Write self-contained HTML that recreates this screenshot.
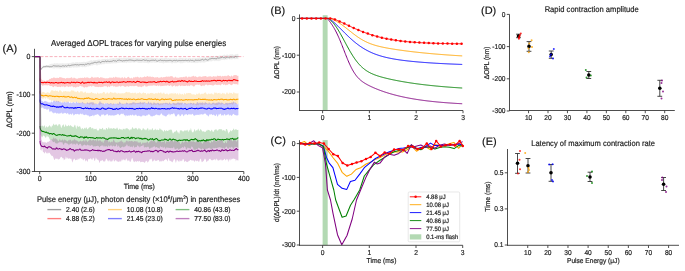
<!DOCTYPE html>
<html><head><meta charset="utf-8"><style>
html,body{margin:0;padding:0;background:#fff;}
svg{display:block;font-family:"Liberation Sans", sans-serif;text-rendering:geometricPrecision;}
text{-webkit-font-smoothing:antialiased;stroke:#222;stroke-width:0.18px;}
.wrap{will-change:transform;filter:blur(0.3px);}
</style></head><body>
<div class="wrap"><svg width="685" height="271" viewBox="0 0 685 271">
<rect width="685" height="271" fill="#fff"/>
<line x1="40.5" y1="56.6" x2="243.5" y2="56.6" stroke="#f5a3b0" stroke-width="0.85" stroke-dasharray="3,1.6"/>
<polygon points="40.3,57.6 41.4,67.21 41.9,66.6 42.4,66.05 42.9,65.65 43.4,65.51 43.9,65.39 44.4,65.55 44.9,65.65 45.4,65.33 45.9,65.21 46.4,65.32 46.9,65.33 47.4,65.16 47.9,64.93 48.4,64.97 48.9,64.93 49.4,64.45 49.9,64.3 50.4,63.94 50.9,63.89 51.4,63.75 51.9,63.86 52.4,63.65 52.9,63.8 53.4,63.78 53.9,63.5 54.4,63.04 54.9,63.35 55.4,63.53 55.9,63.48 56.4,63.17 56.9,63.28 57.4,63.25 57.9,63.33 58.4,63.65 58.9,63.35 59.4,63.4 59.9,63.58 60.4,63.38 60.9,63.35 61.4,63.43 61.9,63.32 62.4,63.1 62.9,63.41 63.4,63.58 63.9,63.25 64.4,63.47 64.9,63.38 65.4,63.35 65.9,63.74 66.4,63.51 66.9,63.05 67.4,63.17 67.9,63.3 68.4,63.11 68.9,63.16 69.4,63.06 69.9,63.22 70.4,63.24 70.9,62.83 71.4,62.73 71.9,62.66 72.4,62.57 72.9,62.31 73.4,62.35 73.9,62.56 74.4,62.75 74.9,62.67 75.4,62.12 75.9,62.15 76.4,62.28 76.9,61.88 77.4,62.06 77.9,62.34 78.4,62.55 78.9,62.47 79.4,62.17 79.9,62.05 80.4,62.15 80.9,62.42 81.4,62.1 81.9,62.02 82.4,62.09 82.9,62.01 83.4,61.83 83.9,61.74 84.4,61.85 84.9,61.91 85.4,62.07 85.9,61.93 86.4,61.74 86.9,61.72 87.4,61.53 87.9,61.57 88.4,61.32 88.9,61.21 89.4,60.82 89.9,60.85 90.4,60.39 90.9,60.2 91.4,60.37 91.9,60.37 92.4,60.63 92.9,60.83 93.4,60.22 93.9,60.12 94.4,60.24 94.9,60.25 95.4,59.96 95.9,59.93 96.4,60.07 96.9,59.97 97.4,59.65 97.9,59.64 98.4,59.58 98.9,59.4 99.4,59.55 99.9,59.59 100.4,59.82 100.9,59.7 101.4,59.52 101.9,59.33 102.4,59.21 102.9,58.83 103.4,58.93 103.9,59.07 104.4,58.74 104.9,59 105.4,58.8 105.9,58.98 106.4,58.88 106.9,59.04 107.4,58.84 107.9,58.61 108.4,59.07 108.9,59.13 109.4,58.74 109.9,58.52 110.4,58.43 110.9,58.39 111.4,58.58 111.9,58.38 112.4,58.27 112.9,58.11 113.4,58.03 113.9,58.04 114.4,58.44 114.9,58.37 115.4,58.4 115.9,58.25 116.4,57.97 116.9,57.96 117.4,57.95 117.9,58.01 118.4,57.95 118.9,57.87 119.4,57.61 119.9,57.85 120.4,58.25 120.9,57.9 121.4,57.73 121.9,58.05 122.4,58.16 122.9,57.7 123.4,57.71 123.9,57.66 124.4,57.49 124.9,57.9 125.4,57.94 125.9,57.85 126.4,57.78 126.9,57.87 127.4,57.76 127.9,57.68 128.4,57.4 128.9,57.55 129.4,57.92 129.9,57.68 130.4,57.65 130.9,57.64 131.4,57.55 131.9,57.57 132.4,57.81 132.9,57.82 133.4,57.78 133.9,57.96 134.4,58.2 134.9,58.16 135.4,57.96 135.9,57.69 136.4,57.61 136.9,58.06 137.4,58.09 137.9,57.9 138.4,58.03 138.9,58.19 139.4,58.29 139.9,58.21 140.4,58.04 140.9,58.19 141.4,57.83 141.9,58.05 142.4,58.18 142.9,58.3 143.4,58.53 143.9,58.24 144.4,57.56 144.9,57.43 145.4,57.79 145.9,57.62 146.4,57.81 146.9,57.91 147.4,57.4 147.9,57.27 148.4,57.81 148.9,57.96 149.4,57.85 149.9,57.85 150.4,57.71 150.9,57.63 151.4,57.86 151.9,57.76 152.4,57.74 152.9,58.15 153.4,58.23 153.9,58.25 154.4,58.01 154.9,57.97 155.4,57.97 155.9,58 156.4,58.16 156.9,58.11 157.4,58.32 157.9,58.52 158.4,58.7 158.9,58.21 159.4,58.36 159.9,58.26 160.4,58.13 160.9,57.92 161.4,58.08 161.9,58.3 162.4,58.23 162.9,58.12 163.4,58.14 163.9,58.39 164.4,58.09 164.9,57.61 165.4,57.65 165.9,57.45 166.4,57.29 166.9,57.97 167.4,58.49 167.9,58.27 168.4,57.89 168.9,57.97 169.4,58.39 169.9,58.33 170.4,58.17 170.9,58.15 171.4,58.18 171.9,58.39 172.4,58.37 172.9,58.16 173.4,58.02 173.9,58.23 174.4,58.26 174.9,58.42 175.4,58.1 175.9,58.24 176.4,58.22 176.9,58.15 177.4,58.73 177.9,58.73 178.4,58.28 178.9,58.28 179.4,58.01 179.9,57.53 180.4,57.86 180.9,58.01 181.4,57.96 181.9,57.78 182.4,57.85 182.9,58.07 183.4,58.34 183.9,58.25 184.4,58.17 184.9,58.38 185.4,58.03 185.9,57.77 186.4,57.68 186.9,58.29 187.4,58.41 187.9,58.31 188.4,58.18 188.9,58.05 189.4,58.03 189.9,57.96 190.4,57.96 190.9,58.16 191.4,58.49 191.9,58.31 192.4,58.08 192.9,57.97 193.4,58.1 193.9,58.46 194.4,58.3 194.9,58.14 195.4,57.97 195.9,57.79 196.4,58.06 196.9,58.2 197.4,57.97 197.9,57.88 198.4,57.89 198.9,57.85 199.4,57.49 199.9,57.5 200.4,57.55 200.9,57.69 201.4,57.56 201.9,57.73 202.4,57.85 202.9,57.36 203.4,57.18 203.9,57.28 204.4,57.25 204.9,57.11 205.4,57.44 205.9,57.63 206.4,57.16 206.9,56.85 207.4,56.76 207.9,56.79 208.4,56.42 208.9,56.43 209.4,56.65 209.9,56.43 210.4,56.74 210.9,56.85 211.4,56.59 211.9,56.61 212.4,56.71 212.9,56.25 213.4,55.88 213.9,55.83 214.4,56.19 214.9,56.57 215.4,56.4 215.9,55.86 216.4,55.77 216.9,55.88 217.4,56.04 217.9,55.95 218.4,55.91 218.9,55.79 219.4,55.58 219.9,55.5 220.4,55.51 220.9,55.47 221.4,55.63 221.9,55.82 222.4,55.57 222.9,55.18 223.4,54.83 223.9,54.94 224.4,54.61 224.9,54.7 225.4,55.13 225.9,55.2 226.4,54.82 226.9,54.45 227.4,54.54 227.9,54.71 228.4,55.02 228.9,55.26 229.4,54.79 229.9,54.37 230.4,54.24 230.9,54.49 231.4,54.41 231.9,54.3 232.4,54.34 232.9,54.34 233.4,54.77 233.9,54.91 234.4,54.7 234.9,54.38 235.4,54.34 235.9,54.27 236.4,54.14 236.9,54.06 237.4,53.85 237.9,53.89 238.4,54.35 238.4,59.2 237.9,59.19 237.4,59.1 236.9,58.97 236.4,59.12 235.9,59.24 235.4,59.05 234.9,58.89 234.4,59.4 233.9,59.03 233.4,58.85 232.9,59.18 232.4,59.3 231.9,59.45 231.4,59.48 230.9,59.33 230.4,59.29 229.9,59.51 229.4,59.56 228.9,59.25 228.4,59.06 227.9,59.25 227.4,59.53 226.9,59.77 226.4,59.74 225.9,59.58 225.4,59.53 224.9,59.71 224.4,60.19 223.9,60.02 223.4,59.82 222.9,59.74 222.4,59.93 221.9,59.84 221.4,60.03 220.9,60.42 220.4,60.44 219.9,60.58 219.4,60.92 218.9,61.25 218.4,61.02 217.9,60.72 217.4,60.97 216.9,61.16 216.4,60.66 215.9,60.59 215.4,61.05 214.9,61.26 214.4,60.93 213.9,60.54 213.4,60.7 212.9,60.59 212.4,60.94 211.9,61.47 211.4,61.31 210.9,61.35 210.4,61.28 209.9,61.29 209.4,61.33 208.9,61.62 208.4,61.78 207.9,61.61 207.4,61.84 206.9,61.82 206.4,61.91 205.9,62.1 205.4,62.24 204.9,62.45 204.4,62.54 203.9,62.66 203.4,62.44 202.9,62.31 202.4,62.45 201.9,62.32 201.4,62.47 200.9,62.66 200.4,62.78 199.9,62.61 199.4,62.62 198.9,62.57 198.4,62.64 197.9,62.75 197.4,63.01 196.9,63.22 196.4,62.76 195.9,62.49 195.4,63.23 194.9,63.31 194.4,62.81 193.9,62.88 193.4,63 192.9,62.7 192.4,62.63 191.9,62.89 191.4,62.92 190.9,62.75 190.4,62.6 189.9,62.38 189.4,62.84 188.9,62.82 188.4,62.87 187.9,62.85 187.4,62.77 186.9,62.62 186.4,62.29 185.9,62.26 185.4,62.8 184.9,62.61 184.4,62.66 183.9,62.63 183.4,62.79 182.9,63.2 182.4,63.14 181.9,62.86 181.4,63.28 180.9,63.53 180.4,63.13 179.9,62.85 179.4,62.87 178.9,62.49 178.4,62.46 177.9,62.42 177.4,62.59 176.9,62.85 176.4,63.24 175.9,63.2 175.4,62.9 174.9,62.89 174.4,63.14 173.9,62.98 173.4,62.74 172.9,62.74 172.4,63.39 171.9,63.64 171.4,63.09 170.9,62.63 170.4,62.64 169.9,62.61 169.4,62.74 168.9,62.98 168.4,62.7 167.9,62.52 167.4,63.1 166.9,63.08 166.4,63.09 165.9,63.01 165.4,63.03 164.9,62.85 164.4,63.01 163.9,63.31 163.4,63.6 162.9,63.36 162.4,63.07 161.9,62.96 161.4,62.96 160.9,62.74 160.4,63.01 159.9,62.96 159.4,63.12 158.9,62.61 158.4,62.24 157.9,62.38 157.4,62.34 156.9,62.45 156.4,62.87 155.9,62.8 155.4,62.68 154.9,62.81 154.4,62.86 153.9,62.53 153.4,62.6 152.9,62.51 152.4,62.73 151.9,62.81 151.4,62.86 150.9,62.8 150.4,62.56 149.9,62.6 149.4,63.05 148.9,63.31 148.4,63.14 147.9,63.32 147.4,63.02 146.9,63.1 146.4,63.02 145.9,62.81 145.4,62.92 144.9,62.84 144.4,62.91 143.9,62.7 143.4,62.73 142.9,62.74 142.4,62.58 141.9,62.79 141.4,63.02 140.9,62.98 140.4,62.85 139.9,62.88 139.4,62.94 138.9,62.78 138.4,62.89 137.9,62.84 137.4,62.43 136.9,62.16 136.4,62.16 135.9,62.27 135.4,62.48 134.9,62.41 134.4,62.54 133.9,62.66 133.4,62.43 132.9,62.5 132.4,62.16 131.9,62.55 131.4,62.61 130.9,62.71 130.4,62.66 129.9,62.61 129.4,62.82 128.9,62.86 128.4,62.66 127.9,62.31 127.4,62.29 126.9,63.08 126.4,63.14 125.9,62.72 125.4,62.65 124.9,62.58 124.4,63.02 123.9,62.94 123.4,62.87 122.9,62.8 122.4,62.67 121.9,62.75 121.4,62.53 120.9,62.52 120.4,62.71 119.9,62.79 119.4,62.71 118.9,62.71 118.4,62.92 117.9,63 117.4,62.97 116.9,63.24 116.4,63.25 115.9,63.24 115.4,63.58 114.9,63.53 114.4,63.22 113.9,62.99 113.4,63.41 112.9,63.69 112.4,63.26 111.9,63.35 111.4,63.57 110.9,63.38 110.4,63.76 109.9,63.63 109.4,63.39 108.9,63.52 108.4,63.82 107.9,63.78 107.4,63.84 106.9,63.98 106.4,63.86 105.9,63.34 105.4,63.65 104.9,64.09 104.4,64.13 103.9,64.26 103.4,64.15 102.9,64.03 102.4,64.33 101.9,64.58 101.4,64.48 100.9,64.46 100.4,64.26 99.9,64.7 99.4,64.66 98.9,64.75 98.4,64.84 97.9,64.92 97.4,65.42 96.9,65.66 96.4,65.25 95.9,64.79 95.4,64.83 94.9,64.82 94.4,65.12 93.9,65.08 93.4,65.05 92.9,65.5 92.4,65.41 91.9,65.32 91.4,65.59 90.9,65.82 90.4,65.9 89.9,66.03 89.4,66.09 88.9,66.38 88.4,66.41 87.9,66.27 87.4,66.36 86.9,66.86 86.4,66.88 85.9,66.87 85.4,67.14 84.9,67.39 84.4,67.12 83.9,66.78 83.4,67.04 82.9,67.14 82.4,67.32 81.9,67.05 81.4,66.97 80.9,66.82 80.4,66.58 79.9,66.88 79.4,67.38 78.9,67.3 78.4,67.14 77.9,67.15 77.4,67.59 76.9,67.87 76.4,67.38 75.9,67.24 75.4,67.42 74.9,67.32 74.4,67.61 73.9,67.69 73.4,67.73 72.9,67.33 72.4,67.23 71.9,67.45 71.4,67.7 70.9,67.64 70.4,67.78 69.9,68.02 69.4,68.04 68.9,67.67 68.4,67.45 67.9,67.78 67.4,68.03 66.9,67.94 66.4,67.67 65.9,67.63 65.4,67.95 64.9,67.99 64.4,68.08 63.9,68.26 63.4,68.2 62.9,68.17 62.4,68.37 61.9,68.16 61.4,68.12 60.9,68.26 60.4,68.89 59.9,68.73 59.4,68.3 58.9,68.14 58.4,68.32 57.9,68.27 57.4,68.28 56.9,68.18 56.4,68.27 55.9,68.21 55.4,67.94 54.9,68.13 54.4,68.62 53.9,68.8 53.4,68.33 52.9,68.3 52.4,68.22 51.9,68.04 51.4,67.83 50.9,68.04 50.4,68.11 49.9,68.08 49.4,68.11 48.9,67.94 48.4,67.97 47.9,67.93 47.4,68 46.9,68.01 46.4,68.07 45.9,67.69 45.4,67.95 44.9,68.22 44.4,67.97 43.9,67.97 43.4,68.01 42.9,68.1 42.4,68.73 41.9,69.52 41.4,69.97 40.3,69.51" fill="#808080" fill-opacity="0.14" stroke="none"/>
<polygon points="40.3,57.6 41.4,79.25 41.9,79.57 42.4,80.41 42.9,80.22 43.4,80.53 43.9,80.96 44.4,80.72 44.9,80.78 45.4,81.48 45.9,81.01 46.4,80.4 46.9,80.57 47.4,80.48 47.9,80.01 48.4,80.16 48.9,79.71 49.4,78.73 49.9,78.94 50.4,78.98 50.9,78.45 51.4,77.91 51.9,78.13 52.4,78.3 52.9,77.88 53.4,77.36 53.9,77.85 54.4,77.44 54.9,77.8 55.4,78.32 55.9,77.69 56.4,77.76 56.9,78.17 57.4,77.77 57.9,77.76 58.4,78.06 58.9,78.06 59.4,76.91 59.9,77.16 60.4,77.37 60.9,77.32 61.4,77.4 61.9,77.56 62.4,77.9 62.9,77.81 63.4,78.12 63.9,78.36 64.4,77.91 64.9,78.28 65.4,78.87 65.9,78.48 66.4,77.92 66.9,77.9 67.4,77.76 67.9,78.16 68.4,78.21 68.9,77.69 69.4,77.88 69.9,78.19 70.4,77.79 70.9,77.77 71.4,77.28 71.9,77.28 72.4,77.9 72.9,78.78 73.4,78.01 73.9,77.56 74.4,77.67 74.9,77.93 75.4,78.24 75.9,78.42 76.4,78.87 76.9,78.56 77.4,78.74 77.9,78.48 78.4,78.23 78.9,77.7 79.4,77.96 79.9,78.28 80.4,77.91 80.9,77.38 81.4,78.11 81.9,77.93 82.4,77.74 82.9,77.87 83.4,77.88 83.9,77.91 84.4,77.2 84.9,77.29 85.4,77.79 85.9,77.91 86.4,77.55 86.9,77.33 87.4,77.21 87.9,77.69 88.4,77.95 88.9,77.47 89.4,78.31 89.9,78.19 90.4,77.78 90.9,77.93 91.4,77.06 91.9,76.62 92.4,76.99 92.9,77.59 93.4,77.75 93.9,77.64 94.4,77.68 94.9,77.11 95.4,77.72 95.9,77.37 96.4,77.54 96.9,77.52 97.4,77.22 97.9,77.08 98.4,77.24 98.9,77.74 99.4,78.11 99.9,77.95 100.4,77.31 100.9,77.11 101.4,77.38 101.9,77.56 102.4,77.19 102.9,78.17 103.4,77.88 103.9,77.65 104.4,78.09 104.9,78.47 105.4,78.32 105.9,78.42 106.4,78.12 106.9,78.52 107.4,78.48 107.9,78.08 108.4,78.34 108.9,77.98 109.4,77.63 109.9,77.36 110.4,77.59 110.9,77.96 111.4,77.39 111.9,77.85 112.4,77.91 112.9,77.55 113.4,76.79 113.9,77.39 114.4,77.84 114.9,77.47 115.4,77.07 115.9,76.59 116.4,77.26 116.9,77.48 117.4,77.65 117.9,77.02 118.4,77.61 118.9,77.65 119.4,77.69 119.9,77.32 120.4,77.68 120.9,78.54 121.4,77.66 121.9,77.14 122.4,77.27 122.9,77.38 123.4,78.36 123.9,78.48 124.4,77.28 124.9,76.8 125.4,77.95 125.9,78.27 126.4,78.16 126.9,77.98 127.4,77.21 127.9,77.03 128.4,76.67 128.9,76.95 129.4,77.79 129.9,77.89 130.4,78.57 130.9,78.1 131.4,77.55 131.9,78.25 132.4,78.65 132.9,77.93 133.4,77.09 133.9,77.54 134.4,77.86 134.9,77.08 135.4,76.87 135.9,77.5 136.4,77.2 136.9,76.66 137.4,76.74 137.9,76.84 138.4,77.27 138.9,77.44 139.4,77.81 139.9,77.41 140.4,76.71 140.9,77.14 141.4,77.54 141.9,77.46 142.4,77.46 142.9,76.94 143.4,76.9 143.9,77.37 144.4,76.53 144.9,76.15 145.4,77.1 145.9,76.91 146.4,76.68 146.9,76.27 147.4,76.02 147.9,76.19 148.4,76.75 148.9,76.84 149.4,76.28 149.9,76.98 150.4,76.6 150.9,76.61 151.4,77.2 151.9,76.87 152.4,76.52 152.9,77.33 153.4,76.98 153.9,77.02 154.4,77.42 154.9,77.63 155.4,77.2 155.9,77.35 156.4,77.13 156.9,77.45 157.4,77.03 157.9,77.01 158.4,77.88 158.9,77.45 159.4,77.39 159.9,78.08 160.4,77.46 160.9,76.91 161.4,77.19 161.9,76.84 162.4,77.57 162.9,77.73 163.4,77.06 163.9,76.98 164.4,77.34 164.9,77.11 165.4,76.85 165.9,76.93 166.4,76.18 166.9,76.66 167.4,76.79 167.9,76.8 168.4,76.68 168.9,76.29 169.4,76.82 169.9,76.64 170.4,76.22 170.9,76 171.4,76.07 171.9,76.56 172.4,76.31 172.9,76.87 173.4,77.56 173.9,77.78 174.4,77.73 174.9,76.89 175.4,76.53 175.9,77.24 176.4,77.48 176.9,77.69 177.4,77.42 177.9,77.64 178.4,77.66 178.9,77.63 179.4,77.47 179.9,77.36 180.4,77.3 180.9,77.25 181.4,77.29 181.9,77.05 182.4,77.44 182.9,76.99 183.4,76.9 183.9,76.69 184.4,76.84 184.9,77.51 185.4,76.78 185.9,76.07 186.4,76.23 186.9,76.9 187.4,77.77 187.9,77.37 188.4,77.05 188.9,76.37 189.4,76.63 189.9,77.07 190.4,77.25 190.9,76.57 191.4,76.71 191.9,76.61 192.4,76.19 192.9,76.37 193.4,76.08 193.9,75.61 194.4,76.58 194.9,76.88 195.4,76.32 195.9,76.09 196.4,77 196.9,76.95 197.4,77.16 197.9,77.17 198.4,76.56 198.9,76.7 199.4,76.43 199.9,76.21 200.4,76.39 200.9,76.66 201.4,76.99 201.9,76.71 202.4,76.4 202.9,76.48 203.4,76.49 203.9,76.04 204.4,76.13 204.9,76.18 205.4,76.03 205.9,76.11 206.4,76.29 206.9,77.26 207.4,76.94 207.9,76.4 208.4,76.31 208.9,76.96 209.4,76.51 209.9,76.12 210.4,76.19 210.9,76.38 211.4,76.67 211.9,76.67 212.4,76.91 212.9,76.19 213.4,76.24 213.9,76.07 214.4,76.76 214.9,76.28 215.4,76.23 215.9,76.73 216.4,76.72 216.9,75.92 217.4,75.81 217.9,75.58 218.4,76.01 218.9,76.12 219.4,75.91 219.9,75.75 220.4,75.85 220.9,75.95 221.4,76.57 221.9,76.64 222.4,75.7 222.9,76 223.4,76.19 223.9,76.33 224.4,75.88 224.9,75.73 225.4,75.66 225.9,76.18 226.4,76.13 226.9,75.81 227.4,75.8 227.9,75.36 228.4,74.93 228.9,75.75 229.4,75.99 229.9,76.04 230.4,76.52 230.9,76.42 231.4,75.5 231.9,75.52 232.4,76.53 232.9,76.56 233.4,75.53 233.9,75.07 234.4,75.13 234.9,75.06 235.4,74.9 235.9,75.37 236.4,75.17 236.9,75.34 237.4,76.04 237.9,75.67 238.4,75.67 238.4,84.8 237.9,84.47 237.4,84.54 236.9,84.41 236.4,84 235.9,83.91 235.4,84.28 234.9,84.18 234.4,84.04 233.9,83.93 233.4,83.57 232.9,84.11 232.4,84.82 231.9,85.01 231.4,85.14 230.9,85 230.4,84.65 229.9,84.33 229.4,83.97 228.9,83.89 228.4,84.25 227.9,84.62 227.4,85.12 226.9,85.29 226.4,84.74 225.9,84.84 225.4,85.41 224.9,84.78 224.4,84.32 223.9,84.73 223.4,85.02 222.9,84.18 222.4,83.82 221.9,84.03 221.4,84.56 220.9,85.31 220.4,85.38 219.9,84.48 219.4,84.93 218.9,85.1 218.4,84.87 217.9,84.82 217.4,85.23 216.9,84.84 216.4,85.05 215.9,84.89 215.4,84.27 214.9,84.43 214.4,84.99 213.9,85.03 213.4,85.72 212.9,85.46 212.4,85.61 211.9,85.07 211.4,85.2 210.9,84.91 210.4,84.94 209.9,84.96 209.4,84.82 208.9,85.2 208.4,85.02 207.9,85.14 207.4,85.39 206.9,84.71 206.4,84.39 205.9,84.8 205.4,84.72 204.9,85.07 204.4,85.97 203.9,86.17 203.4,85.19 202.9,85.42 202.4,85.48 201.9,85.96 201.4,86.18 200.9,85.87 200.4,85.6 199.9,84.86 199.4,84.47 198.9,84.76 198.4,84.95 197.9,84.77 197.4,84.62 196.9,84.77 196.4,84.72 195.9,84.84 195.4,85.06 194.9,85.77 194.4,86.35 193.9,87.05 193.4,86.35 192.9,85.71 192.4,85.76 191.9,85.26 191.4,85.27 190.9,85.53 190.4,85.11 189.9,85.76 189.4,86.16 188.9,85.94 188.4,85.56 187.9,85.53 187.4,86.33 186.9,85.71 186.4,85.16 185.9,85.73 185.4,85.97 184.9,86.03 184.4,86.03 183.9,85.85 183.4,86.04 182.9,86.23 182.4,85.52 181.9,85.56 181.4,85.73 180.9,85.93 180.4,86.36 179.9,86.05 179.4,85.03 178.9,85.14 178.4,85.9 177.9,86.12 177.4,86.44 176.9,86.19 176.4,86.01 175.9,86.31 175.4,86.66 174.9,85.46 174.4,85.36 173.9,85.99 173.4,85.77 172.9,86.22 172.4,86.87 171.9,86.42 171.4,85.78 170.9,85.06 170.4,85.25 169.9,86.02 169.4,85.96 168.9,85.73 168.4,85.44 167.9,85.06 167.4,85.53 166.9,85.58 166.4,85.69 165.9,85.7 165.4,85.43 164.9,85.63 164.4,85.74 163.9,85.53 163.4,86.01 162.9,86.08 162.4,85.88 161.9,85.67 161.4,86.03 160.9,86.42 160.4,86.12 159.9,85.3 159.4,85.57 158.9,86.15 158.4,85.9 157.9,85.56 157.4,85.37 156.9,85.93 156.4,86.04 155.9,85.71 155.4,85.45 154.9,85.94 154.4,85.23 153.9,84.91 153.4,85.43 152.9,85.76 152.4,85.51 151.9,85.66 151.4,85.66 150.9,85.22 150.4,85.86 149.9,86.16 149.4,85.56 148.9,85.47 148.4,86.06 147.9,86.05 147.4,86.54 146.9,86.61 146.4,86.59 145.9,86.65 145.4,86.24 144.9,85.05 144.4,85.62 143.9,86.12 143.4,86.51 142.9,86.01 142.4,86.55 141.9,87.31 141.4,86.91 140.9,86.75 140.4,86.66 139.9,86.61 139.4,86.85 138.9,86.57 138.4,86.94 137.9,86.94 137.4,86.21 136.9,85.78 136.4,85.7 135.9,85.91 135.4,85.78 134.9,86.05 134.4,86.31 133.9,86.04 133.4,86.35 132.9,86.37 132.4,85.82 131.9,86.01 131.4,86.28 130.9,86.06 130.4,85.95 129.9,85.73 129.4,86.21 128.9,86.74 128.4,86.79 127.9,86.2 127.4,86.23 126.9,86.09 126.4,86.57 125.9,86.77 125.4,86.68 124.9,87.03 124.4,86.62 123.9,86.23 123.4,86.01 122.9,85.71 122.4,85.75 121.9,86.34 121.4,86.12 120.9,86.42 120.4,86.83 119.9,85.87 119.4,86.03 118.9,86.5 118.4,86.26 117.9,86.54 117.4,86.72 116.9,86.46 116.4,86.68 115.9,87.19 115.4,86.5 114.9,86.38 114.4,85.96 113.9,86.8 113.4,86.46 112.9,85.54 112.4,85.79 111.9,86.19 111.4,86.05 110.9,85.42 110.4,86.11 109.9,87.17 109.4,86.66 108.9,86.64 108.4,86.08 107.9,86.92 107.4,87.39 106.9,86.39 106.4,86.18 105.9,85.95 105.4,86.34 104.9,86.71 104.4,85.63 103.9,86.23 103.4,86.84 102.9,86.71 102.4,86.94 101.9,86.84 101.4,87.02 100.9,87.15 100.4,86.91 99.9,86.68 99.4,86.78 98.9,87 98.4,87.18 97.9,86.83 97.4,87.02 96.9,86.92 96.4,86.77 95.9,86.8 95.4,87.05 94.9,86.53 94.4,86.54 93.9,86.16 93.4,85.79 92.9,85.56 92.4,86.3 91.9,86.55 91.4,86.63 90.9,86.07 90.4,85.97 89.9,86.32 89.4,86.43 88.9,86.35 88.4,86.49 87.9,86.69 87.4,87.25 86.9,87.21 86.4,87.18 85.9,87.17 85.4,86.73 84.9,87.52 84.4,87.67 83.9,87.14 83.4,87.21 82.9,87.01 82.4,86.33 81.9,86.61 81.4,86.44 80.9,85.83 80.4,85.94 79.9,85.8 79.4,86.2 78.9,86.82 78.4,86.9 77.9,86.84 77.4,86.81 76.9,86.87 76.4,87.33 75.9,87.61 75.4,87.44 74.9,87.3 74.4,86.93 73.9,87.08 73.4,87.46 72.9,87.03 72.4,86.36 71.9,86.03 71.4,86.49 70.9,86.48 70.4,86.69 69.9,86.55 69.4,86.44 68.9,86.78 68.4,87.26 67.9,86.84 67.4,86.49 66.9,85.74 66.4,86.5 65.9,86.67 65.4,86.77 64.9,87.6 64.4,87.11 63.9,86.37 63.4,86.42 62.9,86.76 62.4,86.66 61.9,86.25 61.4,86.59 60.9,87.05 60.4,87.21 59.9,86.87 59.4,86.66 58.9,86.98 58.4,86.85 57.9,86.91 57.4,86.93 56.9,86.95 56.4,86.25 55.9,86.23 55.4,86.4 54.9,86.26 54.4,86.08 53.9,86.94 53.4,87.2 52.9,86.69 52.4,86.68 51.9,85.99 51.4,86 50.9,86.14 50.4,85.92 49.9,86.02 49.4,85.47 48.9,85.19 48.4,85.02 47.9,85.31 47.4,85.45 46.9,85.17 46.4,85.35 45.9,85.28 45.4,85.19 44.9,85.26 44.4,85.22 43.9,84.93 43.4,85.48 42.9,86.04 42.4,85.77 41.9,84.67 41.4,84.65 40.3,84.38" fill="#ff0000" fill-opacity="0.22" stroke="none"/>
<polygon points="40.3,57.6 41.4,92.81 41.9,92.68 42.4,91.83 42.9,91.96 43.4,92.03 43.9,91.79 44.4,92.44 44.9,92.81 45.4,92.75 45.9,93.52 46.4,92.7 46.9,92.38 47.4,92.21 47.9,92.18 48.4,92.52 48.9,92.75 49.4,93.27 49.9,92.68 50.4,92.06 50.9,91.05 51.4,90.18 51.9,90.28 52.4,90.31 52.9,90.62 53.4,90.44 53.9,91.23 54.4,91.01 54.9,90.71 55.4,90.47 55.9,90.57 56.4,90.96 56.9,90.89 57.4,90.43 57.9,91.24 58.4,92.26 58.9,91.14 59.4,90.52 59.9,90.09 60.4,90.04 60.9,91.27 61.4,91.22 61.9,91.47 62.4,92.49 62.9,92.36 63.4,90.91 63.9,91.35 64.4,91.39 64.9,91.16 65.4,91.02 65.9,91.03 66.4,91.59 66.9,91.43 67.4,91.26 67.9,91.64 68.4,91.53 68.9,91.27 69.4,91.52 69.9,91.98 70.4,91.44 70.9,90.72 71.4,90.27 71.9,90.36 72.4,90.35 72.9,90.99 73.4,90.89 73.9,90.1 74.4,91.25 74.9,92.06 75.4,91.75 75.9,91.43 76.4,92.17 76.9,91.44 77.4,90.79 77.9,91.11 78.4,91.75 78.9,92.6 79.4,92.67 79.9,92.06 80.4,91.25 80.9,91.25 81.4,91.36 81.9,91.55 82.4,91.24 82.9,92.32 83.4,92.86 83.9,92.72 84.4,92.46 84.9,91.82 85.4,91.4 85.9,92.22 86.4,93.33 86.9,93.17 87.4,92.55 87.9,92.97 88.4,92.85 88.9,93.61 89.4,93.1 89.9,92.76 90.4,92.95 90.9,92.46 91.4,92.1 91.9,92.1 92.4,92.97 92.9,93.15 93.4,92.97 93.9,93.32 94.4,93.85 94.9,93.26 95.4,92.94 95.9,93.93 96.4,94.31 96.9,93.31 97.4,92.16 97.9,92.88 98.4,93.62 98.9,93.8 99.4,93.87 99.9,92.88 100.4,93.3 100.9,93.25 101.4,93.6 101.9,93.25 102.4,93.16 102.9,92.4 103.4,91.77 103.9,91.89 104.4,92.22 104.9,92.47 105.4,93.67 105.9,94.02 106.4,93.27 106.9,92.53 107.4,92.42 107.9,92.62 108.4,93.63 108.9,93.41 109.4,93.23 109.9,92.42 110.4,91.65 110.9,91.89 111.4,92.24 111.9,92.99 112.4,92.87 112.9,92.39 113.4,92.73 113.9,93.49 114.4,92.5 114.9,92.28 115.4,92.71 115.9,92.61 116.4,92.97 116.9,93.82 117.4,93.88 117.9,92.54 118.4,92.93 118.9,93.36 119.4,93.38 119.9,93.16 120.4,93.27 120.9,93.75 121.4,93.29 121.9,93.28 122.4,93.31 122.9,93.3 123.4,93.21 123.9,93.5 124.4,93.06 124.9,92.99 125.4,92.57 125.9,92.07 126.4,91.83 126.9,92.02 127.4,92.54 127.9,92.21 128.4,92.05 128.9,92.86 129.4,92.59 129.9,92.1 130.4,93.3 130.9,93.02 131.4,92.92 131.9,93.24 132.4,92.75 132.9,92.71 133.4,93.56 133.9,92.74 134.4,92.73 134.9,93.12 135.4,92.54 135.9,92.65 136.4,93.44 136.9,94.18 137.4,92.81 137.9,92.88 138.4,93.26 138.9,92.91 139.4,92.25 139.9,92.61 140.4,92.98 140.9,93.32 141.4,93.74 141.9,93.75 142.4,93.24 142.9,92.85 143.4,92.32 143.9,92.82 144.4,93.22 144.9,92.99 145.4,93.02 145.9,92.99 146.4,94.2 146.9,94.66 147.4,93.37 147.9,93.18 148.4,93.16 148.9,93.93 149.4,93.73 149.9,93.16 150.4,92.98 150.9,93 151.4,92.79 151.9,93.24 152.4,92.97 152.9,93.34 153.4,93.5 153.9,93.73 154.4,93.64 154.9,93.65 155.4,93.08 155.9,93.33 156.4,93.14 156.9,93.27 157.4,93.45 157.9,93.35 158.4,92.33 158.9,92.91 159.4,92.97 159.9,93.49 160.4,92.4 160.9,92.26 161.4,92.78 161.9,94.09 162.4,93.4 162.9,93.48 163.4,92.9 163.9,92.37 164.4,93.22 164.9,93.95 165.4,93.97 165.9,94.14 166.4,93.69 166.9,93.37 167.4,93.47 167.9,94.23 168.4,94.83 168.9,94.34 169.4,93.85 169.9,93.31 170.4,93.32 170.9,94.06 171.4,93.2 171.9,92.9 172.4,93.3 172.9,93.7 173.4,93.97 173.9,92.42 174.4,93.31 174.9,93.9 175.4,92.94 175.9,93.05 176.4,94.04 176.9,94.5 177.4,93.19 177.9,93.06 178.4,94.51 178.9,94.96 179.4,93.53 179.9,92.85 180.4,94.15 180.9,94.11 181.4,94.45 181.9,94.14 182.4,93.64 182.9,93.94 183.4,94.96 183.9,94.61 184.4,92.76 184.9,93.46 185.4,94.78 185.9,93.86 186.4,92.92 186.9,93.27 187.4,93.35 187.9,93.13 188.4,92.89 188.9,92.98 189.4,93.02 189.9,93.3 190.4,92.91 190.9,93.18 191.4,93.73 191.9,94.58 192.4,94.38 192.9,94.15 193.4,94.35 193.9,94.44 194.4,94.62 194.9,94.57 195.4,95.07 195.9,94.8 196.4,93.74 196.9,93.55 197.4,94.25 197.9,94.19 198.4,93.7 198.9,92.75 199.4,92.68 199.9,93.93 200.4,94.6 200.9,94.27 201.4,93.56 201.9,94.08 202.4,93.67 202.9,93.85 203.4,93.97 203.9,93.34 204.4,93 204.9,92.4 205.4,92.61 205.9,92.58 206.4,93.63 206.9,94.21 207.4,94.4 207.9,94.03 208.4,93.46 208.9,93.59 209.4,93.63 209.9,94.09 210.4,93.93 210.9,93.2 211.4,93.42 211.9,93.58 212.4,93.67 212.9,94.5 213.4,94.83 213.9,93.65 214.4,92.81 214.9,92.01 215.4,93 215.9,92.85 216.4,92.38 216.9,93.27 217.4,93.64 217.9,93.08 218.4,92.92 218.9,92.88 219.4,93.45 219.9,92.54 220.4,93.21 220.9,94.4 221.4,93.81 221.9,93.66 222.4,93.04 222.9,92.72 223.4,93.49 223.9,93.62 224.4,93.2 224.9,93.85 225.4,94.54 225.9,94.24 226.4,92.63 226.9,92.45 227.4,92.51 227.9,93.68 228.4,93.84 228.9,93.66 229.4,92.78 229.9,92.54 230.4,93.07 230.9,93.31 231.4,92.73 231.9,93.31 232.4,93.92 232.9,93.63 233.4,92.46 233.9,91.99 234.4,92.85 234.9,93.41 235.4,93.2 235.9,93.13 236.4,93.23 236.9,93.67 237.4,93.55 237.9,93.29 238.4,92.82 238.4,103.58 237.9,103.76 237.4,104.08 236.9,103.99 236.4,104.29 235.9,104.3 235.4,103.58 234.9,103.11 234.4,103.05 233.9,103.15 233.4,104.29 232.9,105 232.4,104.5 231.9,104.15 231.4,104.01 230.9,103.99 230.4,104.27 229.9,104.39 229.4,104.33 228.9,103.89 228.4,104.41 227.9,105.04 227.4,105.47 226.9,105.35 226.4,104.47 225.9,104.19 225.4,104.63 224.9,104.41 224.4,104.4 223.9,104.78 223.4,104.37 222.9,104.06 222.4,103.68 221.9,104.02 221.4,104.78 220.9,105.01 220.4,104.48 219.9,104.11 219.4,104.37 218.9,104.25 218.4,104.47 217.9,104.97 217.4,105.13 216.9,105.1 216.4,105.22 215.9,104.92 215.4,105.03 214.9,105.06 214.4,104.61 213.9,104.19 213.4,103.99 212.9,104.39 212.4,104.35 211.9,104.69 211.4,104.82 210.9,104.97 210.4,104.32 209.9,104.11 209.4,104.4 208.9,104.31 208.4,104.69 207.9,104.56 207.4,104.45 206.9,103.87 206.4,104.02 205.9,104.13 205.4,104.51 204.9,104.87 204.4,104.81 203.9,104.52 203.4,104.11 202.9,105.02 202.4,105.3 201.9,104.74 201.4,104.7 200.9,104.94 200.4,104.8 199.9,104.1 199.4,104.16 198.9,104.75 198.4,105.5 197.9,105.08 197.4,105.08 196.9,105.79 196.4,105.35 195.9,104.74 195.4,104.85 194.9,104.45 194.4,103.95 193.9,104.41 193.4,105.08 192.9,104.87 192.4,104.87 191.9,104.33 191.4,103.9 190.9,104.07 190.4,104.69 189.9,104.16 189.4,103.67 188.9,103.71 188.4,103.81 187.9,104.5 187.4,104.3 186.9,104.76 186.4,104.78 185.9,103.9 185.4,104.61 184.9,104.7 184.4,103.38 183.9,103.21 183.4,103.55 182.9,102.87 182.4,103.58 181.9,104.59 181.4,105.18 180.9,104.59 180.4,104.42 179.9,104.65 179.4,104.9 178.9,105.38 178.4,104.61 177.9,103.88 177.4,104.61 176.9,105.03 176.4,105.04 175.9,105.21 175.4,105.03 174.9,104.97 174.4,105.28 173.9,105.35 173.4,104.38 172.9,103.45 172.4,103.41 171.9,103.71 171.4,105 170.9,105.16 170.4,104.9 169.9,103.95 169.4,104.3 168.9,104.74 168.4,104.84 167.9,104.51 167.4,104.8 166.9,104.13 166.4,103.85 165.9,104.29 165.4,104.18 164.9,104.01 164.4,103.47 163.9,103.64 163.4,104.25 162.9,105.04 162.4,104.81 161.9,104.51 161.4,104.4 160.9,104.79 160.4,104.67 159.9,105.55 159.4,105.23 158.9,105.11 158.4,105.5 157.9,104.68 157.4,103.69 156.9,104.22 156.4,105.03 155.9,105.08 155.4,104.77 154.9,104.64 154.4,104.31 153.9,105 153.4,105.06 152.9,104.58 152.4,104.18 151.9,104.91 151.4,105.38 150.9,104.45 150.4,103.7 149.9,104.88 149.4,103.96 148.9,103.5 148.4,104.01 147.9,104.55 147.4,104.27 146.9,104.09 146.4,103.97 145.9,103.72 145.4,103.22 144.9,102.76 144.4,103.11 143.9,104.3 143.4,104.33 142.9,104.61 142.4,104.26 141.9,103.56 141.4,103.81 140.9,104.05 140.4,104.58 139.9,104.27 139.4,103.78 138.9,103.85 138.4,103.91 137.9,104.3 137.4,103.83 136.9,103.63 136.4,103.36 135.9,104.56 135.4,104.55 134.9,104.24 134.4,104.19 133.9,104.17 133.4,104.19 132.9,103.67 132.4,104.52 131.9,104.57 131.4,104.93 130.9,104.63 130.4,104.56 129.9,104.64 129.4,104.55 128.9,104.59 128.4,103.55 127.9,103.71 127.4,104.57 126.9,104.54 126.4,104.52 125.9,103.95 125.4,104.13 124.9,103.68 124.4,103.91 123.9,103.96 123.4,104.82 122.9,105.04 122.4,104.59 121.9,104.35 121.4,103.86 120.9,103.46 120.4,104.28 119.9,104.37 119.4,104.18 118.9,104.72 118.4,105.1 117.9,105.02 117.4,104.35 116.9,104.36 116.4,103.92 115.9,103.56 115.4,103.11 114.9,103.26 114.4,104.31 113.9,104.47 113.4,104.67 112.9,105.27 112.4,104.68 111.9,104.31 111.4,104.15 110.9,103.57 110.4,103.9 109.9,104.4 109.4,104.6 108.9,105.16 108.4,104.43 107.9,103.42 107.4,103.96 106.9,103.69 106.4,103.22 105.9,102.96 105.4,103.33 104.9,103.62 104.4,103.09 103.9,104.4 103.4,104.59 102.9,104.18 102.4,104.27 101.9,103.81 101.4,103.86 100.9,103.66 100.4,103.96 99.9,105.03 99.4,105.6 98.9,104.54 98.4,103.07 97.9,103.77 97.4,104.16 96.9,104.26 96.4,104.05 95.9,103.72 95.4,103.97 94.9,104.4 94.4,104.37 93.9,104.55 93.4,104.79 92.9,105.1 92.4,105.35 91.9,104.32 91.4,103.7 90.9,104.02 90.4,103.95 89.9,104.14 89.4,104.96 88.9,104.17 88.4,103.83 87.9,104.1 87.4,104.07 86.9,103.49 86.4,103.61 85.9,103.96 85.4,103.99 84.9,104.03 84.4,103.92 83.9,103.55 83.4,103.54 82.9,103.61 82.4,103.49 81.9,103.05 81.4,102.57 80.9,102.45 80.4,102.92 79.9,103.44 79.4,103.82 78.9,103.51 78.4,103.11 77.9,102.79 77.4,102.24 76.9,101.55 76.4,101.67 75.9,102.4 75.4,102.46 74.9,102.16 74.4,102.16 73.9,102.26 73.4,101.95 72.9,102.26 72.4,102.3 71.9,102.5 71.4,102.4 70.9,102.41 70.4,102.1 69.9,101.46 69.4,101.6 68.9,101.46 68.4,101.92 67.9,102.52 67.4,102.01 66.9,102.44 66.4,102.48 65.9,101.98 65.4,101.64 64.9,101.78 64.4,101.62 63.9,102.19 63.4,102.36 62.9,102.7 62.4,102.67 61.9,102.12 61.4,101.27 60.9,101.27 60.4,101.85 59.9,102.29 59.4,101.62 58.9,101.49 58.4,102.62 57.9,101.78 57.4,101.13 56.9,101.66 56.4,101.71 55.9,101.48 55.4,101.41 54.9,101.26 54.4,100.87 53.9,100.93 53.4,100.43 52.9,100.01 52.4,100.45 51.9,101.19 51.4,101.03 50.9,99.99 50.4,99.71 49.9,99.72 49.4,100.03 48.9,99.39 48.4,98.59 47.9,98.38 47.4,98.81 46.9,97.98 46.4,97.36 45.9,98.02 45.4,98.94 44.9,98.52 44.4,97.42 43.9,97.99 43.4,98.79 42.9,99.08 42.4,98.54 41.9,98.32 41.4,98 40.3,97.43" fill="#ffa500" fill-opacity="0.22" stroke="none"/>
<polygon points="40.3,57.6 41.4,100.73 41.9,100.8 42.4,101.32 42.9,101.51 43.4,101.95 43.9,101.71 44.4,101.1 44.9,101.19 45.4,101.18 45.9,100.71 46.4,101.16 46.9,101.97 47.4,101.61 47.9,102.49 48.4,102.52 48.9,102.3 49.4,102.46 49.9,102.48 50.4,102.63 50.9,101.95 51.4,101.57 51.9,101.8 52.4,102.69 52.9,101.97 53.4,100.74 53.9,100.67 54.4,100.72 54.9,100.97 55.4,101.4 55.9,101.84 56.4,100.48 56.9,101.27 57.4,101.46 57.9,100.96 58.4,101.06 58.9,101.22 59.4,101.76 59.9,102.12 60.4,101.6 60.9,102.46 61.4,102.32 61.9,102.72 62.4,102.5 62.9,102.57 63.4,102.45 63.9,102.45 64.4,101.73 64.9,101.44 65.4,102.27 65.9,102.77 66.4,102.82 66.9,101.35 67.4,101.97 67.9,102.51 68.4,101.59 68.9,102.27 69.4,103.33 69.9,102.91 70.4,102.12 70.9,102.96 71.4,103.25 71.9,102.92 72.4,102.71 72.9,102.49 73.4,101.89 73.9,102.24 74.4,102.86 74.9,103.09 75.4,103.61 75.9,102.41 76.4,101.26 76.9,102.01 77.4,102.7 77.9,102.98 78.4,102.74 78.9,102.65 79.4,103.21 79.9,102.7 80.4,102.88 80.9,102.51 81.4,102.4 81.9,103.06 82.4,101.68 82.9,102.19 83.4,103.12 83.9,103.19 84.4,103.5 84.9,103.19 85.4,103.28 85.9,104.15 86.4,103.23 86.9,102.75 87.4,102.24 87.9,102.47 88.4,103.3 88.9,103.16 89.4,102.77 89.9,102.5 90.4,102.72 90.9,101.97 91.4,102.27 91.9,102.54 92.4,102.28 92.9,102.52 93.4,102.45 93.9,102.55 94.4,103.86 94.9,103.84 95.4,103.72 95.9,103.31 96.4,103.68 96.9,103.9 97.4,104.16 97.9,104.33 98.4,103.37 98.9,103.05 99.4,102.37 99.9,100.85 100.4,101.68 100.9,102.65 101.4,102.94 101.9,102.78 102.4,103.52 102.9,103.68 103.4,103.2 103.9,103.9 104.4,104.23 104.9,103.35 105.4,102.97 105.9,103.75 106.4,103.38 106.9,103.14 107.4,103.13 107.9,103.14 108.4,103.84 108.9,104.01 109.4,104.1 109.9,103.55 110.4,102.95 110.9,103.17 111.4,103.56 111.9,103.87 112.4,104.74 112.9,103.62 113.4,103.29 113.9,104.03 114.4,103.96 114.9,103.39 115.4,103.33 115.9,103.78 116.4,103.92 116.9,103.86 117.4,103.4 117.9,103.58 118.4,103.9 118.9,103.15 119.4,101.55 119.9,102.11 120.4,102.67 120.9,103.14 121.4,103.5 121.9,104.01 122.4,103.83 122.9,103.41 123.4,103.86 123.9,104.25 124.4,103.43 124.9,103.62 125.4,104.12 125.9,103.3 126.4,102.2 126.9,102.92 127.4,103.07 127.9,103.24 128.4,103.77 128.9,103.45 129.4,103.13 129.9,103.46 130.4,103.35 130.9,103.11 131.4,103.16 131.9,102.89 132.4,102.44 132.9,102.48 133.4,102.5 133.9,101.98 134.4,102.28 134.9,103.45 135.4,103.02 135.9,102.77 136.4,102.91 136.9,102.93 137.4,102.91 137.9,102.83 138.4,102.78 138.9,102.98 139.4,102.51 139.9,102.64 140.4,101.71 140.9,101.96 141.4,102.95 141.9,102.67 142.4,102.46 142.9,102.61 143.4,102.39 143.9,102.5 144.4,101.97 144.9,102.4 145.4,102.85 145.9,103.6 146.4,103.62 146.9,103.1 147.4,103.74 147.9,102.77 148.4,101.53 148.9,101.77 149.4,103.48 149.9,103.24 150.4,102.55 150.9,102.4 151.4,102.65 151.9,103.54 152.4,103.51 152.9,103.98 153.4,102.89 153.9,101.91 154.4,102.85 154.9,102.9 155.4,103 155.9,103.79 156.4,103.36 156.9,103.51 157.4,102.93 157.9,102.5 158.4,102.89 158.9,102.97 159.4,103.82 159.9,103.85 160.4,103.29 160.9,103.39 161.4,103.45 161.9,103.28 162.4,103.53 162.9,103.36 163.4,103.29 163.9,102.76 164.4,103.14 164.9,103.24 165.4,102.81 165.9,102.66 166.4,102.71 166.9,103.13 167.4,102.77 167.9,103.44 168.4,103.89 168.9,103.1 169.4,102.17 169.9,103 170.4,103.67 170.9,103.45 171.4,103.89 171.9,103.82 172.4,103.27 172.9,102.89 173.4,102.71 173.9,102.9 174.4,103.09 174.9,103.46 175.4,103.5 175.9,103.25 176.4,103.25 176.9,103.22 177.4,102.39 177.9,102.39 178.4,102.6 178.9,102.8 179.4,102.88 179.9,102.73 180.4,102.6 180.9,103.31 181.4,103.06 181.9,102.19 182.4,102.64 182.9,102.83 183.4,103.92 183.9,103.15 184.4,102.76 184.9,103.02 185.4,102.96 185.9,103.32 186.4,103.95 186.9,103.46 187.4,103.68 187.9,103.4 188.4,102.93 188.9,103.73 189.4,103.51 189.9,103.19 190.4,102.57 190.9,103.09 191.4,103.07 191.9,103.02 192.4,104.01 192.9,103.37 193.4,102.78 193.9,103.08 194.4,103.6 194.9,103.68 195.4,103.57 195.9,103.97 196.4,103.57 196.9,102.36 197.4,102.21 197.9,102.29 198.4,103.03 198.9,103.59 199.4,103.2 199.9,102.33 200.4,102.59 200.9,103.16 201.4,102.73 201.9,102.74 202.4,102.73 202.9,102.12 203.4,103.2 203.9,103.39 204.4,103.21 204.9,102.34 205.4,102.23 205.9,102.54 206.4,102.91 206.9,102.98 207.4,103.19 207.9,103.94 208.4,103.59 208.9,102.34 209.4,102.6 209.9,103.55 210.4,103.14 210.9,103.94 211.4,103.93 211.9,102.92 212.4,102.8 212.9,102.98 213.4,102.64 213.9,102.62 214.4,103.06 214.9,103.68 215.4,103.2 215.9,103.05 216.4,102.88 216.9,102.6 217.4,103.17 217.9,102.01 218.4,102.19 218.9,102.8 219.4,102.29 219.9,103.07 220.4,103.49 220.9,102.56 221.4,102.71 221.9,102.59 222.4,102.92 222.9,103.12 223.4,103.47 223.9,104 224.4,103.88 224.9,103.78 225.4,103.35 225.9,102.55 226.4,102.95 226.9,103.06 227.4,102.78 227.9,103.53 228.4,103.26 228.9,102.96 229.4,102.67 229.9,102.98 230.4,103.12 230.9,102.98 231.4,102.72 231.9,101.97 232.4,102.97 232.9,102.19 233.4,101.37 233.9,101.94 234.4,102.52 234.9,102.95 235.4,102.61 235.9,102.87 236.4,103.16 236.9,104.31 237.4,104.21 237.9,104.17 238.4,102.96 238.4,114.98 237.9,115.16 237.4,115.56 236.9,115.32 236.4,115.51 235.9,115.5 235.4,115.08 234.9,114.96 234.4,114.8 233.9,114.17 233.4,113.82 232.9,114.23 232.4,114.92 231.9,115.44 231.4,116 230.9,115.43 230.4,114.81 229.9,114.86 229.4,115.65 228.9,115.19 228.4,113.72 227.9,114.46 227.4,114.77 226.9,114.82 226.4,115.3 225.9,115.42 225.4,115.44 224.9,114.11 224.4,114.22 223.9,114.75 223.4,115.97 222.9,114.72 222.4,115.37 221.9,115.84 221.4,115.6 220.9,114.19 220.4,113.45 219.9,114.23 219.4,114.79 218.9,113.98 218.4,115.1 217.9,116.54 217.4,116.42 216.9,115.16 216.4,113.7 215.9,115.45 215.4,115.98 214.9,115.94 214.4,115.1 213.9,114.7 213.4,114.6 212.9,114.99 212.4,115.36 211.9,114.39 211.4,114.11 210.9,114.41 210.4,114.42 209.9,114.34 209.4,114.45 208.9,115.77 208.4,116.73 207.9,115.69 207.4,115.14 206.9,115.18 206.4,114.83 205.9,114.02 205.4,113.5 204.9,113.72 204.4,113.58 203.9,114.02 203.4,114.42 202.9,114.52 202.4,114.71 201.9,113.96 201.4,114.29 200.9,114.66 200.4,114.57 199.9,113.84 199.4,115.19 198.9,115.1 198.4,114.67 197.9,114.76 197.4,114.83 196.9,115.19 196.4,114.75 195.9,114.74 195.4,115.1 194.9,116.07 194.4,115.38 193.9,115.31 193.4,115.6 192.9,114.04 192.4,113.86 191.9,114.4 191.4,114.48 190.9,114.44 190.4,114.32 189.9,114.93 189.4,114.05 188.9,114.33 188.4,114.3 187.9,114.96 187.4,115.15 186.9,114.74 186.4,113.94 185.9,114.35 185.4,114.6 184.9,114.49 184.4,114.66 183.9,116.25 183.4,116.02 182.9,114.87 182.4,114.33 181.9,114.04 181.4,114.78 180.9,115.74 180.4,115.94 179.9,116.39 179.4,114.97 178.9,113.99 178.4,114.57 177.9,114.34 177.4,114.92 176.9,115.8 176.4,116.46 175.9,116.38 175.4,116.33 174.9,115.14 174.4,113.84 173.9,113.37 173.4,113.4 172.9,113.9 172.4,114.22 171.9,114.37 171.4,114.05 170.9,114.28 170.4,114.74 169.9,115.73 169.4,114.06 168.9,113.62 168.4,114.43 167.9,114.98 167.4,114.69 166.9,115.55 166.4,116.59 165.9,116.28 165.4,116.55 164.9,116.25 164.4,115.39 163.9,116.02 163.4,115.23 162.9,114.47 162.4,115.39 161.9,113.91 161.4,113.23 160.9,113.85 160.4,114.68 159.9,114.99 159.4,115.46 158.9,115.49 158.4,115.06 157.9,115.27 157.4,115.12 156.9,114.36 156.4,114.65 155.9,114.8 155.4,114.95 154.9,115.47 154.4,115.83 153.9,115.96 153.4,115.56 152.9,116.4 152.4,116.31 151.9,116.16 151.4,116.34 150.9,116.38 150.4,115.67 149.9,115.03 149.4,114.46 148.9,114.38 148.4,114.37 147.9,114.69 147.4,115.46 146.9,115.45 146.4,115.14 145.9,115.87 145.4,116.32 144.9,115.67 144.4,115.46 143.9,115.55 143.4,115.58 142.9,115 142.4,115.81 141.9,116.51 141.4,116.19 140.9,116.61 140.4,116.4 139.9,115.52 139.4,116.2 138.9,115.86 138.4,115.58 137.9,116.19 137.4,115.92 136.9,115.79 136.4,115.24 135.9,114.2 135.4,115.07 134.9,115.56 134.4,115.38 133.9,115.25 133.4,115.63 132.9,114.85 132.4,114.58 131.9,115.36 131.4,115.67 130.9,114.67 130.4,115 129.9,115.48 129.4,115.56 128.9,115.61 128.4,115.26 127.9,115.82 127.4,116.01 126.9,114.96 126.4,115.43 125.9,116.65 125.4,115.39 124.9,115.07 124.4,115.42 123.9,114.85 123.4,113.54 122.9,113.45 122.4,114.19 121.9,114.05 121.4,113.5 120.9,114.26 120.4,114.15 119.9,115.31 119.4,115.2 118.9,114.63 118.4,114.03 117.9,113.81 117.4,114.27 116.9,114.87 116.4,114.75 115.9,115.28 115.4,115.06 114.9,115.14 114.4,115.44 113.9,115.43 113.4,115.46 112.9,115.69 112.4,114.92 111.9,115.49 111.4,115.62 110.9,115.21 110.4,115.67 109.9,114.94 109.4,115.18 108.9,115.52 108.4,115.83 107.9,114.87 107.4,113.77 106.9,114.21 106.4,114.61 105.9,115.11 105.4,115.14 104.9,115.62 104.4,115.52 103.9,115 103.4,114.1 102.9,114.73 102.4,114.66 101.9,114.37 101.4,114.88 100.9,115.86 100.4,116.65 99.9,116.32 99.4,115.78 98.9,115.29 98.4,114.55 97.9,114.75 97.4,113.94 96.9,114.07 96.4,115.1 95.9,115.06 95.4,114.73 94.9,114.79 94.4,115.41 93.9,116.45 93.4,115.59 92.9,115.12 92.4,115.47 91.9,115.91 91.4,116 90.9,116.08 90.4,116.27 89.9,116.42 89.4,116.55 88.9,116.23 88.4,115.3 87.9,115.32 87.4,115.5 86.9,115.25 86.4,114.74 85.9,114.19 85.4,114.79 84.9,115.34 84.4,114.94 83.9,114.97 83.4,114.54 82.9,114.71 82.4,113.49 81.9,113.8 81.4,114.5 80.9,114.1 80.4,113.36 79.9,114.26 79.4,114.58 78.9,114.86 78.4,114.3 77.9,113.82 77.4,113.91 76.9,114.37 76.4,114.24 75.9,113.89 75.4,114.06 74.9,114.52 74.4,114.81 73.9,115.41 73.4,115.2 72.9,113.22 72.4,113.44 71.9,114.54 71.4,114.71 70.9,114.3 70.4,113.86 69.9,114.07 69.4,114.68 68.9,114.68 68.4,113.87 67.9,113.44 67.4,113.07 66.9,113.24 66.4,114.24 65.9,113.33 65.4,113.03 64.9,112.82 64.4,112.99 63.9,113.73 63.4,113.27 62.9,113.46 62.4,113.71 61.9,113.43 61.4,112.22 60.9,113.53 60.4,113.32 59.9,112.88 59.4,114.1 58.9,113.37 58.4,113.85 57.9,113.79 57.4,112.71 56.9,113.42 56.4,113.71 55.9,112.61 55.4,112.91 54.9,112.45 54.4,113.11 53.9,113.5 53.4,113.13 52.9,112.14 52.4,112.63 51.9,112.26 51.4,110.94 50.9,111.08 50.4,111.57 49.9,112.14 49.4,111.46 48.9,109.45 48.4,108.43 47.9,109.4 47.4,109.44 46.9,109.76 46.4,109.48 45.9,108.81 45.4,108.93 44.9,108.78 44.4,108.96 43.9,108.71 43.4,108.27 42.9,107.22 42.4,107.48 41.9,108.2 41.4,107.82 40.3,106.72" fill="#0000ff" fill-opacity="0.22" stroke="none"/>
<polygon points="40.3,57.6 41.4,125.92 41.9,126.17 42.4,125.21 42.9,126.26 43.4,126.73 43.9,125.98 44.4,125.29 44.9,125.69 45.4,127.79 45.9,127.72 46.4,126.35 46.9,126.35 47.4,127.77 47.9,126.71 48.4,126.71 48.9,126.01 49.4,125.01 49.9,125.67 50.4,126.19 50.9,127.33 51.4,127.48 51.9,125.6 52.4,125.77 52.9,125.58 53.4,123.71 53.9,123.83 54.4,125.41 54.9,124.74 55.4,124.64 55.9,124.61 56.4,124.49 56.9,124.52 57.4,125.85 57.9,126.14 58.4,124.86 58.9,123.93 59.4,124.56 59.9,123.9 60.4,125 60.9,127.03 61.4,128.22 61.9,126.44 62.4,125.17 62.9,125.36 63.4,124.06 63.9,125.21 64.4,127.27 64.9,126.49 65.4,124.76 65.9,124.3 66.4,126.21 66.9,126.16 67.4,125.99 67.9,126.19 68.4,125.37 68.9,124.81 69.4,126.39 69.9,125.83 70.4,125.27 70.9,125.22 71.4,126.35 71.9,126.19 72.4,126.89 72.9,126.85 73.4,127.49 73.9,126.61 74.4,125.44 74.9,124.38 75.4,125.49 75.9,127.85 76.4,129.14 76.9,126.08 77.4,125.46 77.9,126.78 78.4,126.96 78.9,126.43 79.4,126.6 79.9,125.97 80.4,127.02 80.9,128.86 81.4,129.57 81.9,128.23 82.4,127.83 82.9,128.79 83.4,129.5 83.9,128.69 84.4,127.62 84.9,128.53 85.4,128.76 85.9,127.38 86.4,127.15 86.9,128.53 87.4,129.17 87.9,129.25 88.4,128.34 88.9,127.64 89.4,127.61 89.9,127.1 90.4,126.97 90.9,127.32 91.4,128.14 91.9,128.97 92.4,127.75 92.9,128 93.4,128.5 93.9,129.7 94.4,129.1 94.9,128.66 95.4,129.28 95.9,128.67 96.4,128.62 96.9,130.11 97.4,130.22 97.9,130.65 98.4,130.39 98.9,129.89 99.4,128.94 99.9,127.97 100.4,128.96 100.9,129.1 101.4,129.18 101.9,128.7 102.4,127.85 102.9,128.04 103.4,129.4 103.9,130 104.4,129.06 104.9,129.75 105.4,130.16 105.9,128.47 106.4,128.03 106.9,128.09 107.4,129.4 107.9,129.2 108.4,127.72 108.9,126.88 109.4,128.15 109.9,129.17 110.4,128.43 110.9,128.05 111.4,128.68 111.9,127.88 112.4,128.64 112.9,129.09 113.4,128.08 113.9,127.9 114.4,128.52 114.9,128.73 115.4,128.81 115.9,128.95 116.4,128.52 116.9,127.46 117.4,127.7 117.9,129.04 118.4,129.95 118.9,129.79 119.4,128.36 119.9,129.32 120.4,129.48 120.9,128.94 121.4,129.25 121.9,130.06 122.4,130.29 122.9,128.55 123.4,128.98 123.9,128.73 124.4,128.87 124.9,129.8 125.4,129.3 125.9,127.91 126.4,128.27 126.9,128.42 127.4,127.97 127.9,129.29 128.4,129.22 128.9,129.13 129.4,129.86 129.9,130.64 130.4,129.45 130.9,128.91 131.4,129.82 131.9,128.31 132.4,127.18 132.9,127.26 133.4,128.89 133.9,128.84 134.4,128.81 134.9,128.46 135.4,128.3 135.9,127.66 136.4,127.94 136.9,128.92 137.4,129.35 137.9,129.94 138.4,128.42 138.9,127.8 139.4,128.23 139.9,129.44 140.4,128.51 140.9,129.68 141.4,130.51 141.9,129.94 142.4,129.65 142.9,128.05 143.4,128.54 143.9,128.4 144.4,129.42 144.9,129.65 145.4,129.48 145.9,130.55 146.4,129.95 146.9,128.94 147.4,128.42 147.9,127.69 148.4,129.31 148.9,131.05 149.4,129.53 149.9,129.46 150.4,129.3 150.9,130.3 151.4,130.03 151.9,128.76 152.4,127.81 152.9,129.24 153.4,130.5 153.9,129.96 154.4,130.04 154.9,129.14 155.4,128.4 155.9,129.97 156.4,130.28 156.9,129.56 157.4,129.49 157.9,130 158.4,129.98 158.9,130.2 159.4,129.28 159.9,127.73 160.4,129.15 160.9,129.58 161.4,129.62 161.9,130.24 162.4,130.21 162.9,131.01 163.4,131.99 163.9,130.94 164.4,129.65 164.9,130.14 165.4,131.38 165.9,130.67 166.4,130.15 166.9,130.61 167.4,131.12 167.9,130.91 168.4,130.74 168.9,129.64 169.4,129.84 169.9,130.16 170.4,130.02 170.9,128.92 171.4,129.74 171.9,130.17 172.4,132.29 172.9,133.38 173.4,133.14 173.9,132.18 174.4,131.4 174.9,131.92 175.4,131.48 175.9,131.23 176.4,130.2 176.9,130.35 177.4,131.75 177.9,132.74 178.4,132.06 178.9,133.66 179.4,133.39 179.9,130.56 180.4,130.49 180.9,130.19 181.4,130.52 181.9,130.4 182.4,130.9 182.9,131.76 183.4,131.5 183.9,130.95 184.4,130.4 184.9,130.36 185.4,130.56 185.9,130.72 186.4,130.53 186.9,130.21 187.4,129.4 187.9,131.2 188.4,132.15 188.9,130.54 189.4,129.46 189.9,131.1 190.4,129.9 190.9,127.84 191.4,129.95 191.9,131.81 192.4,132.06 192.9,132.7 193.4,132.08 193.9,131.03 194.4,129.23 194.9,129.34 195.4,131.03 195.9,131.39 196.4,130.07 196.9,130.37 197.4,130.58 197.9,129.01 198.4,128.57 198.9,130.18 199.4,131.13 199.9,129.97 200.4,128.74 200.9,129.79 201.4,129.76 201.9,131.11 202.4,131.45 202.9,131.57 203.4,131.6 203.9,130.9 204.4,131.77 204.9,132.33 205.4,131.77 205.9,131.62 206.4,130.35 206.9,130.78 207.4,130.38 207.9,129.38 208.4,129.9 208.9,129.94 209.4,129.95 209.9,130.98 210.4,131.61 210.9,130.86 211.4,130.22 211.9,129.56 212.4,130.89 212.9,131.93 213.4,131.92 213.9,131.05 214.4,129.97 214.9,129.66 215.4,129.81 215.9,128.95 216.4,129.15 216.9,130.43 217.4,130.25 217.9,131.04 218.4,129.52 218.9,129.59 219.4,129.09 219.9,129.32 220.4,129.11 220.9,129.52 221.4,129.29 221.9,129.25 222.4,130.19 222.9,130.96 223.4,129.78 223.9,130.37 224.4,130.41 224.9,130.79 225.4,131.69 225.9,129.26 226.4,128.95 226.9,128.91 227.4,129.9 227.9,131.63 228.4,133.96 228.9,132.19 229.4,132.23 229.9,131.59 230.4,130 230.9,130.69 231.4,131.54 231.9,130.46 232.4,130.18 232.9,129.95 233.4,128.48 233.9,128.7 234.4,129.95 234.9,130.25 235.4,129.33 235.9,129.17 236.4,129.49 236.9,129.65 237.4,130.1 237.9,129.99 238.4,129.84 238.4,148.62 237.9,148.08 237.4,147.17 236.9,147.09 236.4,146.91 235.9,146.9 235.4,146.91 234.9,146.59 234.4,147.71 233.9,148.72 233.4,148.99 232.9,147.61 232.4,147.67 231.9,147.37 231.4,146.44 230.9,148.4 230.4,147.56 229.9,147.02 229.4,147.5 228.9,148.4 228.4,148.39 227.9,148.43 227.4,148.25 226.9,147.12 226.4,146.6 225.9,146.99 225.4,147.83 224.9,148.59 224.4,149 223.9,147.98 223.4,147.71 222.9,148.42 222.4,148.34 221.9,147.43 221.4,147.63 220.9,147.91 220.4,146.97 219.9,147.72 219.4,147.11 218.9,146.9 218.4,147.74 217.9,147.46 217.4,147.71 216.9,148.36 216.4,147.96 215.9,147.98 215.4,147.77 214.9,148.33 214.4,148.11 213.9,148.62 213.4,147.69 212.9,147.76 212.4,148.78 211.9,150.32 211.4,148.74 210.9,148.5 210.4,148.87 209.9,148.6 209.4,147.61 208.9,148.11 208.4,148.01 207.9,148.5 207.4,148.39 206.9,148.75 206.4,148.78 205.9,148.64 205.4,149.11 204.9,149.25 204.4,149.43 203.9,149.48 203.4,148.8 202.9,148.97 202.4,148.04 201.9,149.35 201.4,149.7 200.9,148.91 200.4,148.8 199.9,148.19 199.4,148.15 198.9,147.69 198.4,147.66 197.9,148.45 197.4,149.34 196.9,148.9 196.4,148.68 195.9,149.7 195.4,149.78 194.9,149.3 194.4,150.05 193.9,150.01 193.4,148.68 192.9,147.52 192.4,147.36 191.9,146.17 191.4,146.84 190.9,148.31 190.4,148.94 189.9,148.51 189.4,148.08 188.9,148.33 188.4,148.11 187.9,147.35 187.4,147.89 186.9,149.15 186.4,149.53 185.9,149.26 185.4,146.88 184.9,146.9 184.4,146.09 183.9,147.23 183.4,148.15 182.9,147.29 182.4,146.93 181.9,147.74 181.4,147.93 180.9,148.26 180.4,148.45 179.9,148.86 179.4,149.14 178.9,149.36 178.4,149.86 177.9,149.37 177.4,148.12 176.9,148.36 176.4,148.94 175.9,149.27 175.4,149.19 174.9,149.52 174.4,148.24 173.9,146.56 173.4,147.58 172.9,148.32 172.4,148 171.9,148.22 171.4,147.65 170.9,147.95 170.4,148.16 169.9,148.08 169.4,148.01 168.9,147.57 168.4,147.96 167.9,147.71 167.4,147.76 166.9,147.09 166.4,147.73 165.9,149.05 165.4,148.4 164.9,147.72 164.4,146.57 163.9,147.2 163.4,147.78 162.9,147.88 162.4,146.58 161.9,147.1 161.4,147.35 160.9,146.87 160.4,145.97 159.9,147.35 159.4,148.97 158.9,148.26 158.4,147.95 157.9,147.67 157.4,147.65 156.9,146.89 156.4,146.91 155.9,147.15 155.4,147.8 154.9,146.74 154.4,146.05 153.9,146.86 153.4,146.67 152.9,146.75 152.4,147.65 151.9,147.57 151.4,147.73 150.9,147.42 150.4,148.49 149.9,148.48 149.4,149.27 148.9,147.49 148.4,146.5 147.9,147.29 147.4,146.45 146.9,147.27 146.4,147.58 145.9,146.96 145.4,147.07 144.9,147.65 144.4,147.23 143.9,147.18 143.4,144.84 142.9,144.84 142.4,146.08 141.9,145.94 141.4,146.03 140.9,146.35 140.4,146.56 139.9,147.87 139.4,146.86 138.9,146.21 138.4,146.49 137.9,145.32 137.4,145.25 136.9,146.68 136.4,147.1 135.9,147.23 135.4,146.73 134.9,147.51 134.4,147.83 133.9,146.46 133.4,145.34 132.9,146.57 132.4,147.57 131.9,147.06 131.4,146.58 130.9,146.44 130.4,147.07 129.9,147.26 129.4,145.45 128.9,146.05 128.4,146.21 127.9,146.52 127.4,145.08 126.9,144.04 126.4,145.56 125.9,145.71 125.4,146.56 124.9,146.32 124.4,146.92 123.9,147.31 123.4,147.25 122.9,146.34 122.4,146.87 121.9,147.13 121.4,147.11 120.9,147.93 120.4,148.08 119.9,147.74 119.4,146.99 118.9,145.85 118.4,145.62 117.9,147.25 117.4,146.51 116.9,144.05 116.4,144.58 115.9,145.91 115.4,146.21 114.9,146.39 114.4,146.29 113.9,145.96 113.4,145.48 112.9,145.69 112.4,146.68 111.9,146.32 111.4,145.25 110.9,145.57 110.4,145.51 109.9,146.1 109.4,146.41 108.9,146.07 108.4,145.11 107.9,147.08 107.4,146.9 106.9,145.77 106.4,146.58 105.9,145.89 105.4,146.44 104.9,146.96 104.4,145.88 103.9,145.32 103.4,146.67 102.9,146.29 102.4,145.19 101.9,145.07 101.4,145.91 100.9,146.09 100.4,145.95 99.9,146.92 99.4,147.47 98.9,146.5 98.4,145.75 97.9,146.22 97.4,145.42 96.9,146.08 96.4,145.93 95.9,146.13 95.4,146.6 94.9,145.94 94.4,146.59 93.9,146.41 93.4,146.47 92.9,146.59 92.4,145.16 91.9,144.72 91.4,145.24 90.9,145.38 90.4,145.84 89.9,146.25 89.4,145.1 88.9,145.47 88.4,145.36 87.9,144.76 87.4,144.61 86.9,145.71 86.4,145.15 85.9,145 85.4,145.46 84.9,144.99 84.4,144.36 83.9,145.62 83.4,145.05 82.9,145.17 82.4,146.25 81.9,146.41 81.4,145.35 80.9,144.3 80.4,143.84 79.9,143.87 79.4,144.2 78.9,144.97 78.4,145.47 77.9,144.23 77.4,143.34 76.9,144.18 76.4,143.36 75.9,143.57 75.4,145.23 74.9,144.4 74.4,143.74 73.9,143.58 73.4,144.07 72.9,145.15 72.4,143.72 71.9,143.19 71.4,143.55 70.9,143.42 70.4,144.36 69.9,143.55 69.4,144.68 68.9,145.59 68.4,144.31 67.9,143.96 67.4,143.43 66.9,143.36 66.4,143.42 65.9,142.38 65.4,143.09 64.9,142.63 64.4,143.18 63.9,144.97 63.4,144.58 62.9,144.07 62.4,142.33 61.9,142.25 61.4,142.31 60.9,142.48 60.4,142.11 59.9,141.47 59.4,142.47 58.9,142.68 58.4,142.57 57.9,142.67 57.4,143.82 56.9,143.67 56.4,143.29 55.9,143.48 55.4,142.89 54.9,142.59 54.4,141.33 53.9,142.24 53.4,142.12 52.9,142.04 52.4,141.07 51.9,140.36 51.4,139.76 50.9,139.89 50.4,139.97 49.9,139.68 49.4,138.65 48.9,137.45 48.4,136.48 47.9,137.25 47.4,136.06 46.9,135.31 46.4,136.89 45.9,137.85 45.4,137.63 44.9,136.27 44.4,136.56 43.9,135.82 43.4,135.55 42.9,135.81 42.4,137.25 41.9,137.2 41.4,136.23 40.3,134.02" fill="#008000" fill-opacity="0.22" stroke="none"/>
<polygon points="40.3,57.6 41.4,139.41 41.9,140.17 42.4,142.39 42.9,141.83 43.4,142.12 43.9,142.76 44.4,142.47 44.9,141.43 45.4,142.52 45.9,142.62 46.4,142.83 46.9,142.73 47.4,141.75 47.9,141.66 48.4,141.72 48.9,141.8 49.4,140.93 49.9,140.7 50.4,139.99 50.9,139.68 51.4,139.51 51.9,139.36 52.4,139.56 52.9,138.76 53.4,137.9 53.9,137.12 54.4,139.02 54.9,138.53 55.4,138.34 55.9,138.61 56.4,139.61 56.9,138.59 57.4,139.67 57.9,140.68 58.4,141.23 58.9,140.69 59.4,139.4 59.9,138.42 60.4,140.14 60.9,140.75 61.4,140.6 61.9,140.02 62.4,139.42 62.9,139.2 63.4,140.63 63.9,140.5 64.4,139.04 64.9,140.02 65.4,140.28 65.9,140.37 66.4,140.61 66.9,141.24 67.4,141.6 67.9,140.92 68.4,139.66 68.9,140.72 69.4,140.24 69.9,139.42 70.4,140.08 70.9,139.47 71.4,140.98 71.9,141.46 72.4,140.06 72.9,140.49 73.4,140.54 73.9,139.75 74.4,138.67 74.9,139.78 75.4,140.05 75.9,140.38 76.4,140.36 76.9,140.79 77.4,140.8 77.9,141.13 78.4,141.88 78.9,141.39 79.4,141.49 79.9,141.18 80.4,140.77 80.9,140.42 81.4,141.48 81.9,141.57 82.4,141 82.9,141.3 83.4,140.5 83.9,139.66 84.4,140.84 84.9,142.02 85.4,140.38 85.9,139.26 86.4,140.52 86.9,140.9 87.4,142.29 87.9,141.44 88.4,140.67 88.9,140.39 89.4,140.31 89.9,139.48 90.4,139.42 90.9,140.03 91.4,140.34 91.9,141.28 92.4,140 92.9,140 93.4,139.39 93.9,139.77 94.4,141.21 94.9,139.68 95.4,140.5 95.9,139.5 96.4,140.83 96.9,141.7 97.4,138.82 97.9,139.24 98.4,141.38 98.9,140.86 99.4,140.16 99.9,140.45 100.4,140.16 100.9,141.11 101.4,142.28 101.9,141.11 102.4,141.2 102.9,142.75 103.4,143.01 103.9,140.99 104.4,140.59 104.9,140.16 105.4,139.76 105.9,139.87 106.4,139.4 106.9,138.42 107.4,138.4 107.9,140.12 108.4,141.78 108.9,142.74 109.4,141.29 109.9,141.45 110.4,142.44 110.9,142.43 111.4,141.54 111.9,141.59 112.4,142.4 112.9,141.02 113.4,139.87 113.9,139.6 114.4,140.98 114.9,141.7 115.4,142.73 115.9,141.85 116.4,142.17 116.9,143.01 117.4,142.81 117.9,141.24 118.4,142.57 118.9,142.08 119.4,141.66 119.9,141.52 120.4,141.29 120.9,140.8 121.4,139.89 121.9,141.73 122.4,141.93 122.9,141.19 123.4,142.37 123.9,143.79 124.4,142.45 124.9,141.77 125.4,142.74 125.9,141.08 126.4,140.69 126.9,140.51 127.4,140.65 127.9,141.63 128.4,141.64 128.9,140.53 129.4,140.95 129.9,141.3 130.4,141.15 130.9,141.21 131.4,140.75 131.9,141.1 132.4,141.41 132.9,141.01 133.4,142.01 133.9,141.75 134.4,140.96 134.9,141.04 135.4,141.16 135.9,141.5 136.4,141.56 136.9,141.16 137.4,141.2 137.9,142.83 138.4,142.72 138.9,142.09 139.4,142.64 139.9,142.38 140.4,141.76 140.9,142.76 141.4,144.6 141.9,143.86 142.4,142.97 142.9,141.93 143.4,142.71 143.9,143.48 144.4,142.43 144.9,142.71 145.4,142.73 145.9,142.61 146.4,142.82 146.9,142.04 147.4,141.53 147.9,141.7 148.4,143.83 148.9,142.38 149.4,141.79 149.9,142.39 150.4,140.92 150.9,140.67 151.4,140.33 151.9,140.8 152.4,141.02 152.9,141.49 153.4,141.17 153.9,140.57 154.4,140.72 154.9,141.37 155.4,141.63 155.9,142.67 156.4,142.64 156.9,141.69 157.4,140.97 157.9,141.59 158.4,140.88 158.9,141.86 159.4,141.85 159.9,140.8 160.4,140.29 160.9,141.1 161.4,142.87 161.9,141.65 162.4,141.4 162.9,142.21 163.4,142.08 163.9,141.75 164.4,140.14 164.9,141.03 165.4,144.13 165.9,142.35 166.4,141.08 166.9,141.69 167.4,141.95 167.9,140.78 168.4,141.33 168.9,141.58 169.4,142.04 169.9,141.67 170.4,140.57 170.9,139.71 171.4,139.4 171.9,141.2 172.4,140.23 172.9,140.84 173.4,142.46 173.9,141.24 174.4,140.97 174.9,140.99 175.4,141.38 175.9,140.76 176.4,140.85 176.9,142 177.4,141.04 177.9,140.01 178.4,140.99 178.9,141.73 179.4,141.5 179.9,142.92 180.4,143.9 180.9,144.31 181.4,142.64 181.9,142.16 182.4,140.99 182.9,141.63 183.4,142.55 183.9,142.71 184.4,141.89 184.9,141.51 185.4,140.81 185.9,140.83 186.4,141.65 186.9,141.85 187.4,142.15 187.9,142.46 188.4,141.6 188.9,139.5 189.4,139.76 189.9,140.34 190.4,140.66 190.9,141.78 191.4,141.87 191.9,141.03 192.4,141.36 192.9,142.1 193.4,141.17 193.9,140.9 194.4,142.06 194.9,141.9 195.4,142.47 195.9,141.81 196.4,141.34 196.9,140.24 197.4,139.61 197.9,139.74 198.4,138.75 198.9,140.98 199.4,142.59 199.9,141.78 200.4,141.58 200.9,142.62 201.4,142.27 201.9,143.24 202.4,143.91 202.9,142.94 203.4,142.3 203.9,141.62 204.4,141.17 204.9,141.11 205.4,141.28 205.9,141.52 206.4,139.81 206.9,140.51 207.4,141.46 207.9,140.82 208.4,140.99 208.9,141.14 209.4,142.06 209.9,142.85 210.4,143.31 210.9,142.22 211.4,140.9 211.9,141.51 212.4,142.14 212.9,141.9 213.4,139.96 213.9,140.52 214.4,139.78 214.9,140.75 215.4,141.33 215.9,141.5 216.4,141.64 216.9,140.86 217.4,140.04 217.9,140.53 218.4,141.12 218.9,140.35 219.4,140.01 219.9,139.81 220.4,141.14 220.9,140.16 221.4,139.91 221.9,140.05 222.4,140.18 222.9,141.14 223.4,142.71 223.9,142.96 224.4,143.29 224.9,142.94 225.4,141.26 225.9,141.76 226.4,143.21 226.9,143.05 227.4,139.96 227.9,139.27 228.4,140.56 228.9,140.08 229.4,139.38 229.9,140.23 230.4,139.3 230.9,138.22 231.4,139.82 231.9,140.78 232.4,141.32 232.9,141.28 233.4,140.48 233.9,139.87 234.4,139.16 234.9,138.35 235.4,139.58 235.9,140.88 236.4,141.29 236.9,141.74 237.4,139.95 237.9,138.77 238.4,140.38 238.4,160.87 237.9,160.33 237.4,160.47 236.9,159.38 236.4,160.01 235.9,161.43 235.4,159.12 234.9,159.04 234.4,159 233.9,158.32 233.4,158.85 232.9,159.04 232.4,158.46 231.9,159.77 231.4,159.33 230.9,158.21 230.4,160.29 229.9,160.48 229.4,158.88 228.9,159.6 228.4,162.24 227.9,160.35 227.4,159.35 226.9,158.75 226.4,159.39 225.9,159.9 225.4,160.53 224.9,159.02 224.4,158.68 223.9,159.67 223.4,159.81 222.9,160.13 222.4,160.31 221.9,160.77 221.4,159.85 220.9,158.98 220.4,159.95 219.9,160.59 219.4,159.86 218.9,160.02 218.4,160.87 217.9,160.64 217.4,159.62 216.9,159.72 216.4,158.49 215.9,158.93 215.4,160.4 214.9,159.94 214.4,158.83 213.9,160.06 213.4,159.6 212.9,160.33 212.4,160.24 211.9,160.22 211.4,160.16 210.9,159.69 210.4,158.87 209.9,159.02 209.4,158.68 208.9,159.58 208.4,160.65 207.9,160.86 207.4,160.67 206.9,162.22 206.4,161.73 205.9,160.02 205.4,158.93 204.9,158.39 204.4,159.57 203.9,160.57 203.4,161.29 202.9,161.3 202.4,162.04 201.9,162.33 201.4,161.15 200.9,158.52 200.4,158.97 199.9,159.59 199.4,161.35 198.9,162.11 198.4,161.4 197.9,160.87 197.4,160.8 196.9,160.81 196.4,161.45 195.9,160.78 195.4,160.21 194.9,161.02 194.4,162.24 193.9,160.96 193.4,160.44 192.9,160.09 192.4,160.69 191.9,160.77 191.4,160.13 190.9,160.1 190.4,159.85 189.9,160.2 189.4,161.05 188.9,160.79 188.4,161.5 187.9,161.8 187.4,162.26 186.9,161.38 186.4,162.24 185.9,160.9 185.4,160.71 184.9,161.9 184.4,161.77 183.9,160.25 183.4,159.02 182.9,158.88 182.4,160.34 181.9,161.59 181.4,160.46 180.9,160.72 180.4,161.48 179.9,159.59 179.4,161.62 178.9,162 178.4,161.08 177.9,160.84 177.4,160 176.9,159.38 176.4,161.19 175.9,162.91 175.4,161.57 174.9,159.29 174.4,159.31 173.9,159.14 173.4,160.52 172.9,161.3 172.4,162.49 171.9,161.83 171.4,161.6 170.9,161.28 170.4,160.82 169.9,161.05 169.4,160.62 168.9,158.63 168.4,157.63 167.9,161.05 167.4,161.55 166.9,159.4 166.4,159.7 165.9,159.25 165.4,159.2 164.9,160 164.4,159.97 163.9,160.63 163.4,161.3 162.9,161.31 162.4,160.18 161.9,162 161.4,161.11 160.9,160.78 160.4,161.46 159.9,161.68 159.4,161.54 158.9,160.32 158.4,159.93 157.9,159.86 157.4,160.39 156.9,160.75 156.4,160.89 155.9,160.19 155.4,161.29 154.9,160.81 154.4,159.31 153.9,160.14 153.4,160.88 152.9,161.56 152.4,161.58 151.9,160 151.4,158.56 150.9,158.85 150.4,159.59 149.9,159.36 149.4,159.45 148.9,161.54 148.4,161.44 147.9,161.61 147.4,162.96 146.9,161.27 146.4,160.69 145.9,160.94 145.4,161.87 144.9,162.72 144.4,162.75 143.9,162.34 143.4,162.11 142.9,161.51 142.4,161.89 141.9,161.93 141.4,161.69 140.9,162.11 140.4,162.43 139.9,160.95 139.4,160.86 138.9,162.01 138.4,161.29 137.9,161.07 137.4,161.29 136.9,161.08 136.4,162.33 135.9,161.7 135.4,160.9 134.9,161.15 134.4,162.31 133.9,162.05 133.4,161.07 132.9,159.94 132.4,157.88 131.9,158.15 131.4,159.41 130.9,161.13 130.4,161.67 129.9,161.91 129.4,160.39 128.9,160.7 128.4,160.53 127.9,160.08 127.4,161.41 126.9,159.66 126.4,158.2 125.9,159.07 125.4,160.54 124.9,160.34 124.4,160.35 123.9,159.14 123.4,159.56 122.9,160.68 122.4,159.76 121.9,159.23 121.4,160.8 120.9,162.01 120.4,161.18 119.9,160.39 119.4,161.75 118.9,161.85 118.4,162.01 117.9,161.02 117.4,161.82 116.9,161.41 116.4,160.71 115.9,159.71 115.4,160.23 114.9,160.9 114.4,161.53 113.9,161.33 113.4,159.12 112.9,160.01 112.4,161.1 111.9,161.98 111.4,161.17 110.9,160.56 110.4,161.75 109.9,161.39 109.4,160.07 108.9,160.22 108.4,161.4 107.9,161.34 107.4,160.36 106.9,159.23 106.4,158.46 105.9,159.09 105.4,160.68 104.9,161.71 104.4,161.29 103.9,161.5 103.4,161.6 102.9,160.55 102.4,160.1 101.9,160.51 101.4,160.64 100.9,160.77 100.4,160.66 99.9,162.06 99.4,163.23 98.9,160.88 98.4,159.88 97.9,159.46 97.4,159.76 96.9,159.44 96.4,158.51 95.9,157.14 95.4,159.36 94.9,160.95 94.4,160.66 93.9,159.08 93.4,157.66 92.9,157.91 92.4,159.68 91.9,160.04 91.4,158.87 90.9,158.65 90.4,158.34 89.9,158.82 89.4,159.13 88.9,158.96 88.4,158.65 87.9,160.76 87.4,162.1 86.9,160.93 86.4,159.88 85.9,160.57 85.4,161.67 84.9,159.46 84.4,158.54 83.9,159.18 83.4,160.5 82.9,160.03 82.4,158.64 81.9,158.19 81.4,159.02 80.9,158.63 80.4,157.69 79.9,157.94 79.4,158.99 78.9,159.66 78.4,159.04 77.9,158.14 77.4,160.32 76.9,159.71 76.4,159.79 75.9,159.97 75.4,160.39 74.9,159.48 74.4,158.55 73.9,158.97 73.4,159.76 72.9,160.9 72.4,162.78 71.9,160.99 71.4,158.79 70.9,158.79 70.4,158.88 69.9,157.78 69.4,158.86 68.9,158.66 68.4,158.48 67.9,158.68 67.4,157.17 66.9,159.11 66.4,157.72 65.9,156.29 65.4,158.82 64.9,159.73 64.4,159.26 63.9,160.57 63.4,158.02 62.9,158.39 62.4,157.88 61.9,157.29 61.4,156.69 60.9,157.01 60.4,157.38 59.9,158.76 59.4,159.03 58.9,159.6 58.4,159.27 57.9,159.38 57.4,158.53 56.9,158.71 56.4,158.65 55.9,158.42 55.4,158.43 54.9,159.8 54.4,159.89 53.9,158.99 53.4,157.43 52.9,156.14 52.4,156.08 51.9,155.41 51.4,155.93 50.9,154.53 50.4,154.61 49.9,153.2 49.4,152.87 48.9,152.45 48.4,153.08 47.9,153.88 47.4,152.84 46.9,152.55 46.4,153.79 45.9,152.45 45.4,151.28 44.9,153.27 44.4,153.57 43.9,152.19 43.4,152.3 42.9,151.82 42.4,148.86 41.9,148.71 41.4,150.69 40.3,149.59" fill="#800080" fill-opacity="0.22" stroke="none"/>
<polyline points="35,56.6 40,56.6" fill="none" stroke="#8a8a8a" stroke-width="1.05"/>
<polyline points="40,56.6 40,65.1" fill="none" stroke="#8a8a8a" stroke-width="0.7" stroke-opacity="0.85"/>
<polyline points="40,65.1 40.15,67.4 40.5,68.7 40.95,69.4 41.4,68.62 41.9,68.28 42.4,67.89 42.9,67.3 43.4,66.82 43.9,66.64 44.4,66.57 44.9,66.92 45.4,66.81 45.9,66.13 46.4,66.11 46.9,66.47 47.4,66.36 47.9,66.34 48.4,66.36 48.9,66.72 49.4,66.76 49.9,66.69 50.4,66.69 50.9,66.59 51.4,66.61 51.9,66.84 52.4,66.42 52.9,65.95 53.4,65.69 53.9,65.82 54.4,65.92 54.9,65.92 55.4,65.97 55.9,66.16 56.4,66.14 56.9,66.13 57.4,66.14 57.9,65.98 58.4,65.93 58.9,66.17 59.4,66.22 59.9,66.17 60.4,66.31 60.9,66.39 61.4,66.36 61.9,66.2 62.4,65.93 62.9,65.75 63.4,65.89 63.9,65.9 64.4,66.1 64.9,66.23 65.4,65.72 65.9,65.73 66.4,66.11 66.9,66.19 67.4,65.97 67.9,65.42 68.4,65.19 68.9,65.49 69.4,65.66 69.9,65.76 70.4,65.57 70.9,65.32 71.4,65.19 71.9,65.17 72.4,65.05 72.9,64.94 73.4,64.93 73.9,64.94 74.4,64.82 74.9,64.57 75.4,64.5 75.9,64.91 76.4,64.92 76.9,64.64 77.4,64.63 77.9,64.87 78.4,65 78.9,64.91 79.4,64.82 79.9,64.72 80.4,64.59 80.9,64.45 81.4,64.49 81.9,64.78 82.4,64.73 82.9,64.38 83.4,64.44 83.9,64.99 84.4,65.03 84.9,64.55 85.4,64.25 85.9,64.28 86.4,64.32 86.9,64.24 87.4,63.86 87.9,63.64 88.4,63.67 88.9,64.08 89.4,64.11 89.9,63.8 90.4,63.7 90.9,63.74 91.4,63.3 91.9,63.05 92.4,63.17 92.9,63 93.4,62.87 93.9,62.92 94.4,62.5 94.9,62.08 95.4,62.28 95.9,62.62 96.4,62.77 96.9,62.43 97.4,62.24 97.9,62.33 98.4,62.07 98.9,61.8 99.4,61.9 99.9,62.22 100.4,62.66 100.9,62.6 101.4,61.9 101.9,61.49 102.4,61.49 102.9,61.48 103.4,61.46 103.9,61.78 104.4,61.8 104.9,61.28 105.4,60.9 105.9,61.14 106.4,61.77 106.9,61.79 107.4,61.04 107.9,60.77 108.4,61.21 108.9,61.64 109.4,61.6 109.9,61.42 110.4,61.4 110.9,61.23 111.4,61.26 111.9,61.5 112.4,61.17 112.9,60.68 113.4,60.54 113.9,60.51 114.4,60.87 114.9,61.01 115.4,60.78 115.9,61.13 116.4,61.47 116.9,60.98 117.4,60.39 117.9,60.31 118.4,60.28 118.9,60.13 119.4,60.09 119.9,60.28 120.4,60.47 120.9,60.48 121.4,60.55 121.9,60.96 122.4,61.05 122.9,60.75 123.4,60.6 123.9,60.72 124.4,60.69 124.9,60.79 125.4,60.64 125.9,60.11 126.4,60.22 126.9,60.7 127.4,60.66 127.9,60.33 128.4,60.24 128.9,60.2 129.4,60.09 129.9,60.07 130.4,60.06 130.9,60.15 131.4,60.23 131.9,60.19 132.4,60.34 132.9,60.47 133.4,60.55 133.9,60.74 134.4,60.78 134.9,60.66 135.4,60.53 135.9,60.39 136.4,60.28 136.9,60.07 137.4,60.13 137.9,60.34 138.4,60.38 138.9,60.24 139.4,60.25 139.9,60.46 140.4,60.44 140.9,60.36 141.4,60.45 141.9,60.49 142.4,60.26 142.9,59.84 143.4,59.71 143.9,59.97 144.4,60.13 144.9,60.55 145.4,60.5 145.9,59.92 146.4,59.95 146.9,60.53 147.4,60.73 147.9,60.66 148.4,60.61 148.9,60.71 149.4,60.8 149.9,60.99 150.4,60.68 150.9,60.25 151.4,60.31 151.9,60.39 152.4,60.27 152.9,60.28 153.4,60.22 153.9,60.3 154.4,60.46 154.9,60.32 155.4,60.09 155.9,60.24 156.4,60.73 156.9,61.11 157.4,61.09 157.9,61.15 158.4,60.74 158.9,60.31 159.4,60.42 159.9,60.27 160.4,60.02 160.9,60.35 161.4,60.6 161.9,60.33 162.4,60.42 162.9,60.87 163.4,60.77 163.9,60.4 164.4,60.42 164.9,60.55 165.4,60.66 165.9,60.76 166.4,60.66 166.9,60.77 167.4,60.73 167.9,60.4 168.4,60.5 168.9,60.64 169.4,60.44 169.9,60.3 170.4,60.36 170.9,60.57 171.4,60.66 171.9,60.89 172.4,61.02 172.9,60.75 173.4,60.51 173.9,60.58 174.4,60.43 174.9,60.36 175.4,60.58 175.9,60.63 176.4,60.39 176.9,60.27 177.4,60.72 177.9,61.12 178.4,60.72 178.9,60.29 179.4,60.44 179.9,60.61 180.4,60.6 180.9,60.57 181.4,60.56 181.9,60.52 182.4,60.42 182.9,60.39 183.4,60.52 183.9,60.65 184.4,60.51 184.9,60.49 185.4,60.35 185.9,60.31 186.4,60.51 186.9,60.64 187.4,60.55 187.9,60.52 188.4,60.31 188.9,60.35 189.4,60.77 189.9,60.64 190.4,60.24 190.9,60.26 191.4,60.46 191.9,60.35 192.4,60.43 192.9,60.4 193.4,60.67 193.9,61.19 194.4,61.12 194.9,60.57 195.4,60.12 195.9,60.19 196.4,60.27 196.9,60.39 197.4,60.37 197.9,60.15 198.4,60.2 198.9,60.3 199.4,60.33 199.9,60.46 200.4,60.18 200.9,60.05 201.4,59.89 201.9,59.46 202.4,59.31 202.9,59.63 203.4,60.03 203.9,60.15 204.4,60.01 204.9,59.51 205.4,59.14 205.9,59.34 206.4,59.67 206.9,59.93 207.4,60.15 207.9,60.13 208.4,59.85 208.9,59.44 209.4,59.05 209.9,58.84 210.4,58.8 210.9,58.81 211.4,58.58 211.9,58.41 212.4,58.38 212.9,58.52 213.4,58.61 213.9,58.63 214.4,58.55 214.9,58.61 215.4,58.71 215.9,58.64 216.4,58.8 216.9,58.66 217.4,57.82 217.9,57.62 218.4,58.04 218.9,58.21 219.4,58.03 219.9,57.88 220.4,57.81 220.9,57.69 221.4,57.63 221.9,57.42 222.4,56.85 222.9,57.05 223.4,57.72 223.9,57.65 224.4,57.5 224.9,57.98 225.4,58 225.9,57.7 226.4,57.41 226.9,57.48 227.4,57.25 227.9,57.03 228.4,57.16 228.9,57.41 229.4,57.67 229.9,57.58 230.4,57.13 230.9,56.99 231.4,57.13 231.9,57.18 232.4,56.97 232.9,56.99 233.4,57.15 233.9,57.22 234.4,57.26 234.9,56.97 235.4,56.49 235.9,56.42 236.4,56.76 236.9,56.85 237.4,56.72 237.9,56.57 238.4,56.51" fill="none" stroke="#8a8a8a" stroke-width="0.8" stroke-linejoin="round"/>
<polyline points="35,56.6 40,56.6" fill="none" stroke="#ff0000" stroke-width="1.05"/>
<polyline points="40,56.6 40,78.2" fill="none" stroke="#ff0000" stroke-width="0.7" stroke-opacity="0.85"/>
<polyline points="40,78.2 40.15,80.5 40.5,81.8 40.95,82.5 41.4,82.6 41.9,82.43 42.4,82.59 42.9,82.85 43.4,82.76 43.9,82.49 44.4,82.32 44.9,82.22 45.4,82.48 45.9,82.82 46.4,82.48 46.9,82.22 47.4,82.34 47.9,82.23 48.4,82.38 48.9,82.52 49.4,82.39 49.9,82.7 50.4,83.01 50.9,82.76 51.4,82.46 51.9,82.65 52.4,82.84 52.9,82.86 53.4,82.84 53.9,83.07 54.4,82.94 54.9,82.75 55.4,82.48 55.9,82.49 56.4,82.46 56.9,82.64 57.4,82.92 57.9,82.95 58.4,82.82 58.9,82.89 59.4,82.81 59.9,82.84 60.4,82.79 60.9,82.5 61.4,82.34 61.9,82.55 62.4,82.87 62.9,82.7 63.4,82.49 63.9,82.58 64.4,83.03 64.9,83.17 65.4,82.8 65.9,82.66 66.4,82.68 66.9,82.63 67.4,82.51 67.9,82.39 68.4,82.68 68.9,82.67 69.4,82.67 69.9,83.01 70.4,83.1 70.9,82.71 71.4,82.27 71.9,82.09 72.4,82.37 72.9,82.61 73.4,82.53 73.9,82.17 74.4,82.3 74.9,82.67 75.4,82.89 75.9,82.49 76.4,82.25 76.9,82.23 77.4,82.22 77.9,82.28 78.4,82.43 78.9,82.54 79.4,82.52 79.9,82.66 80.4,83.29 80.9,83.33 81.4,82.93 81.9,82.32 82.4,81.99 82.9,82.28 83.4,82.83 83.9,83.32 84.4,83.17 84.9,82.67 85.4,82.83 85.9,82.88 86.4,82.73 86.9,82.75 87.4,82.59 87.9,82.24 88.4,82.23 88.9,82.62 89.4,82.63 89.9,82.2 90.4,82.19 90.9,82.28 91.4,82.26 91.9,82.59 92.4,82.58 92.9,82.81 93.4,82.88 93.9,82.21 94.4,82.32 94.9,82.87 95.4,82.8 95.9,82.63 96.4,82.8 96.9,83.03 97.4,83.01 97.9,82.68 98.4,82.34 98.9,82.22 99.4,82.38 99.9,82.39 100.4,82.4 100.9,82.47 101.4,82.18 101.9,82.42 102.4,82.9 102.9,82.85 103.4,82.53 103.9,82.14 104.4,82.02 104.9,82.19 105.4,82.26 105.9,82.1 106.4,81.83 106.9,82.07 107.4,82.44 107.9,82.5 108.4,82.11 108.9,81.92 109.4,81.85 109.9,82.47 110.4,83.04 110.9,82.79 111.4,82.19 111.9,82.09 112.4,81.85 112.9,81.9 113.4,82.23 113.9,82.61 114.4,82.42 114.9,82.15 115.4,82.33 115.9,82.44 116.4,82.04 116.9,81.9 117.4,81.91 117.9,82.39 118.4,82.66 118.9,82.47 119.4,82.16 119.9,81.99 120.4,82.16 120.9,82.36 121.4,82.11 121.9,81.94 122.4,82.13 122.9,81.99 123.4,81.52 123.9,81.67 124.4,81.84 124.9,81.99 125.4,82.19 125.9,82.2 126.4,82.13 126.9,81.92 127.4,81.62 127.9,81.59 128.4,81.81 128.9,81.95 129.4,81.74 129.9,81.58 130.4,81.73 130.9,81.82 131.4,82.01 131.9,82.02 132.4,82.12 132.9,81.86 133.4,81.53 133.9,81.54 134.4,81.88 134.9,82.19 135.4,82.49 135.9,82.27 136.4,81.94 136.9,81.4 137.4,81.25 137.9,81.46 138.4,81.61 138.9,81.52 139.4,81.75 139.9,82.05 140.4,82.27 140.9,82.38 141.4,82.22 141.9,81.97 142.4,82.08 142.9,82.02 143.4,82.05 143.9,82.34 144.4,82.39 144.9,82.03 145.4,82.27 145.9,82.71 146.4,82.68 146.9,82.32 147.4,82.41 147.9,82.25 148.4,82.02 148.9,81.98 149.4,82.05 149.9,81.93 150.4,81.87 150.9,82.16 151.4,82.03 151.9,81.96 152.4,82.06 152.9,81.88 153.4,81.82 153.9,81.7 154.4,81.6 154.9,81.98 155.4,82.34 155.9,82.45 156.4,82.45 156.9,82.29 157.4,82.11 157.9,81.82 158.4,81.73 158.9,82 159.4,81.89 159.9,81.53 160.4,81.26 160.9,81.51 161.4,81.78 161.9,81.68 162.4,81.54 162.9,81.59 163.4,81.33 163.9,81.3 164.4,81.47 164.9,81.58 165.4,81.78 165.9,81.93 166.4,81.29 166.9,81.17 167.4,81.62 167.9,81.68 168.4,81.92 168.9,82.45 169.4,82.25 169.9,82.01 170.4,81.86 170.9,81.79 171.4,81.67 171.9,81.38 172.4,81.15 172.9,81.52 173.4,82.02 173.9,82.05 174.4,81.69 174.9,81.66 175.4,81.71 175.9,81.69 176.4,81.64 176.9,81.51 177.4,81.23 177.9,81.02 178.4,81.13 178.9,81.11 179.4,80.9 179.9,81.06 180.4,81.49 180.9,81.34 181.4,80.8 181.9,80.4 182.4,80.55 182.9,81.13 183.4,81.36 183.9,81.08 184.4,80.82 184.9,80.92 185.4,81.25 185.9,81.31 186.4,81.4 186.9,81.86 187.4,82.06 187.9,81.74 188.4,81.15 188.9,80.96 189.4,80.8 189.9,81.09 190.4,81.47 190.9,81.34 191.4,81.19 191.9,81.49 192.4,81.56 192.9,81.52 193.4,81.54 193.9,81.44 194.4,81 194.9,80.85 195.4,81.15 195.9,81.2 196.4,81.14 196.9,81.3 197.4,81.42 197.9,81.58 198.4,81.42 198.9,81.43 199.4,81.54 199.9,81.4 200.4,81.36 200.9,81.41 201.4,81.36 201.9,80.86 202.4,80.56 202.9,80.94 203.4,81.3 203.9,81.03 204.4,80.96 204.9,80.92 205.4,81.12 205.9,81.15 206.4,80.92 206.9,80.82 207.4,81.19 207.9,81.08 208.4,80.89 208.9,81.13 209.4,81.28 209.9,81.11 210.4,80.93 210.9,81.09 211.4,80.8 211.9,80.59 212.4,80.72 212.9,80.73 213.4,80.51 213.9,80.35 214.4,80.31 214.9,80.61 215.4,80.58 215.9,80.74 216.4,81.05 216.9,80.74 217.4,80.41 217.9,80.27 218.4,80.47 218.9,80.61 219.4,80.43 219.9,80.32 220.4,80.59 220.9,80.76 221.4,81.05 221.9,81.18 222.4,80.93 222.9,80.56 223.4,80.32 223.9,80.5 224.4,80.76 224.9,80.66 225.4,80.39 225.9,80.5 226.4,80.65 226.9,80.7 227.4,81.05 227.9,80.69 228.4,80.35 228.9,80.23 229.4,80.28 229.9,80.63 230.4,80.69 230.9,80.35 231.4,80.43 231.9,80.72 232.4,80.81 232.9,80.24 233.4,79.7 233.9,79.6 234.4,79.69 234.9,79.83 235.4,80.1 235.9,80.31 236.4,80.18 236.9,80.27 237.4,80.68 237.9,80.7 238.4,80.53" fill="none" stroke="#ff0000" stroke-width="1.05" stroke-linejoin="round"/>
<polyline points="35,56.6 40,56.6" fill="none" stroke="#ffa500" stroke-width="1.05"/>
<polyline points="40,56.6 40,90.9" fill="none" stroke="#ffa500" stroke-width="0.7" stroke-opacity="0.85"/>
<polyline points="40,90.9 40.15,93.2 40.5,94.5 40.95,95.2 41.4,95.57 41.9,95.22 42.4,95.44 42.9,95.91 43.4,95.88 43.9,95.72 44.4,95.66 44.9,95.55 45.4,95.41 45.9,95.23 46.4,95.38 46.9,95.83 47.4,95.86 47.9,95.93 48.4,96.2 48.9,96.09 49.4,95.81 49.9,95.75 50.4,95.69 50.9,95.93 51.4,96.05 51.9,95.99 52.4,96.39 52.9,96.53 53.4,96.18 53.9,96.18 54.4,96.61 54.9,96.77 55.4,96.6 55.9,96.33 56.4,96.16 56.9,96.29 57.4,96.46 57.9,96.37 58.4,96.44 58.9,96.93 59.4,96.74 59.9,96.45 60.4,96.47 60.9,96.54 61.4,96.52 61.9,96.59 62.4,96.65 62.9,96.71 63.4,96.42 63.9,96.26 64.4,96.68 64.9,96.96 65.4,96.81 65.9,97 66.4,97.01 66.9,96.78 67.4,96.76 67.9,96.56 68.4,96.39 68.9,96.51 69.4,97.03 69.9,97.26 70.4,97.35 70.9,97.19 71.4,96.88 71.9,96.94 72.4,97.51 72.9,97.83 73.4,97.75 73.9,97.41 74.4,97.13 74.9,97.39 75.4,97.67 75.9,97.39 76.4,97.17 76.9,97.76 77.4,98.42 77.9,98.64 78.4,98.52 78.9,98.26 79.4,98.61 79.9,98.8 80.4,98.72 80.9,98.77 81.4,98.8 81.9,98.75 82.4,98.67 82.9,98.74 83.4,99.1 83.9,98.98 84.4,98.55 84.9,98.33 85.4,98.4 85.9,98.48 86.4,98.05 86.9,98.07 87.4,98.38 87.9,98.25 88.4,97.74 88.9,97.89 89.4,98.41 89.9,98.82 90.4,98.76 90.9,98.71 91.4,98.99 91.9,99.18 92.4,99.05 92.9,99.12 93.4,99.45 93.9,99.55 94.4,99.53 94.9,99.17 95.4,98.78 95.9,98.49 96.4,98.64 96.9,98.73 97.4,98.95 97.9,99.08 98.4,99.29 98.9,99.43 99.4,99.44 99.9,99.43 100.4,99.31 100.9,99.3 101.4,99.3 101.9,99.05 102.4,98.66 102.9,98.41 103.4,98.56 103.9,99.26 104.4,99.33 104.9,99.1 105.4,98.93 105.9,99.3 106.4,99.55 106.9,99.2 107.4,98.91 107.9,98.94 108.4,98.52 108.9,98.64 109.4,98.69 109.9,98.83 110.4,98.95 110.9,99 111.4,98.9 111.9,99.23 112.4,99.36 112.9,99.07 113.4,98.27 113.9,98.01 114.4,98.78 114.9,98.88 115.4,98.77 115.9,98.92 116.4,99 116.9,98.74 117.4,98.67 117.9,98.64 118.4,98.73 118.9,98.78 119.4,98.89 119.9,98.51 120.4,98.44 120.9,98.86 121.4,99 121.9,98.66 122.4,98.71 122.9,99 123.4,99.09 123.9,99.16 124.4,99.13 124.9,99.12 125.4,99.3 125.9,98.97 126.4,98.88 126.9,99.56 127.4,99.7 127.9,99.26 128.4,98.83 128.9,98.89 129.4,99.38 129.9,99.29 130.4,98.94 130.9,99.13 131.4,99.35 131.9,99.44 132.4,99.45 132.9,99.19 133.4,98.98 133.9,99.08 134.4,99.35 134.9,99.56 135.4,99.75 135.9,99.71 136.4,99.53 136.9,99.47 137.4,99.46 137.9,99.1 138.4,99.04 138.9,99.37 139.4,99.4 139.9,99.16 140.4,99.3 140.9,99.03 141.4,98.78 141.9,98.75 142.4,98.84 142.9,98.91 143.4,99.28 143.9,99.44 144.4,99.41 144.9,99.36 145.4,99.52 145.9,99.41 146.4,99.46 146.9,99.66 147.4,99.4 147.9,99.13 148.4,99 148.9,98.78 149.4,98.72 149.9,99.07 150.4,99.23 150.9,99.08 151.4,98.8 151.9,99.21 152.4,99.39 152.9,99.25 153.4,99.38 153.9,99.44 154.4,99.29 154.9,99.05 155.4,98.8 155.9,99.29 156.4,99.83 156.9,99.58 157.4,99.35 157.9,99.36 158.4,99.54 158.9,99.65 159.4,99.97 159.9,100.14 160.4,99.85 160.9,99.56 161.4,99.21 161.9,98.85 162.4,99 162.9,99.15 163.4,99.26 163.9,99.68 164.4,99.77 164.9,99.43 165.4,99.11 165.9,99.25 166.4,99.5 166.9,99.48 167.4,99.31 167.9,99.2 168.4,99.27 168.9,99.32 169.4,99.06 169.9,98.91 170.4,98.9 170.9,99.09 171.4,99.49 171.9,100.16 172.4,100.68 172.9,100.59 173.4,100.44 173.9,100.37 174.4,100.01 174.9,100.1 175.4,100.27 175.9,99.79 176.4,99.64 176.9,99.88 177.4,100 177.9,100.09 178.4,100.01 178.9,99.8 179.4,99.7 179.9,100 180.4,100 180.9,99.84 181.4,99.62 181.9,99.84 182.4,100.15 182.9,100.32 183.4,100.12 183.9,100.1 184.4,100.01 184.9,99.99 185.4,99.79 185.9,99.59 186.4,99.55 186.9,99.84 187.4,99.93 187.9,99.88 188.4,99.6 188.9,99.69 189.4,99.75 189.9,99.7 190.4,99.69 190.9,99.66 191.4,99.68 191.9,99.8 192.4,99.67 192.9,99.94 193.4,99.88 193.9,99.8 194.4,99.63 194.9,99.59 195.4,99.66 195.9,99.6 196.4,99.53 196.9,99.78 197.4,99.81 197.9,99.69 198.4,99.02 198.9,98.81 199.4,99.1 199.9,99.35 200.4,99.36 200.9,99.41 201.4,99.49 201.9,99.42 202.4,99.21 202.9,99.44 203.4,99.23 203.9,99.46 204.4,99.5 204.9,99.08 205.4,99.3 205.9,99.67 206.4,99.65 206.9,99.84 207.4,99.72 207.9,99.86 208.4,99.98 208.9,99.87 209.4,99.88 209.9,99.91 210.4,99.94 210.9,99.94 211.4,99.62 211.9,99.99 212.4,100.2 212.9,100.14 213.4,99.83 213.9,99.58 214.4,99.41 214.9,99.78 215.4,99.81 215.9,99.7 216.4,99.77 216.9,99.87 217.4,99.66 217.9,99.4 218.4,99.26 218.9,99.44 219.4,99.71 219.9,99.61 220.4,99.22 220.9,99.25 221.4,99.27 221.9,99.1 222.4,99.17 222.9,99.45 223.4,99.79 223.9,99.92 224.4,99.46 224.9,99.51 225.4,99.58 225.9,99.36 226.4,99.53 226.9,99.93 227.4,99.89 227.9,99.82 228.4,99.83 228.9,100.01 229.4,99.7 229.9,99.45 230.4,99.32 230.9,99.39 231.4,99.6 231.9,99.61 232.4,99.6 232.9,99.64 233.4,99.16 233.9,99.11 234.4,99.56 234.9,99.73 235.4,99.8 235.9,99.69 236.4,99.36 236.9,99.39 237.4,99.32 237.9,99.19 238.4,99.01" fill="none" stroke="#ffa500" stroke-width="1.05" stroke-linejoin="round"/>
<polyline points="35,56.6 40,56.6" fill="none" stroke="#0000ff" stroke-width="1.05"/>
<polyline points="40,56.6 40,99.5" fill="none" stroke="#0000ff" stroke-width="0.7" stroke-opacity="0.85"/>
<polyline points="40,99.5 40.15,101.8 40.5,103.1 40.95,103.8 41.4,103.87 41.9,103.69 42.4,103.83 42.9,104.08 43.4,104.26 43.9,104.47 44.4,104.73 44.9,104.94 45.4,104.96 45.9,104.82 46.4,104.67 46.9,105 47.4,105.01 47.9,105.2 48.4,105.53 48.9,105.45 49.4,105.45 49.9,105.82 50.4,106.07 50.9,106.39 51.4,106.31 51.9,106.17 52.4,106.46 52.9,106.37 53.4,105.95 53.9,106.16 54.4,106.61 54.9,106.77 55.4,106.7 55.9,106.66 56.4,106.97 56.9,107.34 57.4,106.99 57.9,106.76 58.4,107.18 58.9,107.32 59.4,106.9 59.9,106.56 60.4,106.81 60.9,107.13 61.4,107.02 61.9,106.27 62.4,106.1 62.9,106.29 63.4,106.78 63.9,107.22 64.4,107.55 64.9,107.87 65.4,107.75 65.9,107.71 66.4,107.74 66.9,107.33 67.4,107.17 67.9,107.77 68.4,107.78 68.9,107.72 69.4,107.98 69.9,108.09 70.4,107.77 70.9,107.77 71.4,107.71 71.9,108 72.4,107.84 72.9,107.84 73.4,108.08 73.9,108.47 74.4,108.14 74.9,107.57 75.4,107.55 75.9,108.13 76.4,108.06 76.9,107.77 77.4,107.45 77.9,107.41 78.4,107.55 78.9,107.49 79.4,107.51 79.9,107.6 80.4,107.78 80.9,107.82 81.4,107.98 81.9,108.36 82.4,108.41 82.9,108.53 83.4,108.74 83.9,108.46 84.4,108.41 84.9,108.12 85.4,107.74 85.9,108.19 86.4,108.58 86.9,108.17 87.4,108.07 87.9,108.26 88.4,108.49 88.9,108.75 89.4,108.78 89.9,108.62 90.4,108.23 90.9,108.23 91.4,108.81 91.9,109 92.4,108.89 92.9,108.75 93.4,108.68 93.9,108.96 94.4,109.04 94.9,109.2 95.4,109.05 95.9,108.81 96.4,108.45 96.9,108.16 97.4,108.45 97.9,108.75 98.4,108.76 98.9,109.11 99.4,109.13 99.9,108.94 100.4,109.33 100.9,109.16 101.4,108.54 101.9,108.18 102.4,107.97 102.9,108.02 103.4,108.33 103.9,108.82 104.4,108.88 104.9,108.87 105.4,109.03 105.9,109.36 106.4,109.11 106.9,108.77 107.4,108.57 107.9,108.19 108.4,108.11 108.9,108.16 109.4,108.19 109.9,108.28 110.4,108.43 110.9,108.6 111.4,108.62 111.9,108.42 112.4,108.88 112.9,109.46 113.4,109.47 113.9,109.08 114.4,109 114.9,109.43 115.4,109.25 115.9,108.67 116.4,108.34 116.9,108.68 117.4,109.22 117.9,109.29 118.4,109.21 118.9,108.85 119.4,108.5 119.9,108.63 120.4,108.5 120.9,108.29 121.4,108.04 121.9,108.03 122.4,108.26 122.9,108.52 123.4,108.34 123.9,108.43 124.4,108.74 124.9,108.86 125.4,108.59 125.9,108.24 126.4,108.18 126.9,108.58 127.4,108.52 127.9,108.46 128.4,108.84 128.9,108.85 129.4,108.52 129.9,108.38 130.4,108.44 130.9,108.63 131.4,108.69 131.9,108.31 132.4,108.42 132.9,108.68 133.4,108.86 133.9,109.13 134.4,109.22 134.9,109.13 135.4,109.14 135.9,108.87 136.4,108.52 136.9,108.39 137.4,108.49 137.9,108.77 138.4,108.8 138.9,108.51 139.4,108.2 139.9,108.41 140.4,108.76 140.9,108.61 141.4,108.61 141.9,108.51 142.4,108.25 142.9,108.42 143.4,108.64 143.9,108.34 144.4,108.41 144.9,108.82 145.4,109.06 145.9,108.71 146.4,108.74 146.9,109.03 147.4,109.2 147.9,108.68 148.4,108.4 148.9,108.6 149.4,108.9 149.9,108.63 150.4,108.82 150.9,108.54 151.4,107.7 151.9,107.65 152.4,108.49 152.9,108.53 153.4,108.31 153.9,108.44 154.4,108.81 154.9,108.74 155.4,108.34 155.9,108.27 156.4,108.42 156.9,108.62 157.4,108.85 157.9,109.06 158.4,108.91 158.9,108.53 159.4,108.82 159.9,109.1 160.4,108.97 160.9,108.84 161.4,108.74 161.9,108.5 162.4,108.55 162.9,108.62 163.4,108.78 163.9,108.83 164.4,108.55 164.9,108.48 165.4,109.06 165.9,109.04 166.4,109.03 166.9,108.92 167.4,108.86 167.9,108.58 168.4,108.79 168.9,108.8 169.4,108.97 169.9,108.83 170.4,108.49 170.9,108.33 171.4,108.28 171.9,107.86 172.4,107.6 172.9,107.98 173.4,108.37 173.9,108.3 174.4,108.08 174.9,108.2 175.4,108.26 175.9,108.24 176.4,108.16 176.9,108.38 177.4,108.64 177.9,108.74 178.4,108.42 178.9,108.74 179.4,109.07 179.9,108.97 180.4,108.38 180.9,108.19 181.4,108.32 181.9,108.73 182.4,108.79 182.9,108.97 183.4,108.87 183.9,108.66 184.4,108.49 184.9,108.48 185.4,108.38 185.9,108.88 186.4,109.42 186.9,109.61 187.4,109.28 187.9,109.06 188.4,108.82 188.9,108.52 189.4,108.37 189.9,108.45 190.4,108.58 190.9,108.22 191.4,107.95 191.9,108.01 192.4,108.2 192.9,108.38 193.4,108.59 193.9,108.58 194.4,108.62 194.9,108.48 195.4,108.71 195.9,108.45 196.4,108.23 196.9,108.23 197.4,108.65 197.9,108.92 198.4,108.81 198.9,108.31 199.4,108.44 199.9,108.38 200.4,108.12 200.9,108.01 201.4,108.12 201.9,108.01 202.4,107.91 202.9,108.1 203.4,108.22 203.9,108.29 204.4,108.57 204.9,108.72 205.4,108.71 205.9,108.87 206.4,109.01 206.9,109.06 207.4,108.78 207.9,108.35 208.4,108.3 208.9,108.33 209.4,108.32 209.9,108.52 210.4,108.67 210.9,108.93 211.4,108.89 211.9,108.89 212.4,108.74 212.9,108.41 213.4,108.18 213.9,107.79 214.4,108.07 214.9,108.33 215.4,107.99 215.9,108.06 216.4,108.64 216.9,108.48 217.4,108.53 217.9,108.59 218.4,108.49 218.9,108.27 219.4,108.25 219.9,108.16 220.4,108.19 220.9,108.35 221.4,108.34 221.9,108.3 222.4,108.68 222.9,109.06 223.4,109.13 223.9,109.11 224.4,109.21 224.9,109.46 225.4,108.96 225.9,108.75 226.4,108.79 226.9,108.72 227.4,108.3 227.9,108.04 228.4,108.26 228.9,108.81 229.4,108.83 229.9,108.84 230.4,108.7 230.9,108.43 231.4,108.37 231.9,108.34 232.4,108.65 232.9,108.58 233.4,108.3 233.9,108.28 234.4,108.67 234.9,108.71 235.4,108.88 235.9,108.8 236.4,108.54 236.9,108.44 237.4,108.72 237.9,108.58 238.4,108.31" fill="none" stroke="#0000ff" stroke-width="1.05" stroke-linejoin="round"/>
<polyline points="35,56.6 40,56.6" fill="none" stroke="#008000" stroke-width="1.05"/>
<polyline points="40,56.6 40,125.9" fill="none" stroke="#008000" stroke-width="0.7" stroke-opacity="0.85"/>
<polyline points="40,125.9 40.15,128.2 40.5,129.5 40.95,130.2 41.4,130.57 41.9,131.24 42.4,131.39 42.9,131.3 43.4,131.45 43.9,131.67 44.4,131.96 44.9,132.05 45.4,132.4 45.9,132.3 46.4,132.03 46.9,132.61 47.4,133.07 47.9,132.81 48.4,133 48.9,133.48 49.4,133.95 49.9,133.83 50.4,133.52 50.9,133.58 51.4,133.75 51.9,133.92 52.4,134.37 52.9,134.02 53.4,133.47 53.9,133.62 54.4,133.97 54.9,134.36 55.4,134.73 55.9,135.17 56.4,135.29 56.9,135.43 57.4,135.12 57.9,134.73 58.4,134.69 58.9,134.87 59.4,134.6 59.9,134.83 60.4,134.84 60.9,134.82 61.4,135.17 61.9,135.05 62.4,134.53 62.9,134.76 63.4,135.12 63.9,135.23 64.4,135.11 64.9,135.21 65.4,135.44 65.9,135.63 66.4,135.81 66.9,135.97 67.4,136.04 67.9,136.08 68.4,135.8 68.9,135.7 69.4,135.86 69.9,135.52 70.4,135.33 70.9,135.52 71.4,135.85 71.9,136.39 72.4,136.28 72.9,136.11 73.4,136.37 73.9,136.09 74.4,135.93 74.9,136.21 75.4,135.7 75.9,135.69 76.4,136.33 76.9,136.53 77.4,136.48 77.9,137.11 78.4,137.25 78.9,137.36 79.4,137.67 79.9,137.49 80.4,136.94 80.9,136.64 81.4,136.94 81.9,137.05 82.4,136.99 82.9,137.05 83.4,137.58 83.9,138.26 84.4,137.84 84.9,136.78 85.4,137.51 85.9,137.52 86.4,136.76 86.9,137.17 87.4,137.85 87.9,138.08 88.4,137.9 88.9,137.47 89.4,137.47 89.9,137.44 90.4,137.51 90.9,137.88 91.4,137.67 91.9,137.44 92.4,137.84 92.9,137.86 93.4,137.8 93.9,138.19 94.4,138.27 94.9,138.37 95.4,138.45 95.9,138.16 96.4,137.55 96.9,137.47 97.4,138 97.9,138.1 98.4,137.96 98.9,137.82 99.4,137.9 99.9,137.89 100.4,137.73 100.9,138 101.4,138.3 101.9,138.12 102.4,137.76 102.9,137.8 103.4,137.9 103.9,137.87 104.4,138.04 104.9,138.54 105.4,138.84 105.9,139.14 106.4,139.1 106.9,139.07 107.4,139.41 107.9,139.36 108.4,138.81 108.9,138.37 109.4,138.37 109.9,138.04 110.4,137.9 110.9,138.26 111.4,138.05 111.9,137.66 112.4,137.9 112.9,137.95 113.4,137.78 113.9,137.98 114.4,137.79 114.9,138.07 115.4,137.92 115.9,137.86 116.4,138.02 116.9,138.39 117.4,138.38 117.9,138.5 118.4,138.17 118.9,138.62 119.4,138.46 119.9,138.33 120.4,138.2 120.9,138.22 121.4,137.46 121.9,137.52 122.4,137.49 122.9,137.8 123.4,137.46 123.9,137.98 124.4,138.44 124.9,138.31 125.4,137.93 125.9,137.9 126.4,137.88 126.9,137.91 127.4,137.78 127.9,137.3 128.4,137.33 128.9,137.97 129.4,138.7 129.9,138.71 130.4,138.6 130.9,137.55 131.4,137.21 131.9,138.15 132.4,138.23 132.9,137.38 133.4,137.59 133.9,137.73 134.4,137.77 134.9,138.19 135.4,138.76 135.9,138.52 136.4,138.19 136.9,137.97 137.4,137.95 137.9,137.91 138.4,137.98 138.9,137.86 139.4,138.39 139.9,138.83 140.4,138.53 140.9,138.03 141.4,138.52 141.9,139.29 142.4,139.3 142.9,138.5 143.4,138.86 143.9,138.96 144.4,138.59 144.9,138.23 145.4,138.47 145.9,138.73 146.4,138.85 146.9,138.73 147.4,139.29 147.9,139.88 148.4,139.98 148.9,139.82 149.4,139.7 149.9,139.14 150.4,138.8 150.9,139.02 151.4,139.26 151.9,138.96 152.4,138.64 152.9,139.36 153.4,140.07 153.9,139.87 154.4,139.5 154.9,139.37 155.4,138.86 155.9,138.59 156.4,138.58 156.9,138.68 157.4,139.45 157.9,140.02 158.4,140.39 158.9,140.67 159.4,140.81 159.9,140.39 160.4,140.63 160.9,140.36 161.4,139.92 161.9,139.94 162.4,140.1 162.9,140.09 163.4,140.09 163.9,139.97 164.4,139.24 164.9,138.99 165.4,139.48 165.9,139.62 166.4,139.52 166.9,139.75 167.4,140.14 167.9,140.42 168.4,140.27 168.9,139.73 169.4,139.26 169.9,138.88 170.4,139.05 170.9,139.55 171.4,140.02 171.9,140.02 172.4,139.61 172.9,139.24 173.4,139.08 173.9,139.44 174.4,139.82 174.9,139.64 175.4,139.77 175.9,140.04 176.4,140.36 176.9,140.64 177.4,140.99 177.9,140.86 178.4,140.46 178.9,140.16 179.4,140.1 179.9,140.19 180.4,140.48 180.9,140.31 181.4,140.3 181.9,140.19 182.4,140.16 182.9,140.13 183.4,139.83 183.9,140.1 184.4,139.91 184.9,139.62 185.4,139.85 185.9,140.39 186.4,140.08 186.9,139.51 187.4,139.65 187.9,140.51 188.4,140.62 188.9,140.77 189.4,140.66 189.9,140.28 190.4,139.84 190.9,139.65 191.4,139.37 191.9,139.5 192.4,139.68 192.9,139.5 193.4,139.47 193.9,139.86 194.4,139.37 194.9,138.8 195.4,138.62 195.9,139.18 196.4,139.57 196.9,139.87 197.4,140.42 197.9,141.21 198.4,141.04 198.9,140.74 199.4,140.59 199.9,140.91 200.4,140.98 200.9,140.58 201.4,140.31 201.9,140.86 202.4,140.75 202.9,140 203.4,139.83 203.9,140.48 204.4,140.8 204.9,140.55 205.4,140.67 205.9,141.2 206.4,140.4 206.9,139.65 207.4,139.97 207.9,140.54 208.4,140.08 208.9,139.78 209.4,139.86 209.9,139.97 210.4,139.87 210.9,139.8 211.4,139.24 211.9,139.35 212.4,139.54 212.9,139.57 213.4,139.1 213.9,138.77 214.4,138.8 214.9,138.94 215.4,139.34 215.9,140.15 216.4,140.2 216.9,139.84 217.4,139.43 217.9,139.05 218.4,139.3 218.9,139.57 219.4,139.55 219.9,139.54 220.4,139.77 220.9,139.65 221.4,139.71 221.9,139.68 222.4,139.36 222.9,139.59 223.4,140.07 223.9,139.62 224.4,139.5 224.9,139.42 225.4,139.49 225.9,139.47 226.4,139.24 226.9,138.7 227.4,139.18 227.9,139.27 228.4,139.32 228.9,139.57 229.4,139.69 229.9,138.92 230.4,138.83 230.9,138.8 231.4,138.85 231.9,138.7 232.4,138.45 232.9,138.32 233.4,139.07 233.9,139.59 234.4,139.17 234.9,138.86 235.4,139.22 235.9,139.08 236.4,138.98 236.9,138.61 237.4,138.08 237.9,137.87 238.4,138.15" fill="none" stroke="#008000" stroke-width="1.05" stroke-linejoin="round"/>
<polyline points="35,56.6 40,56.6" fill="none" stroke="#800080" stroke-width="1.05"/>
<polyline points="40,56.6 40,140.9" fill="none" stroke="#800080" stroke-width="0.7" stroke-opacity="0.85"/>
<polyline points="40,140.9 40.15,143.2 40.5,144.5 40.95,145.2 41.4,146.01 41.9,146.44 42.4,146.53 42.9,146.4 43.4,146.84 43.9,146.6 44.4,146.08 44.9,146.35 45.4,147.1 45.9,147.33 46.4,147.53 46.9,147.81 47.4,148.13 47.9,147.41 48.4,146.94 48.9,146.74 49.4,146.8 49.9,147.11 50.4,147.25 50.9,147.35 51.4,147.8 51.9,148.3 52.4,148.95 52.9,149.09 53.4,148.88 53.9,148.77 54.4,148.89 54.9,149.13 55.4,149.3 55.9,148.65 56.4,147.87 56.9,148.1 57.4,148.88 57.9,149.09 58.4,149.11 58.9,148.89 59.4,148.41 59.9,148.5 60.4,149.06 60.9,149 61.4,149.04 61.9,149.64 62.4,149.6 62.9,149.14 63.4,149.1 63.9,148.73 64.4,149.12 64.9,149.35 65.4,149.33 65.9,149.96 66.4,150.4 66.9,150.01 67.4,150.06 67.9,150.11 68.4,149.71 68.9,149.51 69.4,149.35 69.9,148.56 70.4,148.53 70.9,149.13 71.4,149.47 71.9,149.77 72.4,149.81 72.9,149.42 73.4,149.66 73.9,150.6 74.4,151.14 74.9,150.45 75.4,150.05 75.9,150.19 76.4,149.93 76.9,149.66 77.4,149.67 77.9,150.03 78.4,150.09 78.9,149.77 79.4,149.37 79.9,148.95 80.4,149.49 80.9,150.25 81.4,150.3 81.9,150.35 82.4,150.2 82.9,150.17 83.4,150.34 83.9,150.34 84.4,150.25 84.9,149.71 85.4,149.9 85.9,150.28 86.4,149.9 86.9,149.92 87.4,150.23 87.9,150.23 88.4,150.34 88.9,150.65 89.4,150.75 89.9,151.19 90.4,150.85 90.9,150.44 91.4,150.47 91.9,150.25 92.4,149.68 92.9,149.52 93.4,150.06 93.9,150.46 94.4,150.23 94.9,150.22 95.4,150.53 95.9,150.52 96.4,150.48 96.9,150.47 97.4,150.72 97.9,150.13 98.4,150.22 98.9,150.85 99.4,150.52 99.9,150.37 100.4,150.94 100.9,150.72 101.4,150.79 101.9,151.02 102.4,151.19 102.9,151.59 103.4,151.36 103.9,150.94 104.4,151.19 104.9,151.16 105.4,150.61 105.9,150.32 106.4,150.31 106.9,149.92 107.4,149.67 107.9,149.81 108.4,149.45 108.9,149.72 109.4,149.56 109.9,149.71 110.4,150.42 110.9,150.56 111.4,150.18 111.9,150.35 112.4,150.02 112.9,150.1 113.4,150.85 113.9,151.31 114.4,151.23 114.9,151.23 115.4,151.25 115.9,151.6 116.4,151.6 116.9,151.59 117.4,151.62 117.9,150.94 118.4,150.69 118.9,151.45 119.4,151.78 119.9,151.81 120.4,151.03 120.9,150.77 121.4,150.81 121.9,150.79 122.4,151.1 122.9,151.47 123.4,151.57 123.9,151.73 124.4,152 124.9,151.89 125.4,151.85 125.9,151.57 126.4,151.48 126.9,151.77 127.4,151.79 127.9,151.61 128.4,151.56 128.9,151.17 129.4,150.87 129.9,151.49 130.4,151.67 130.9,152.1 131.4,151.91 131.9,151.55 132.4,151.46 132.9,151.59 133.4,151.17 133.9,150.78 134.4,150.96 134.9,151.52 135.4,152.18 135.9,152.26 136.4,151.48 136.9,151.36 137.4,151.81 137.9,151.45 138.4,151.21 138.9,151.34 139.4,151.83 139.9,152.09 140.4,151.88 140.9,152.07 141.4,152.72 141.9,152.58 142.4,151.89 142.9,151.45 143.4,151.4 143.9,151.57 144.4,151.38 144.9,151.31 145.4,151.3 145.9,151.34 146.4,151.35 146.9,151.2 147.4,150.82 147.9,151.17 148.4,150.89 148.9,150.74 149.4,150.67 149.9,150.96 150.4,151.45 150.9,151.72 151.4,151.36 151.9,151.34 152.4,151.58 152.9,151.94 153.4,151.49 153.9,151.15 154.4,150.96 154.9,150.67 155.4,150.5 155.9,150.2 156.4,150.57 156.9,150.85 157.4,151.01 157.9,151.97 158.4,151.86 158.9,150.86 159.4,150.69 159.9,150.45 160.4,150.18 160.9,150.45 161.4,150.49 161.9,150.55 162.4,151.07 162.9,151.02 163.4,151.2 163.9,151.95 164.4,151.83 164.9,151.9 165.4,152.44 165.9,152.28 166.4,151.78 166.9,151.59 167.4,151.21 167.9,151.15 168.4,152 168.9,152.12 169.4,151.53 169.9,151.04 170.4,151.03 170.9,151.53 171.4,151.66 171.9,151.52 172.4,151.94 172.9,151.85 173.4,151.99 173.9,152.04 174.4,151.69 174.9,151.73 175.4,151.72 175.9,151.49 176.4,151.3 176.9,151.02 177.4,151.07 177.9,151.46 178.4,151.47 178.9,151.57 179.4,151.3 179.9,150.92 180.4,151.17 180.9,151.35 181.4,151.2 181.9,151.03 182.4,150.7 182.9,150.94 183.4,151.32 183.9,151.06 184.4,150.64 184.9,150.85 185.4,151.3 185.9,151.67 186.4,151.73 186.9,151.94 187.4,151.7 187.9,151.38 188.4,150.98 188.9,150.99 189.4,150.74 189.9,150.39 190.4,150.65 190.9,150.63 191.4,150.21 191.9,150.14 192.4,150.86 192.9,151.58 193.4,151.61 193.9,151.48 194.4,151.29 194.9,151.4 195.4,151.38 195.9,151.09 196.4,150.83 196.9,150.88 197.4,150.33 197.9,150.29 198.4,150.29 198.9,150.8 199.4,150.98 199.9,150.95 200.4,151.37 200.9,151.34 201.4,150.71 201.9,150.73 202.4,151.15 202.9,151.19 203.4,150.85 203.9,150.45 204.4,150.2 204.9,150.13 205.4,150.91 205.9,151.3 206.4,151.86 206.9,151.73 207.4,151.24 207.9,150.68 208.4,150.49 208.9,151.08 209.4,151.55 209.9,150.59 210.4,150.36 210.9,150.95 211.4,150.93 211.9,150.33 212.4,149.97 212.9,150.28 213.4,150.69 213.9,150.79 214.4,150.63 214.9,150.59 215.4,150.54 215.9,150.45 216.4,150.11 216.9,150.02 217.4,149.99 217.9,150.39 218.4,150.71 218.9,150.82 219.4,150.52 219.9,150.9 220.4,151.38 220.9,151.28 221.4,150.62 221.9,149.79 222.4,149.85 222.9,150.48 223.4,150.64 223.9,150.24 224.4,150.41 224.9,150.18 225.4,149.94 225.9,149.59 226.4,149.97 226.9,150.58 227.4,150.98 227.9,150.48 228.4,150.47 228.9,150.62 229.4,150.23 229.9,149.71 230.4,149.97 230.9,150.3 231.4,150.42 231.9,150.23 232.4,150.2 232.9,150.34 233.4,150.55 233.9,150.51 234.4,150.23 234.9,149.59 235.4,149.42 235.9,148.78 236.4,148.48 236.9,149.36 237.4,149.76 237.9,149.51 238.4,149.67" fill="none" stroke="#800080" stroke-width="1.05" stroke-linejoin="round"/>
<line x1="34.5" y1="48.8" x2="34.5" y2="171.95" stroke="#3a3a3a" stroke-width="0.9" />
<line x1="34.05" y1="171.5" x2="243.8" y2="171.5" stroke="#3a3a3a" stroke-width="0.9" />
<line x1="31.8" y1="56.6" x2="34.5" y2="56.6" stroke="#3a3a3a" stroke-width="0.9" />
<text x="0" y="0" transform="translate(30.5 59.11) scale(1 1.07)" font-size="7.0" text-anchor="end" fill="#222" >0</text>
<line x1="31.8" y1="94.9" x2="34.5" y2="94.9" stroke="#3a3a3a" stroke-width="0.9" />
<text x="0" y="0" transform="translate(30.5 97.41) scale(1 1.07)" font-size="7.0" text-anchor="end" fill="#222" >-100</text>
<line x1="31.8" y1="133.2" x2="34.5" y2="133.2" stroke="#3a3a3a" stroke-width="0.9" />
<text x="0" y="0" transform="translate(30.5 135.71) scale(1 1.07)" font-size="7.0" text-anchor="end" fill="#222" >-200</text>
<line x1="31.8" y1="171.5" x2="34.5" y2="171.5" stroke="#3a3a3a" stroke-width="0.9" />
<text x="0" y="0" transform="translate(30.5 174.01) scale(1 1.07)" font-size="7.0" text-anchor="end" fill="#222" >-300</text>
<line x1="39.7" y1="171.5" x2="39.7" y2="174.2" stroke="#3a3a3a" stroke-width="0.9" />
<text x="0" y="0" transform="translate(39.7 180.8) scale(1 1.07)" font-size="7.0" text-anchor="middle" fill="#222" >0</text>
<line x1="90.73" y1="171.5" x2="90.73" y2="174.2" stroke="#3a3a3a" stroke-width="0.9" />
<text x="0" y="0" transform="translate(90.73 180.8) scale(1 1.07)" font-size="7.0" text-anchor="middle" fill="#222" >100</text>
<line x1="141.76" y1="171.5" x2="141.76" y2="174.2" stroke="#3a3a3a" stroke-width="0.9" />
<text x="0" y="0" transform="translate(141.76 180.8) scale(1 1.07)" font-size="7.0" text-anchor="middle" fill="#222" >200</text>
<line x1="192.79" y1="171.5" x2="192.79" y2="174.2" stroke="#3a3a3a" stroke-width="0.9" />
<text x="0" y="0" transform="translate(192.79 180.8) scale(1 1.07)" font-size="7.0" text-anchor="middle" fill="#222" >300</text>
<line x1="243.82" y1="171.5" x2="243.82" y2="174.2" stroke="#3a3a3a" stroke-width="0.9" />
<text x="0" y="0" transform="translate(243.82 180.8) scale(1 1.07)" font-size="7.0" text-anchor="middle" fill="#222" >400</text>
<text x="0" y="0" transform="translate(9.8 109.7) rotate(-90) scale(1 1.07)" font-size="7.4" text-anchor="middle" fill="#222" dominant-baseline="central">ΔOPL (nm)</text>
<text x="0" y="0" transform="translate(139.3 189) scale(1 1.07)" font-size="7.0" text-anchor="middle" fill="#222" >Time (ms)</text>
<text x="0" y="0" transform="translate(138.6 45.9) scale(1 1.07)" font-size="8.0" text-anchor="middle" fill="#222" >Averaged ΔOPL traces for varying pulse energies</text>
<text x="0" y="0" transform="translate(2.6 52.4) scale(1 0.97)" font-size="11" text-anchor="start" fill="#111" >(A)</text>
<text x="0" y="0" transform="translate(138.6 201.6) scale(1 1.07)" font-size="7.6" text-anchor="middle" fill="#222" >Pulse energy (μJ),  photon density (×10<tspan font-size="4.6" dy="-2.6">6</tspan><tspan dy="2.6">/μm</tspan><tspan font-size="4.6" dy="-2.6">2</tspan><tspan dy="2.6">) in parentheses</tspan></text>
<line x1="47.4" y1="209.6" x2="61.2" y2="209.6" stroke="#808080" stroke-width="1.35" stroke-opacity="0.75"/>
<text x="0" y="0" transform="translate(66.1 212) scale(1 1.07)" font-size="6.7" text-anchor="start" fill="#222" >2.40 (2.6)</text>
<line x1="47.4" y1="218.6" x2="61.2" y2="218.6" stroke="#ff0000" stroke-width="1.35" stroke-opacity="0.5"/>
<text x="0" y="0" transform="translate(66.1 221) scale(1 1.07)" font-size="6.7" text-anchor="start" fill="#222" >4.88 (5.2)</text>
<line x1="108" y1="209.6" x2="121.8" y2="209.6" stroke="#ffa500" stroke-width="1.35" stroke-opacity="0.5"/>
<text x="0" y="0" transform="translate(126.7 212) scale(1 1.07)" font-size="6.7" text-anchor="start" fill="#222" >10.08 (10.8)</text>
<line x1="108" y1="218.6" x2="121.8" y2="218.6" stroke="#0000ff" stroke-width="1.35" stroke-opacity="0.5"/>
<text x="0" y="0" transform="translate(126.7 221) scale(1 1.07)" font-size="6.7" text-anchor="start" fill="#222" >21.45 (23.0)</text>
<line x1="175.6" y1="209.6" x2="189.4" y2="209.6" stroke="#008000" stroke-width="1.35" stroke-opacity="0.5"/>
<text x="0" y="0" transform="translate(194.3 212) scale(1 1.07)" font-size="6.7" text-anchor="start" fill="#222" >40.86 (43.8)</text>
<line x1="175.6" y1="218.6" x2="189.4" y2="218.6" stroke="#800080" stroke-width="1.35" stroke-opacity="0.5"/>
<text x="0" y="0" transform="translate(194.3 221) scale(1 1.07)" font-size="6.7" text-anchor="start" fill="#222" >77.50 (83.0)</text>
<rect x="322.7" y="15.2" width="4.9" height="95.3" fill="#b3d9b3"/>
<polyline points="299.7,18.4 300.2,18.4 300.7,18.4 301.2,18.4 301.7,18.4 302.2,18.4 302.7,18.4 303.2,18.4 303.7,18.4 304.2,18.4 304.7,18.4 305.2,18.4 305.7,18.4 306.2,18.4 306.7,18.4 307.2,18.4 307.7,18.4 308.2,18.4 308.7,18.4 309.2,18.4 309.7,18.4 310.2,18.4 310.7,18.4 311.2,18.4 311.7,18.4 312.2,18.4 312.7,18.4 313.2,18.4 313.7,18.4 314.2,18.4 314.7,18.4 315.2,18.4 315.7,18.4 316.2,18.4 316.7,18.4 317.2,18.4 317.7,18.4 318.2,18.4 318.7,18.4 319.2,18.4 319.7,18.4 320.2,18.4 320.7,18.4 321.2,18.4 321.7,18.4 322.2,18.4 322.7,18.4 323.2,18.4 323.7,18.4 324.2,18.4 324.7,18.4 325.2,18.4 325.7,18.4 326.2,18.4 326.7,18.4 327.2,18.4 327.7,18.4 328.2,18.4 328.7,18.4 329.2,18.4 329.7,18.4 330.2,18.4 330.7,18.58 331.2,18.78 331.7,18.99 332.2,19.2 332.7,19.42 333.2,19.64 333.7,19.88 334.2,20.12 334.7,20.37 335.2,20.63 335.7,20.89 336.2,21.17 336.7,21.45 337.2,21.74 337.7,22.04 338.2,22.34 338.7,22.65 339.2,22.97 339.7,23.3 340.2,23.64 340.7,23.98 341.2,24.32 341.7,24.68 342.2,25.04 342.7,25.4 343.2,25.77 343.7,26.15 344.2,26.53 344.7,26.91 345.2,27.3 345.7,27.68 346.2,28.08 346.7,28.47 347.2,28.87 347.7,29.27 348.2,29.67 348.7,30.07 349.2,30.47 349.7,30.87 350.2,31.26 350.7,31.66 351.2,32.06 351.7,32.45 352.2,32.85 352.7,33.24 353.2,33.62 353.7,34.01 354.2,34.39 354.7,34.76 355.2,35.13 355.7,35.5 356.2,35.86 356.7,36.22 357.2,36.58 357.7,36.92 358.2,37.26 358.7,37.6 359.2,37.93 359.7,38.25 360.2,38.57 360.7,38.88 361.2,39.19 361.7,39.49 362.2,39.78 362.7,40.07 363.2,40.34 363.7,40.62 364.2,40.88 364.7,41.15 365.2,41.4 365.7,41.65 366.2,41.89 366.7,42.12 367.2,42.35 367.7,42.58 368.2,42.79 368.7,43.01 369.2,43.21 369.7,43.41 370.2,43.61 370.7,43.8 371.2,43.98 371.7,44.16 372.2,44.34 372.7,44.51 373.2,44.68 373.7,44.84 374.2,45 374.7,45.15 375.2,45.3 375.7,45.45 376.2,45.59 376.7,45.73 377.2,45.86 377.7,46 378.2,46.12 378.7,46.25 379.2,46.37 379.7,46.5 380.2,46.61 380.7,46.73 381.2,46.84 381.7,46.96 382.2,47.06 382.7,47.17 383.2,47.28 383.7,47.38 384.2,47.48 384.7,47.58 385.2,47.68 385.7,47.78 386.2,47.87 386.7,47.97 387.2,48.06 387.7,48.15 388.2,48.24 388.7,48.33 389.2,48.42 389.7,48.5 390.2,48.59 390.7,48.67 391.2,48.76 391.7,48.84 392.2,48.92 392.7,49 393.2,49.08 393.7,49.16 394.2,49.24 394.7,49.32 395.2,49.4 395.7,49.47 396.2,49.55 396.7,49.63 397.2,49.7 397.7,49.77 398.2,49.85 398.7,49.92 399.2,49.99 399.7,50.06 400.2,50.13 400.7,50.21 401.2,50.28 401.7,50.34 402.2,50.41 402.7,50.48 403.2,50.55 403.7,50.62 404.2,50.68 404.7,50.75 405.2,50.81 405.7,50.88 406.2,50.94 406.7,51.01 407.2,51.07 407.7,51.14 408.2,51.2 408.7,51.26 409.2,51.32 409.7,51.38 410.2,51.45 410.7,51.51 411.2,51.57 411.7,51.63 412.2,51.69 412.7,51.74 413.2,51.8 413.7,51.86 414.2,51.92 414.7,51.98 415.2,52.03 415.7,52.09 416.2,52.14 416.7,52.2 417.2,52.26 417.7,52.31 418.2,52.36 418.7,52.42 419.2,52.47 419.7,52.53 420.2,52.58 420.7,52.63 421.2,52.68 421.7,52.73 422.2,52.79 422.7,52.84 423.2,52.89 423.7,52.94 424.2,52.99 424.7,53.04 425.2,53.09 425.7,53.14 426.2,53.18 426.7,53.23 427.2,53.28 427.7,53.33 428.2,53.37 428.7,53.42 429.2,53.47 429.7,53.51 430.2,53.56 430.7,53.6 431.2,53.65 431.7,53.69 432.2,53.74 432.7,53.78 433.2,53.83 433.7,53.87 434.2,53.91 434.7,53.96 435.2,54 435.7,54.04 436.2,54.08 436.7,54.12 437.2,54.17 437.7,54.21 438.2,54.25 438.7,54.29 439.2,54.33 439.7,54.37 440.2,54.41 440.7,54.45 441.2,54.49 441.7,54.53 442.2,54.56 442.7,54.6 443.2,54.64 443.7,54.68 444.2,54.72 444.7,54.75 445.2,54.79 445.7,54.83 446.2,54.86 446.7,54.9 447.2,54.93 447.7,54.97 448.2,55 448.7,55.04 449.2,55.07 449.7,55.11 450.2,55.14 450.7,55.18 451.2,55.21 451.7,55.24 452.2,55.28 452.7,55.31 453.2,55.34 453.7,55.38 454.2,55.41 454.7,55.44 455.2,55.47 455.7,55.5 456.2,55.54 456.7,55.57 457.2,55.6 457.7,55.63 458.2,55.66 458.7,55.69 459.2,55.72 459.7,55.75 460.2,55.78 460.7,55.81 461.2,55.84 461.7,55.87 462.2,55.9" fill="none" stroke="#ffa500" stroke-width="1.0"/>
<polyline points="299.7,18.4 300.2,18.4 300.7,18.4 301.2,18.4 301.7,18.4 302.2,18.4 302.7,18.4 303.2,18.4 303.7,18.4 304.2,18.4 304.7,18.4 305.2,18.4 305.7,18.4 306.2,18.4 306.7,18.4 307.2,18.4 307.7,18.4 308.2,18.4 308.7,18.4 309.2,18.4 309.7,18.4 310.2,18.4 310.7,18.4 311.2,18.4 311.7,18.4 312.2,18.4 312.7,18.4 313.2,18.4 313.7,18.4 314.2,18.4 314.7,18.4 315.2,18.4 315.7,18.4 316.2,18.4 316.7,18.4 317.2,18.4 317.7,18.4 318.2,18.4 318.7,18.4 319.2,18.4 319.7,18.4 320.2,18.4 320.7,18.4 321.2,18.4 321.7,18.4 322.2,18.4 322.7,18.4 323.2,18.4 323.7,18.4 324.2,18.4 324.7,18.4 325.2,18.4 325.7,18.4 326.2,18.4 326.7,18.4 327.2,18.4 327.7,18.4 328.2,18.4 328.7,18.43 329.2,18.72 329.7,19.04 330.2,19.38 330.7,19.74 331.2,20.12 331.7,20.5 332.2,20.9 332.7,21.32 333.2,21.74 333.7,22.17 334.2,22.62 334.7,23.07 335.2,23.52 335.7,23.99 336.2,24.46 336.7,24.94 337.2,25.42 337.7,25.9 338.2,26.39 338.7,26.88 339.2,27.38 339.7,27.88 340.2,28.38 340.7,28.88 341.2,29.38 341.7,29.88 342.2,30.38 342.7,30.88 343.2,31.39 343.7,31.89 344.2,32.38 344.7,32.88 345.2,33.38 345.7,33.87 346.2,34.36 346.7,34.85 347.2,35.33 347.7,35.81 348.2,36.29 348.7,36.76 349.2,37.23 349.7,37.7 350.2,38.16 350.7,38.61 351.2,39.07 351.7,39.51 352.2,39.95 352.7,40.39 353.2,40.82 353.7,41.25 354.2,41.67 354.7,42.08 355.2,42.49 355.7,42.89 356.2,43.29 356.7,43.68 357.2,44.06 357.7,44.44 358.2,44.82 358.7,45.18 359.2,45.54 359.7,45.9 360.2,46.25 360.7,46.59 361.2,46.93 361.7,47.26 362.2,47.58 362.7,47.9 363.2,48.22 363.7,48.52 364.2,48.82 364.7,49.12 365.2,49.41 365.7,49.69 366.2,49.97 366.7,50.25 367.2,50.51 367.7,50.78 368.2,51.03 368.7,51.29 369.2,51.53 369.7,51.77 370.2,52.01 370.7,52.24 371.2,52.47 371.7,52.69 372.2,52.91 372.7,53.12 373.2,53.33 373.7,53.53 374.2,53.73 374.7,53.93 375.2,54.12 375.7,54.3 376.2,54.49 376.7,54.66 377.2,54.84 377.7,55.01 378.2,55.18 378.7,55.34 379.2,55.5 379.7,55.66 380.2,55.81 380.7,55.96 381.2,56.11 381.7,56.25 382.2,56.4 382.7,56.53 383.2,56.67 383.7,56.8 384.2,56.93 384.7,57.06 385.2,57.18 385.7,57.3 386.2,57.42 386.7,57.54 387.2,57.65 387.7,57.77 388.2,57.88 388.7,57.98 389.2,58.09 389.7,58.19 390.2,58.29 390.7,58.39 391.2,58.49 391.7,58.59 392.2,58.68 392.7,58.77 393.2,58.86 393.7,58.95 394.2,59.04 394.7,59.13 395.2,59.21 395.7,59.29 396.2,59.38 396.7,59.46 397.2,59.53 397.7,59.61 398.2,59.69 398.7,59.76 399.2,59.84 399.7,59.91 400.2,59.98 400.7,60.05 401.2,60.12 401.7,60.19 402.2,60.25 402.7,60.32 403.2,60.38 403.7,60.45 404.2,60.51 404.7,60.57 405.2,60.63 405.7,60.69 406.2,60.75 406.7,60.81 407.2,60.87 407.7,60.93 408.2,60.98 408.7,61.04 409.2,61.09 409.7,61.15 410.2,61.2 410.7,61.25 411.2,61.31 411.7,61.36 412.2,61.41 412.7,61.46 413.2,61.51 413.7,61.56 414.2,61.6 414.7,61.65 415.2,61.7 415.7,61.74 416.2,61.79 416.7,61.84 417.2,61.88 417.7,61.92 418.2,61.97 418.7,62.01 419.2,62.05 419.7,62.1 420.2,62.14 420.7,62.18 421.2,62.22 421.7,62.26 422.2,62.3 422.7,62.34 423.2,62.38 423.7,62.42 424.2,62.45 424.7,62.49 425.2,62.53 425.7,62.57 426.2,62.6 426.7,62.64 427.2,62.67 427.7,62.71 428.2,62.75 428.7,62.78 429.2,62.81 429.7,62.85 430.2,62.88 430.7,62.91 431.2,62.95 431.7,62.98 432.2,63.01 432.7,63.04 433.2,63.07 433.7,63.11 434.2,63.14 434.7,63.17 435.2,63.2 435.7,63.23 436.2,63.26 436.7,63.29 437.2,63.31 437.7,63.34 438.2,63.37 438.7,63.4 439.2,63.43 439.7,63.45 440.2,63.48 440.7,63.51 441.2,63.54 441.7,63.56 442.2,63.59 442.7,63.61 443.2,63.64 443.7,63.66 444.2,63.69 444.7,63.71 445.2,63.74 445.7,63.76 446.2,63.79 446.7,63.81 447.2,63.83 447.7,63.86 448.2,63.88 448.7,63.9 449.2,63.93 449.7,63.95 450.2,63.97 450.7,63.99 451.2,64.01 451.7,64.04 452.2,64.06 452.7,64.08 453.2,64.1 453.7,64.12 454.2,64.14 454.7,64.16 455.2,64.18 455.7,64.2 456.2,64.22 456.7,64.24 457.2,64.26 457.7,64.28 458.2,64.3 458.7,64.31 459.2,64.33 459.7,64.35 460.2,64.37 460.7,64.39 461.2,64.4 461.7,64.42 462.2,64.44" fill="none" stroke="#0000ff" stroke-width="1.0"/>
<polyline points="299.7,18.4 300.2,18.4 300.7,18.4 301.2,18.4 301.7,18.4 302.2,18.4 302.7,18.4 303.2,18.4 303.7,18.4 304.2,18.4 304.7,18.4 305.2,18.4 305.7,18.4 306.2,18.4 306.7,18.4 307.2,18.4 307.7,18.4 308.2,18.4 308.7,18.4 309.2,18.4 309.7,18.4 310.2,18.4 310.7,18.4 311.2,18.4 311.7,18.4 312.2,18.4 312.7,18.4 313.2,18.4 313.7,18.4 314.2,18.4 314.7,18.4 315.2,18.4 315.7,18.4 316.2,18.4 316.7,18.4 317.2,18.4 317.7,18.4 318.2,18.4 318.7,18.4 319.2,18.4 319.7,18.4 320.2,18.4 320.7,18.4 321.2,18.4 321.7,18.4 322.2,18.4 322.7,18.4 323.2,18.4 323.7,18.4 324.2,18.4 324.7,18.4 325.2,18.4 325.7,18.4 326.2,18.4 326.7,18.4 327.2,18.4 327.7,18.4 328.2,18.46 328.7,18.8 329.2,19.16 329.7,19.55 330.2,19.96 330.7,20.39 331.2,20.86 331.7,21.35 332.2,21.86 332.7,22.4 333.2,22.97 333.7,23.57 334.2,24.19 334.7,24.83 335.2,25.5 335.7,26.2 336.2,26.92 336.7,27.66 337.2,28.42 337.7,29.2 338.2,30 338.7,30.82 339.2,31.66 339.7,32.51 340.2,33.38 340.7,34.26 341.2,35.15 341.7,36.05 342.2,36.96 342.7,37.87 343.2,38.8 343.7,39.73 344.2,40.66 344.7,41.59 345.2,42.52 345.7,43.45 346.2,44.38 346.7,45.3 347.2,46.22 347.7,47.13 348.2,48.04 348.7,48.93 349.2,49.82 349.7,50.69 350.2,51.56 350.7,52.41 351.2,53.24 351.7,54.07 352.2,54.87 352.7,55.67 353.2,56.44 353.7,57.2 354.2,57.94 354.7,58.67 355.2,59.38 355.7,60.06 356.2,60.74 356.7,61.39 357.2,62.02 357.7,62.64 358.2,63.24 358.7,63.82 359.2,64.38 359.7,64.92 360.2,65.45 360.7,65.96 361.2,66.45 361.7,66.93 362.2,67.38 362.7,67.83 363.2,68.25 363.7,68.67 364.2,69.07 364.7,69.45 365.2,69.82 365.7,70.18 366.2,70.52 366.7,70.85 367.2,71.17 367.7,71.48 368.2,71.77 368.7,72.06 369.2,72.34 369.7,72.6 370.2,72.86 370.7,73.11 371.2,73.35 371.7,73.59 372.2,73.81 372.7,74.03 373.2,74.24 373.7,74.45 374.2,74.65 374.7,74.84 375.2,75.03 375.7,75.21 376.2,75.39 376.7,75.56 377.2,75.73 377.7,75.9 378.2,76.06 378.7,76.22 379.2,76.37 379.7,76.52 380.2,76.67 380.7,76.82 381.2,76.96 381.7,77.1 382.2,77.24 382.7,77.37 383.2,77.51 383.7,77.64 384.2,77.77 384.7,77.89 385.2,78.02 385.7,78.14 386.2,78.27 386.7,78.39 387.2,78.51 387.7,78.62 388.2,78.74 388.7,78.85 389.2,78.97 389.7,79.08 390.2,79.19 390.7,79.3 391.2,79.41 391.7,79.52 392.2,79.62 392.7,79.73 393.2,79.83 393.7,79.94 394.2,80.04 394.7,80.14 395.2,80.24 395.7,80.34 396.2,80.44 396.7,80.54 397.2,80.63 397.7,80.73 398.2,80.82 398.7,80.92 399.2,81.01 399.7,81.1 400.2,81.19 400.7,81.29 401.2,81.38 401.7,81.46 402.2,81.55 402.7,81.64 403.2,81.73 403.7,81.81 404.2,81.9 404.7,81.98 405.2,82.07 405.7,82.15 406.2,82.23 406.7,82.31 407.2,82.39 407.7,82.47 408.2,82.55 408.7,82.63 409.2,82.71 409.7,82.79 410.2,82.86 410.7,82.94 411.2,83.01 411.7,83.09 412.2,83.16 412.7,83.23 413.2,83.31 413.7,83.38 414.2,83.45 414.7,83.52 415.2,83.59 415.7,83.66 416.2,83.73 416.7,83.8 417.2,83.86 417.7,83.93 418.2,84 418.7,84.06 419.2,84.13 419.7,84.19 420.2,84.26 420.7,84.32 421.2,84.38 421.7,84.44 422.2,84.51 422.7,84.57 423.2,84.63 423.7,84.69 424.2,84.75 424.7,84.81 425.2,84.86 425.7,84.92 426.2,84.98 426.7,85.04 427.2,85.09 427.7,85.15 428.2,85.2 428.7,85.26 429.2,85.31 429.7,85.37 430.2,85.42 430.7,85.47 431.2,85.53 431.7,85.58 432.2,85.63 432.7,85.68 433.2,85.73 433.7,85.78 434.2,85.83 434.7,85.88 435.2,85.93 435.7,85.98 436.2,86.03 436.7,86.08 437.2,86.12 437.7,86.17 438.2,86.22 438.7,86.26 439.2,86.31 439.7,86.35 440.2,86.4 440.7,86.44 441.2,86.49 441.7,86.53 442.2,86.57 442.7,86.62 443.2,86.66 443.7,86.7 444.2,86.74 444.7,86.78 445.2,86.82 445.7,86.86 446.2,86.9 446.7,86.94 447.2,86.98 447.7,87.02 448.2,87.06 448.7,87.1 449.2,87.14 449.7,87.18 450.2,87.21 450.7,87.25 451.2,87.29 451.7,87.32 452.2,87.36 452.7,87.4 453.2,87.43 453.7,87.47 454.2,87.5 454.7,87.54 455.2,87.57 455.7,87.6 456.2,87.64 456.7,87.67 457.2,87.7 457.7,87.74 458.2,87.77 458.7,87.8 459.2,87.83 459.7,87.87 460.2,87.9 460.7,87.93 461.2,87.96 461.7,87.99 462.2,88.02" fill="none" stroke="#008000" stroke-width="1.0"/>
<polyline points="299.7,18.4 300.2,18.4 300.7,18.4 301.2,18.4 301.7,18.4 302.2,18.4 302.7,18.4 303.2,18.4 303.7,18.4 304.2,18.4 304.7,18.4 305.2,18.4 305.7,18.4 306.2,18.4 306.7,18.4 307.2,18.4 307.7,18.4 308.2,18.4 308.7,18.4 309.2,18.4 309.7,18.4 310.2,18.4 310.7,18.4 311.2,18.4 311.7,18.4 312.2,18.4 312.7,18.4 313.2,18.4 313.7,18.4 314.2,18.4 314.7,18.4 315.2,18.4 315.7,18.4 316.2,18.4 316.7,18.4 317.2,18.4 317.7,18.4 318.2,18.4 318.7,18.4 319.2,18.4 319.7,18.4 320.2,18.4 320.7,18.4 321.2,18.4 321.7,18.4 322.2,18.4 322.7,18.4 323.2,18.4 323.7,18.4 324.2,18.4 324.7,18.4 325.2,18.4 325.7,18.4 326.2,18.4 326.7,18.4 327.2,18.4 327.7,18.86 328.2,19.51 328.7,20.17 329.2,20.83 329.7,21.5 330.2,22.18 330.7,22.88 331.2,23.59 331.7,24.32 332.2,25.07 332.7,25.85 333.2,26.65 333.7,27.47 334.2,28.32 334.7,29.2 335.2,30.12 335.7,31.06 336.2,32.03 336.7,33.03 337.2,34.06 337.7,35.12 338.2,36.2 338.7,37.32 339.2,38.46 339.7,39.63 340.2,40.82 340.7,42.03 341.2,43.26 341.7,44.5 342.2,45.76 342.7,47.03 343.2,48.31 343.7,49.59 344.2,50.87 344.7,52.16 345.2,53.43 345.7,54.7 346.2,55.96 346.7,57.2 347.2,58.43 347.7,59.64 348.2,60.83 348.7,61.99 349.2,63.12 349.7,64.23 350.2,65.3 350.7,66.35 351.2,67.36 351.7,68.33 352.2,69.28 352.7,70.18 353.2,71.05 353.7,71.89 354.2,72.69 354.7,73.45 355.2,74.18 355.7,74.88 356.2,75.55 356.7,76.18 357.2,76.79 357.7,77.36 358.2,77.91 358.7,78.43 359.2,78.93 359.7,79.4 360.2,79.85 360.7,80.28 361.2,80.7 361.7,81.09 362.2,81.47 362.7,81.83 363.2,82.18 363.7,82.52 364.2,82.85 364.7,83.16 365.2,83.47 365.7,83.77 366.2,84.06 366.7,84.34 367.2,84.61 367.7,84.88 368.2,85.15 368.7,85.4 369.2,85.66 369.7,85.9 370.2,86.15 370.7,86.39 371.2,86.62 371.7,86.86 372.2,87.09 372.7,87.31 373.2,87.54 373.7,87.76 374.2,87.97 374.7,88.19 375.2,88.4 375.7,88.61 376.2,88.81 376.7,89.02 377.2,89.22 377.7,89.42 378.2,89.62 378.7,89.81 379.2,90 379.7,90.19 380.2,90.38 380.7,90.56 381.2,90.75 381.7,90.93 382.2,91.1 382.7,91.28 383.2,91.46 383.7,91.63 384.2,91.8 384.7,91.97 385.2,92.13 385.7,92.3 386.2,92.46 386.7,92.62 387.2,92.78 387.7,92.93 388.2,93.09 388.7,93.24 389.2,93.39 389.7,93.54 390.2,93.69 390.7,93.83 391.2,93.98 391.7,94.12 392.2,94.26 392.7,94.4 393.2,94.54 393.7,94.67 394.2,94.81 394.7,94.94 395.2,95.07 395.7,95.2 396.2,95.33 396.7,95.45 397.2,95.58 397.7,95.7 398.2,95.82 398.7,95.94 399.2,96.06 399.7,96.18 400.2,96.29 400.7,96.41 401.2,96.52 401.7,96.63 402.2,96.74 402.7,96.85 403.2,96.96 403.7,97.07 404.2,97.17 404.7,97.28 405.2,97.38 405.7,97.48 406.2,97.58 406.7,97.68 407.2,97.78 407.7,97.88 408.2,97.97 408.7,98.07 409.2,98.16 409.7,98.25 410.2,98.34 410.7,98.43 411.2,98.52 411.7,98.61 412.2,98.7 412.7,98.78 413.2,98.87 413.7,98.95 414.2,99.04 414.7,99.12 415.2,99.2 415.7,99.28 416.2,99.36 416.7,99.44 417.2,99.51 417.7,99.59 418.2,99.67 418.7,99.74 419.2,99.81 419.7,99.89 420.2,99.96 420.7,100.03 421.2,100.1 421.7,100.17 422.2,100.24 422.7,100.31 423.2,100.37 423.7,100.44 424.2,100.5 424.7,100.57 425.2,100.63 425.7,100.7 426.2,100.76 426.7,100.82 427.2,100.88 427.7,100.94 428.2,101 428.7,101.06 429.2,101.12 429.7,101.17 430.2,101.23 430.7,101.29 431.2,101.34 431.7,101.4 432.2,101.45 432.7,101.5 433.2,101.56 433.7,101.61 434.2,101.66 434.7,101.71 435.2,101.76 435.7,101.81 436.2,101.86 436.7,101.91 437.2,101.96 437.7,102 438.2,102.05 438.7,102.1 439.2,102.14 439.7,102.19 440.2,102.23 440.7,102.27 441.2,102.32 441.7,102.36 442.2,102.4 442.7,102.45 443.2,102.49 443.7,102.53 444.2,102.57 444.7,102.61 445.2,102.65 445.7,102.69 446.2,102.73 446.7,102.76 447.2,102.8 447.7,102.84 448.2,102.88 448.7,102.91 449.2,102.95 449.7,102.98 450.2,103.02 450.7,103.05 451.2,103.09 451.7,103.12 452.2,103.15 452.7,103.19 453.2,103.22 453.7,103.25 454.2,103.28 454.7,103.32 455.2,103.35 455.7,103.38 456.2,103.41 456.7,103.44 457.2,103.47 457.7,103.5 458.2,103.53 458.7,103.55 459.2,103.58 459.7,103.61 460.2,103.64 460.7,103.67 461.2,103.69 461.7,103.72 462.2,103.75" fill="none" stroke="#800080" stroke-width="1.0"/>
<polyline points="299.7,18.4 300.2,18.4 300.7,18.4 301.2,18.4 301.7,18.4 302.2,18.4 302.7,18.4 303.2,18.4 303.7,18.4 304.2,18.4 304.7,18.4 305.2,18.4 305.7,18.4 306.2,18.4 306.7,18.4 307.2,18.4 307.7,18.4 308.2,18.4 308.7,18.4 309.2,18.4 309.7,18.4 310.2,18.4 310.7,18.4 311.2,18.4 311.7,18.4 312.2,18.4 312.7,18.4 313.2,18.4 313.7,18.4 314.2,18.4 314.7,18.4 315.2,18.4 315.7,18.4 316.2,18.4 316.7,18.4 317.2,18.4 317.7,18.4 318.2,18.4 318.7,18.4 319.2,18.4 319.7,18.4 320.2,18.4 320.7,18.4 321.2,18.4 321.7,18.4 322.2,18.4 322.7,18.4 323.2,18.4 323.7,18.4 324.2,18.4 324.7,18.4 325.2,18.4 325.7,18.4 326.2,18.4 326.7,18.4 327.2,18.4 327.7,18.4 328.2,18.4 328.7,18.4 329.2,18.4 329.7,18.4 330.2,18.4 330.7,18.4 331.2,18.41 331.7,18.49 332.2,18.6 332.7,18.73 333.2,18.88 333.7,19.04 334.2,19.21 334.7,19.39 335.2,19.57 335.7,19.76 336.2,19.96 336.7,20.17 337.2,20.37 337.7,20.59 338.2,20.8 338.7,21.02 339.2,21.24 339.7,21.47 340.2,21.7 340.7,21.92 341.2,22.16 341.7,22.39 342.2,22.62 342.7,22.86 343.2,23.09 343.7,23.33 344.2,23.57 344.7,23.8 345.2,24.04 345.7,24.28 346.2,24.52 346.7,24.76 347.2,24.99 347.7,25.23 348.2,25.47 348.7,25.7 349.2,25.94 349.7,26.17 350.2,26.41 350.7,26.64 351.2,26.87 351.7,27.1 352.2,27.33 352.7,27.56 353.2,27.78 353.7,28.01 354.2,28.23 354.7,28.45 355.2,28.68 355.7,28.89 356.2,29.11 356.7,29.33 357.2,29.54 357.7,29.75 358.2,29.97 358.7,30.17 359.2,30.38 359.7,30.59 360.2,30.79 360.7,30.99 361.2,31.19 361.7,31.39 362.2,31.58 362.7,31.78 363.2,31.97 363.7,32.16 364.2,32.35 364.7,32.53 365.2,32.72 365.7,32.9 366.2,33.08 366.7,33.25 367.2,33.43 367.7,33.6 368.2,33.77 368.7,33.94 369.2,34.11 369.7,34.28 370.2,34.44 370.7,34.6 371.2,34.76 371.7,34.92 372.2,35.07 372.7,35.22 373.2,35.37 373.7,35.52 374.2,35.67 374.7,35.81 375.2,35.96 375.7,36.1 376.2,36.24 376.7,36.37 377.2,36.51 377.7,36.64 378.2,36.77 378.7,36.9 379.2,37.03 379.7,37.16 380.2,37.28 380.7,37.4 381.2,37.52 381.7,37.64 382.2,37.76 382.7,37.87 383.2,37.99 383.7,38.1 384.2,38.21 384.7,38.31 385.2,38.42 385.7,38.52 386.2,38.63 386.7,38.73 387.2,38.83 387.7,38.93 388.2,39.02 388.7,39.12 389.2,39.21 389.7,39.3 390.2,39.39 390.7,39.48 391.2,39.57 391.7,39.65 392.2,39.74 392.7,39.82 393.2,39.9 393.7,39.98 394.2,40.06 394.7,40.14 395.2,40.21 395.7,40.29 396.2,40.36 396.7,40.43 397.2,40.51 397.7,40.57 398.2,40.64 398.7,40.71 399.2,40.78 399.7,40.84 400.2,40.9 400.7,40.97 401.2,41.03 401.7,41.09 402.2,41.15 402.7,41.2 403.2,41.26 403.7,41.32 404.2,41.37 404.7,41.43 405.2,41.48 405.7,41.53 406.2,41.58 406.7,41.63 407.2,41.68 407.7,41.73 408.2,41.77 408.7,41.82 409.2,41.87 409.7,41.91 410.2,41.95 410.7,42 411.2,42.04 411.7,42.08 412.2,42.12 412.7,42.16 413.2,42.2 413.7,42.24 414.2,42.27 414.7,42.31 415.2,42.34 415.7,42.38 416.2,42.41 416.7,42.45 417.2,42.48 417.7,42.51 418.2,42.54 418.7,42.57 419.2,42.6 419.7,42.63 420.2,42.66 420.7,42.69 421.2,42.72 421.7,42.75 422.2,42.77 422.7,42.8 423.2,42.82 423.7,42.85 424.2,42.87 424.7,42.9 425.2,42.92 425.7,42.95 426.2,42.97 426.7,42.99 427.2,43.01 427.7,43.03 428.2,43.05 428.7,43.07 429.2,43.09 429.7,43.11 430.2,43.13 430.7,43.15 431.2,43.17 431.7,43.19 432.2,43.2 432.7,43.22 433.2,43.24 433.7,43.25 434.2,43.27 434.7,43.28 435.2,43.3 435.7,43.31 436.2,43.33 436.7,43.34 437.2,43.36 437.7,43.37 438.2,43.38 438.7,43.4 439.2,43.41 439.7,43.42 440.2,43.43 440.7,43.45 441.2,43.46 441.7,43.47 442.2,43.48 442.7,43.49 443.2,43.5 443.7,43.51 444.2,43.52 444.7,43.53 445.2,43.54 445.7,43.55 446.2,43.56 446.7,43.57 447.2,43.58 447.7,43.59 448.2,43.59 448.7,43.6 449.2,43.61 449.7,43.62 450.2,43.63 450.7,43.63 451.2,43.64 451.7,43.65 452.2,43.65 452.7,43.66 453.2,43.67 453.7,43.67 454.2,43.68 454.7,43.69 455.2,43.69 455.7,43.7 456.2,43.7 456.7,43.71 457.2,43.72 457.7,43.72 458.2,43.73 458.7,43.73 459.2,43.74 459.7,43.74 460.2,43.75 460.7,43.75 461.2,43.75 461.7,43.76 462.2,43.76" fill="none" stroke="#ff0000" stroke-width="1.0"/>
<circle cx="302.1" cy="18.4" r="1.25" fill="#ff0000"/>
<circle cx="306.79" cy="18.4" r="1.25" fill="#ff0000"/>
<circle cx="311.48" cy="18.4" r="1.25" fill="#ff0000"/>
<circle cx="316.17" cy="18.4" r="1.25" fill="#ff0000"/>
<circle cx="320.86" cy="18.4" r="1.25" fill="#ff0000"/>
<circle cx="325.55" cy="18.4" r="1.25" fill="#ff0000"/>
<circle cx="330.24" cy="18.4" r="1.25" fill="#ff0000"/>
<circle cx="334.93" cy="19.47" r="1.25" fill="#ff0000"/>
<circle cx="339.62" cy="21.43" r="1.25" fill="#ff0000"/>
<circle cx="344.31" cy="23.62" r="1.25" fill="#ff0000"/>
<circle cx="349" cy="25.84" r="1.25" fill="#ff0000"/>
<circle cx="353.69" cy="28" r="1.25" fill="#ff0000"/>
<circle cx="358.38" cy="30.04" r="1.25" fill="#ff0000"/>
<circle cx="363.07" cy="31.92" r="1.25" fill="#ff0000"/>
<circle cx="367.76" cy="33.62" r="1.25" fill="#ff0000"/>
<circle cx="372.45" cy="35.15" r="1.25" fill="#ff0000"/>
<circle cx="377.14" cy="36.49" r="1.25" fill="#ff0000"/>
<circle cx="381.83" cy="37.67" r="1.25" fill="#ff0000"/>
<circle cx="386.52" cy="38.69" r="1.25" fill="#ff0000"/>
<circle cx="391.21" cy="39.57" r="1.25" fill="#ff0000"/>
<circle cx="395.9" cy="40.32" r="1.25" fill="#ff0000"/>
<circle cx="400.59" cy="40.95" r="1.25" fill="#ff0000"/>
<circle cx="405.28" cy="41.49" r="1.25" fill="#ff0000"/>
<circle cx="409.97" cy="41.93" r="1.25" fill="#ff0000"/>
<circle cx="414.66" cy="42.31" r="1.25" fill="#ff0000"/>
<circle cx="419.35" cy="42.61" r="1.25" fill="#ff0000"/>
<circle cx="424.04" cy="42.87" r="1.25" fill="#ff0000"/>
<circle cx="428.73" cy="43.07" r="1.25" fill="#ff0000"/>
<circle cx="433.42" cy="43.24" r="1.25" fill="#ff0000"/>
<circle cx="438.11" cy="43.38" r="1.25" fill="#ff0000"/>
<circle cx="442.8" cy="43.49" r="1.25" fill="#ff0000"/>
<circle cx="447.49" cy="43.58" r="1.25" fill="#ff0000"/>
<circle cx="452.18" cy="43.65" r="1.25" fill="#ff0000"/>
<circle cx="456.87" cy="43.71" r="1.25" fill="#ff0000"/>
<circle cx="461.56" cy="43.76" r="1.25" fill="#ff0000"/>
<line x1="299.5" y1="14.4" x2="299.5" y2="110.95" stroke="#3a3a3a" stroke-width="0.9" />
<line x1="299.05" y1="110.5" x2="463" y2="110.5" stroke="#3a3a3a" stroke-width="0.9" />
<line x1="296.8" y1="18.4" x2="299.5" y2="18.4" stroke="#3a3a3a" stroke-width="0.9" />
<text x="0" y="0" transform="translate(295.5 20.8) scale(1 1.07)" font-size="6.7" text-anchor="end" fill="#222" >0</text>
<line x1="296.8" y1="55.2" x2="299.5" y2="55.2" stroke="#3a3a3a" stroke-width="0.9" />
<text x="0" y="0" transform="translate(295.5 57.6) scale(1 1.07)" font-size="6.7" text-anchor="end" fill="#222" >-100</text>
<line x1="296.8" y1="92" x2="299.5" y2="92" stroke="#3a3a3a" stroke-width="0.9" />
<text x="0" y="0" transform="translate(295.5 94.4) scale(1 1.07)" font-size="6.7" text-anchor="end" fill="#222" >-200</text>
<line x1="322.6" y1="110.5" x2="322.6" y2="113.2" stroke="#3a3a3a" stroke-width="0.9" />
<text x="0" y="0" transform="translate(322.6 119.8) scale(1 1.07)" font-size="6.7" text-anchor="middle" fill="#222" >0</text>
<line x1="369.4" y1="110.5" x2="369.4" y2="113.2" stroke="#3a3a3a" stroke-width="0.9" />
<text x="0" y="0" transform="translate(369.4 119.8) scale(1 1.07)" font-size="6.7" text-anchor="middle" fill="#222" >1</text>
<line x1="416.2" y1="110.5" x2="416.2" y2="113.2" stroke="#3a3a3a" stroke-width="0.9" />
<text x="0" y="0" transform="translate(416.2 119.8) scale(1 1.07)" font-size="6.7" text-anchor="middle" fill="#222" >2</text>
<line x1="463" y1="110.5" x2="463" y2="113.2" stroke="#3a3a3a" stroke-width="0.9" />
<text x="0" y="0" transform="translate(463 119.8) scale(1 1.07)" font-size="6.7" text-anchor="middle" fill="#222" >3</text>
<text x="0" y="0" transform="translate(277.6 62.5) rotate(-90) scale(1 1.07)" font-size="6.6" text-anchor="middle" fill="#222" dominant-baseline="central">ΔOPL (nm)</text>
<text x="0" y="0" transform="translate(270.6 14) scale(1 0.97)" font-size="11" text-anchor="start" fill="#111" >(B)</text>
<rect x="322.6" y="140.1" width="5.1" height="105.2" fill="#b3d9b3"/>
<polyline points="299.7,143.6 304.4,141.5 309.2,145.6 314,143 318.6,144 323.3,146.2 328.3,151.1 332.9,157.5 337.5,163.1 342.1,172.3 346.8,176.3 351.4,174.1 356,169.5 360.6,167.7 366.1,164 370.7,162.1 375.4,159.4 380,157.5 384.7,155 389.4,152.8 394.1,152 398.8,151.8 402.4,152 407.1,149.7 411.8,146.5 416.5,151.2 421.2,148.3 425.8,146.8 430.5,149.7 435.2,144.6 439.9,146.1 444.5,145.6 449.2,143.8 453.9,142.4 458.6,148.3 462.6,143.8" fill="none" stroke="#ffa500" stroke-width="1.05" stroke-linejoin="round"/>
<polyline points="299.7,143.6 304.4,143.9 309.2,144.2 314,143.4 318.6,143.9 323.3,146 326.5,157.5 329.2,163.1 332.9,167.7 337.5,184.3 342.1,188.3 346.8,189.4 350.4,181.5 355,180.2 359.7,174.1 364.3,167.7 369.8,163.1 375.4,158.5 380,156.2 384.7,153.8 389.4,151.7 394.1,150.3 398.8,148.6 403.5,148.1 406.9,147.5 411.3,146.8 416.5,149 420.9,147.5 425.3,146.8 430.5,143.1 434.9,145.6 439.3,145.3 444.4,145.6 449.6,145 454.1,144.8 458.5,144.1 462.6,145" fill="none" stroke="#0000ff" stroke-width="1.05" stroke-linejoin="round"/>
<polyline points="299.7,143.6 304.4,143.8 309.2,143.4 314,144.2 318.6,143.7 323.3,146.5 326.5,164 330.1,176.9 333.8,190 335.7,200 339.2,209.5 342.1,217.3 346.1,216 350.5,205.2 353.9,200 359.7,190 364.3,176 368.9,170.4 373.5,164.9 380,160.3 384.7,157.4 389.4,154.2 394.1,151.8 398.8,150.6 403.5,149.8 408.2,147.3 411.3,145.3 416.5,148.3 420.9,149.7 425.3,146.8 430.2,147.6 434.9,149 439.6,147.5 444.5,146.8 449.3,147.2 454.1,148.6 458.5,145.6 462.6,146.1" fill="none" stroke="#008000" stroke-width="1.05" stroke-linejoin="round"/>
<polyline points="299.7,142.8 304.4,144.1 309.2,143.4 313.8,140.8 318.4,145.6 322.5,147.8 325.5,164 327.4,190 330.5,200 333.1,213.9 337.5,234.7 341.8,244.7 347,235.5 352.2,219 356.5,200 360,191.5 366.1,176.9 369.8,169.5 374.4,162.1 377.2,164 380,163.1 384.7,157 389.4,154.3 394.1,155.3 398.8,153.4 403.5,149.7 407.2,153.4 411.3,144.6 414.2,146.8 418.7,145.6 420.9,145 425.3,147.5 430.5,146.1 434.9,148.3 439.3,145.3 444.5,144.1 449.6,145.3 454.1,144.6 458.5,143.8 462.6,141.6" fill="none" stroke="#800080" stroke-width="1.05" stroke-linejoin="round"/>
<polyline points="300.5,143.6 305.2,144.6 309.9,143 314.5,143.6 319.2,142.4 323.9,143.6 328.6,149 333.3,154.2 337.9,156.1 342.6,163 347.3,165.5 352,163.9 356.6,162.6 361.3,161.3 366,158.9 370.7,156.9 375.4,152.8 380,156 384.7,152.4 389.4,153.8 394.1,149.5 398.7,149.5 403.4,149.7 408.1,146.1 412.8,146.8 417.5,149 422.1,148.3 426.8,143.4 431.5,149 436.2,140.9 440.8,146.5 445.5,145.3 450.2,144.6 454.9,145.6 459.6,140.9 462.8,146.1" fill="none" stroke="#ff0000" stroke-width="1.05" stroke-linejoin="round"/>
<circle cx="300.5" cy="143.6" r="1.25" fill="#ff0000"/>
<circle cx="305.2" cy="144.6" r="1.25" fill="#ff0000"/>
<circle cx="309.9" cy="143" r="1.25" fill="#ff0000"/>
<circle cx="314.5" cy="143.6" r="1.25" fill="#ff0000"/>
<circle cx="319.2" cy="142.4" r="1.25" fill="#ff0000"/>
<circle cx="323.9" cy="143.6" r="1.25" fill="#ff0000"/>
<circle cx="328.6" cy="149" r="1.25" fill="#ff0000"/>
<circle cx="333.3" cy="154.2" r="1.25" fill="#ff0000"/>
<circle cx="337.9" cy="156.1" r="1.25" fill="#ff0000"/>
<circle cx="342.6" cy="163" r="1.25" fill="#ff0000"/>
<circle cx="347.3" cy="165.5" r="1.25" fill="#ff0000"/>
<circle cx="352" cy="163.9" r="1.25" fill="#ff0000"/>
<circle cx="356.6" cy="162.6" r="1.25" fill="#ff0000"/>
<circle cx="361.3" cy="161.3" r="1.25" fill="#ff0000"/>
<circle cx="366" cy="158.9" r="1.25" fill="#ff0000"/>
<circle cx="370.7" cy="156.9" r="1.25" fill="#ff0000"/>
<circle cx="375.4" cy="152.8" r="1.25" fill="#ff0000"/>
<circle cx="380" cy="156" r="1.25" fill="#ff0000"/>
<circle cx="384.7" cy="152.4" r="1.25" fill="#ff0000"/>
<circle cx="389.4" cy="153.8" r="1.25" fill="#ff0000"/>
<circle cx="394.1" cy="149.5" r="1.25" fill="#ff0000"/>
<circle cx="398.7" cy="149.5" r="1.25" fill="#ff0000"/>
<circle cx="403.4" cy="149.7" r="1.25" fill="#ff0000"/>
<circle cx="408.1" cy="146.1" r="1.25" fill="#ff0000"/>
<circle cx="412.8" cy="146.8" r="1.25" fill="#ff0000"/>
<circle cx="417.5" cy="149" r="1.25" fill="#ff0000"/>
<circle cx="422.1" cy="148.3" r="1.25" fill="#ff0000"/>
<circle cx="426.8" cy="143.4" r="1.25" fill="#ff0000"/>
<circle cx="431.5" cy="149" r="1.25" fill="#ff0000"/>
<circle cx="436.2" cy="140.9" r="1.25" fill="#ff0000"/>
<circle cx="440.8" cy="146.5" r="1.25" fill="#ff0000"/>
<circle cx="445.5" cy="145.3" r="1.25" fill="#ff0000"/>
<circle cx="450.2" cy="144.6" r="1.25" fill="#ff0000"/>
<circle cx="454.9" cy="145.6" r="1.25" fill="#ff0000"/>
<circle cx="459.6" cy="140.9" r="1.25" fill="#ff0000"/>
<circle cx="462.8" cy="146.1" r="1.25" fill="#ff0000"/>
<line x1="299.5" y1="140.2" x2="299.5" y2="245.75" stroke="#3a3a3a" stroke-width="0.9" />
<line x1="299.05" y1="245.3" x2="462.8" y2="245.3" stroke="#3a3a3a" stroke-width="0.9" />
<line x1="296.8" y1="143.6" x2="299.5" y2="143.6" stroke="#3a3a3a" stroke-width="0.9" />
<text x="0" y="0" transform="translate(295.5 146) scale(1 1.07)" font-size="6.7" text-anchor="end" fill="#222" >0</text>
<line x1="296.8" y1="177.4" x2="299.5" y2="177.4" stroke="#3a3a3a" stroke-width="0.9" />
<text x="0" y="0" transform="translate(295.5 179.8) scale(1 1.07)" font-size="6.7" text-anchor="end" fill="#222" >-100</text>
<line x1="296.8" y1="211.2" x2="299.5" y2="211.2" stroke="#3a3a3a" stroke-width="0.9" />
<text x="0" y="0" transform="translate(295.5 213.6) scale(1 1.07)" font-size="6.7" text-anchor="end" fill="#222" >-200</text>
<line x1="296.8" y1="245" x2="299.5" y2="245" stroke="#3a3a3a" stroke-width="0.9" />
<text x="0" y="0" transform="translate(295.5 247.4) scale(1 1.07)" font-size="6.7" text-anchor="end" fill="#222" >-300</text>
<line x1="322.6" y1="245.3" x2="322.6" y2="248" stroke="#3a3a3a" stroke-width="0.9" />
<text x="0" y="0" transform="translate(322.6 254.6) scale(1 1.07)" font-size="6.7" text-anchor="middle" fill="#222" >0</text>
<line x1="369.3" y1="245.3" x2="369.3" y2="248" stroke="#3a3a3a" stroke-width="0.9" />
<text x="0" y="0" transform="translate(369.3 254.6) scale(1 1.07)" font-size="6.7" text-anchor="middle" fill="#222" >1</text>
<line x1="416" y1="245.3" x2="416" y2="248" stroke="#3a3a3a" stroke-width="0.9" />
<text x="0" y="0" transform="translate(416 254.6) scale(1 1.07)" font-size="6.7" text-anchor="middle" fill="#222" >2</text>
<line x1="462.7" y1="245.3" x2="462.7" y2="248" stroke="#3a3a3a" stroke-width="0.9" />
<text x="0" y="0" transform="translate(462.7 254.6) scale(1 1.07)" font-size="6.7" text-anchor="middle" fill="#222" >3</text>
<text x="0" y="0" transform="translate(277.2 192.5) rotate(-90) scale(1 1.07)" font-size="6.6" text-anchor="middle" fill="#222" dominant-baseline="central">d(ΔOPL)/dt (nm/ms)</text>
<text x="0" y="0" transform="translate(381.5 263.2) scale(1 1.07)" font-size="6.7" text-anchor="middle" fill="#222" >Time (ms)</text>
<text x="0" y="0" transform="translate(270.6 144.4) scale(1 0.97)" font-size="11" text-anchor="start" fill="#111" >(C)</text>
<rect x="408.2" y="192" width="51.5" height="49.8" rx="1" fill="#fff" fill-opacity="0.85" stroke="#d8d8d8" stroke-width="0.6"/>
<line x1="409.8" y1="196.8" x2="421.3" y2="196.8" stroke="#ff0000" stroke-width="0.9" />
<circle cx="415.6" cy="196.8" r="1.25" fill="#ff0000"/>
<text x="0" y="0" transform="translate(426.2 198.9) scale(1 1.07)" font-size="5.9" text-anchor="start" fill="#222" >4.88 μJ</text>
<line x1="409.8" y1="204.7" x2="421.3" y2="204.7" stroke="#ffa500" stroke-width="0.9" />
<text x="0" y="0" transform="translate(426.2 206.8) scale(1 1.07)" font-size="5.9" text-anchor="start" fill="#222" >10.08 μJ</text>
<line x1="409.8" y1="212.6" x2="421.3" y2="212.6" stroke="#0000ff" stroke-width="0.9" />
<text x="0" y="0" transform="translate(426.2 214.7) scale(1 1.07)" font-size="5.9" text-anchor="start" fill="#222" >21.45 μJ</text>
<line x1="409.8" y1="220.6" x2="421.3" y2="220.6" stroke="#008000" stroke-width="0.9" />
<text x="0" y="0" transform="translate(426.2 222.7) scale(1 1.07)" font-size="5.9" text-anchor="start" fill="#222" >40.86 μJ</text>
<line x1="409.8" y1="228.6" x2="421.3" y2="228.6" stroke="#800080" stroke-width="0.9" />
<text x="0" y="0" transform="translate(426.2 230.7) scale(1 1.07)" font-size="5.9" text-anchor="start" fill="#222" >77.50 μJ</text>
<rect x="409.8" y="234.3" width="11.5" height="5.2" fill="#b3d9b3"/>
<text x="0" y="0" transform="translate(426.2 239.1) scale(1 1.07)" font-size="5.9" text-anchor="start" fill="#222" >0.1-ms flash</text>
<line x1="509.5" y1="14.4" x2="509.5" y2="110.95" stroke="#3a3a3a" stroke-width="0.9" />
<line x1="509.05" y1="110.5" x2="674.8" y2="110.5" stroke="#3a3a3a" stroke-width="0.9" />
<line x1="506.8" y1="14.4" x2="509.5" y2="14.4" stroke="#3a3a3a" stroke-width="0.9" />
<text x="0" y="0" transform="translate(505.5 16.76) scale(1 1.07)" font-size="6.6" text-anchor="end" fill="#222" >0</text>
<line x1="506.8" y1="46.6" x2="509.5" y2="46.6" stroke="#3a3a3a" stroke-width="0.9" />
<text x="0" y="0" transform="translate(505.5 48.96) scale(1 1.07)" font-size="6.6" text-anchor="end" fill="#222" >-100</text>
<line x1="506.8" y1="78.8" x2="509.5" y2="78.8" stroke="#3a3a3a" stroke-width="0.9" />
<text x="0" y="0" transform="translate(505.5 81.16) scale(1 1.07)" font-size="6.6" text-anchor="end" fill="#222" >-200</text>
<line x1="506.8" y1="111" x2="509.5" y2="111" stroke="#3a3a3a" stroke-width="0.9" />
<text x="0" y="0" transform="translate(505.5 113.36) scale(1 1.07)" font-size="6.6" text-anchor="end" fill="#222" >-300</text>
<line x1="528.55" y1="110.5" x2="528.55" y2="113.2" stroke="#3a3a3a" stroke-width="0.9" />
<text x="0" y="0" transform="translate(528.55 119.8) scale(1 1.07)" font-size="6.6" text-anchor="middle" fill="#222" >10</text>
<line x1="548" y1="110.5" x2="548" y2="113.2" stroke="#3a3a3a" stroke-width="0.9" />
<text x="0" y="0" transform="translate(548 119.8) scale(1 1.07)" font-size="6.6" text-anchor="middle" fill="#222" >20</text>
<line x1="567.45" y1="110.5" x2="567.45" y2="113.2" stroke="#3a3a3a" stroke-width="0.9" />
<text x="0" y="0" transform="translate(567.45 119.8) scale(1 1.07)" font-size="6.6" text-anchor="middle" fill="#222" >30</text>
<line x1="586.9" y1="110.5" x2="586.9" y2="113.2" stroke="#3a3a3a" stroke-width="0.9" />
<text x="0" y="0" transform="translate(586.9 119.8) scale(1 1.07)" font-size="6.6" text-anchor="middle" fill="#222" >40</text>
<line x1="606.35" y1="110.5" x2="606.35" y2="113.2" stroke="#3a3a3a" stroke-width="0.9" />
<text x="0" y="0" transform="translate(606.35 119.8) scale(1 1.07)" font-size="6.6" text-anchor="middle" fill="#222" >50</text>
<line x1="625.8" y1="110.5" x2="625.8" y2="113.2" stroke="#3a3a3a" stroke-width="0.9" />
<text x="0" y="0" transform="translate(625.8 119.8) scale(1 1.07)" font-size="6.6" text-anchor="middle" fill="#222" >60</text>
<line x1="645.25" y1="110.5" x2="645.25" y2="113.2" stroke="#3a3a3a" stroke-width="0.9" />
<text x="0" y="0" transform="translate(645.25 119.8) scale(1 1.07)" font-size="6.6" text-anchor="middle" fill="#222" >70</text>
<line x1="664.7" y1="110.5" x2="664.7" y2="113.2" stroke="#3a3a3a" stroke-width="0.9" />
<text x="0" y="0" transform="translate(664.7 119.8) scale(1 1.07)" font-size="6.6" text-anchor="middle" fill="#222" >80</text>
<text x="0" y="0" transform="translate(487.5 62.9) rotate(-90) scale(1 1.07)" font-size="6.6" text-anchor="middle" fill="#222" dominant-baseline="central">ΔOPL (nm)</text>
<text x="0" y="0" transform="translate(591.7 12) scale(1 1.07)" font-size="7.6" text-anchor="middle" fill="#222" >Rapid contraction amplitude</text>
<text x="0" y="0" transform="translate(481 14) scale(1 0.97)" font-size="11" text-anchor="start" fill="#111" >(D)</text>
<line x1="518.5" y1="34.2" x2="518.5" y2="37.7" stroke="#333" stroke-width="0.9" />
<line x1="516.1" y1="34.2" x2="520.9" y2="34.2" stroke="#333" stroke-width="0.9" />
<line x1="516.1" y1="37.7" x2="520.9" y2="37.7" stroke="#333" stroke-width="0.9" />
<circle cx="518.5" cy="36" r="1.8" fill="#000"/>
<circle cx="520.8" cy="33.4" r="1.0" fill="#ff0000" fill-opacity="0.8"/>
<circle cx="519.8" cy="35.3" r="1.0" fill="#ff0000" fill-opacity="0.8"/>
<circle cx="519.3" cy="36.6" r="1.0" fill="#ff0000" fill-opacity="0.8"/>
<circle cx="519" cy="37.8" r="1.0" fill="#ff0000" fill-opacity="0.8"/>
<circle cx="518.9" cy="38.7" r="1.0" fill="#ff0000" fill-opacity="0.8"/>
<line x1="529" y1="41.6" x2="529" y2="51.3" stroke="#333" stroke-width="0.9" />
<line x1="526.6" y1="41.6" x2="531.4" y2="41.6" stroke="#333" stroke-width="0.9" />
<line x1="526.6" y1="51.3" x2="531.4" y2="51.3" stroke="#333" stroke-width="0.9" />
<circle cx="529" cy="46.4" r="1.8" fill="#000"/>
<circle cx="531.6" cy="40.3" r="1.0" fill="#ffa500" fill-opacity="0.8"/>
<circle cx="529.3" cy="43.5" r="1.0" fill="#ffa500" fill-opacity="0.8"/>
<circle cx="532" cy="47" r="1.0" fill="#ffa500" fill-opacity="0.8"/>
<circle cx="528.5" cy="48.5" r="1.0" fill="#ffa500" fill-opacity="0.8"/>
<circle cx="528.8" cy="52.3" r="1.0" fill="#ffa500" fill-opacity="0.8"/>
<line x1="551.2" y1="51" x2="551.2" y2="58.3" stroke="#333" stroke-width="0.9" />
<line x1="548.8" y1="51" x2="553.6" y2="51" stroke="#333" stroke-width="0.9" />
<line x1="548.8" y1="58.3" x2="553.6" y2="58.3" stroke="#333" stroke-width="0.9" />
<circle cx="551.2" cy="54.5" r="1.8" fill="#000"/>
<circle cx="553.8" cy="49" r="1.0" fill="#0000ff" fill-opacity="0.8"/>
<circle cx="551" cy="54.5" r="1.0" fill="#0000ff" fill-opacity="0.8"/>
<circle cx="550" cy="56.5" r="1.0" fill="#0000ff" fill-opacity="0.8"/>
<circle cx="553" cy="58.5" r="1.0" fill="#0000ff" fill-opacity="0.8"/>
<line x1="588.8" y1="71.5" x2="588.8" y2="78.5" stroke="#333" stroke-width="0.9" />
<line x1="586.4" y1="71.5" x2="591.2" y2="71.5" stroke="#333" stroke-width="0.9" />
<line x1="586.4" y1="78.5" x2="591.2" y2="78.5" stroke="#333" stroke-width="0.9" />
<circle cx="588.8" cy="75" r="1.8" fill="#000"/>
<circle cx="585.8" cy="70" r="1.0" fill="#008000" fill-opacity="0.8"/>
<circle cx="590.8" cy="75.5" r="1.0" fill="#008000" fill-opacity="0.8"/>
<circle cx="586.5" cy="77.5" r="1.0" fill="#008000" fill-opacity="0.8"/>
<line x1="659.8" y1="80.3" x2="659.8" y2="96.3" stroke="#333" stroke-width="0.9" />
<line x1="657.4" y1="80.3" x2="662.2" y2="80.3" stroke="#333" stroke-width="0.9" />
<line x1="657.4" y1="96.3" x2="662.2" y2="96.3" stroke="#333" stroke-width="0.9" />
<circle cx="659.8" cy="88.3" r="1.8" fill="#000"/>
<circle cx="662" cy="80.5" r="1.0" fill="#800080" fill-opacity="0.8"/>
<circle cx="661.5" cy="83" r="1.0" fill="#800080" fill-opacity="0.8"/>
<circle cx="663" cy="91.5" r="1.0" fill="#800080" fill-opacity="0.8"/>
<circle cx="661.5" cy="98.6" r="1.0" fill="#800080" fill-opacity="0.8"/>
<line x1="507.5" y1="149" x2="507.5" y2="245.75" stroke="#3a3a3a" stroke-width="0.9" />
<line x1="507.05" y1="245.3" x2="679" y2="245.3" stroke="#3a3a3a" stroke-width="0.9" />
<line x1="504.8" y1="172.8" x2="507.5" y2="172.8" stroke="#3a3a3a" stroke-width="0.9" />
<text x="0" y="0" transform="translate(503.5 175.16) scale(1 1.07)" font-size="6.6" text-anchor="end" fill="#222" >0.5</text>
<line x1="504.8" y1="208.9" x2="507.5" y2="208.9" stroke="#3a3a3a" stroke-width="0.9" />
<text x="0" y="0" transform="translate(503.5 211.26) scale(1 1.07)" font-size="6.6" text-anchor="end" fill="#222" >0.3</text>
<line x1="504.8" y1="245" x2="507.5" y2="245" stroke="#3a3a3a" stroke-width="0.9" />
<text x="0" y="0" transform="translate(503.5 247.36) scale(1 1.07)" font-size="6.6" text-anchor="end" fill="#222" >0.1</text>
<line x1="527.73" y1="245.3" x2="527.73" y2="248" stroke="#3a3a3a" stroke-width="0.9" />
<text x="0" y="0" transform="translate(527.73 254.6) scale(1 1.07)" font-size="6.6" text-anchor="middle" fill="#222" >10</text>
<line x1="547.85" y1="245.3" x2="547.85" y2="248" stroke="#3a3a3a" stroke-width="0.9" />
<text x="0" y="0" transform="translate(547.85 254.6) scale(1 1.07)" font-size="6.6" text-anchor="middle" fill="#222" >20</text>
<line x1="567.98" y1="245.3" x2="567.98" y2="248" stroke="#3a3a3a" stroke-width="0.9" />
<text x="0" y="0" transform="translate(567.98 254.6) scale(1 1.07)" font-size="6.6" text-anchor="middle" fill="#222" >30</text>
<line x1="588.1" y1="245.3" x2="588.1" y2="248" stroke="#3a3a3a" stroke-width="0.9" />
<text x="0" y="0" transform="translate(588.1 254.6) scale(1 1.07)" font-size="6.6" text-anchor="middle" fill="#222" >40</text>
<line x1="608.23" y1="245.3" x2="608.23" y2="248" stroke="#3a3a3a" stroke-width="0.9" />
<text x="0" y="0" transform="translate(608.23 254.6) scale(1 1.07)" font-size="6.6" text-anchor="middle" fill="#222" >50</text>
<line x1="628.35" y1="245.3" x2="628.35" y2="248" stroke="#3a3a3a" stroke-width="0.9" />
<text x="0" y="0" transform="translate(628.35 254.6) scale(1 1.07)" font-size="6.6" text-anchor="middle" fill="#222" >60</text>
<line x1="648.48" y1="245.3" x2="648.48" y2="248" stroke="#3a3a3a" stroke-width="0.9" />
<text x="0" y="0" transform="translate(648.48 254.6) scale(1 1.07)" font-size="6.6" text-anchor="middle" fill="#222" >70</text>
<line x1="668.6" y1="245.3" x2="668.6" y2="248" stroke="#3a3a3a" stroke-width="0.9" />
<text x="0" y="0" transform="translate(668.6 254.6) scale(1 1.07)" font-size="6.6" text-anchor="middle" fill="#222" >80</text>
<text x="0" y="0" transform="translate(488.6 196.6) rotate(-90) scale(1 1.07)" font-size="6.75" text-anchor="middle" fill="#222" dominant-baseline="central">Time (ms)</text>
<text x="0" y="0" transform="translate(593.3 262.8) scale(1 1.07)" font-size="6.6" text-anchor="middle" fill="#222" >Pulse Energy (μJ)</text>
<text x="0" y="0" transform="translate(593.1 146.2) scale(1 1.07)" font-size="7.55" text-anchor="middle" fill="#222" >Latency of maximum contraction rate</text>
<text x="0" y="0" transform="translate(482 144.8) scale(1 0.97)" font-size="11" text-anchor="start" fill="#111" >(E)</text>
<line x1="517.5" y1="153.5" x2="517.5" y2="173.3" stroke="#333" stroke-width="0.9" />
<line x1="515.1" y1="153.5" x2="519.9" y2="153.5" stroke="#333" stroke-width="0.9" />
<line x1="515.1" y1="173.3" x2="519.9" y2="173.3" stroke="#333" stroke-width="0.9" />
<circle cx="517.5" cy="163.3" r="1.8" fill="#000"/>
<circle cx="520" cy="151" r="1.0" fill="#ff0000" fill-opacity="0.8"/>
<circle cx="519.5" cy="159.8" r="1.0" fill="#ff0000" fill-opacity="0.8"/>
<circle cx="520" cy="169.2" r="1.0" fill="#ff0000" fill-opacity="0.8"/>
<circle cx="518" cy="173.5" r="1.0" fill="#ff0000" fill-opacity="0.8"/>
<line x1="528" y1="158.5" x2="528" y2="173" stroke="#333" stroke-width="0.9" />
<line x1="525.6" y1="158.5" x2="530.4" y2="158.5" stroke="#333" stroke-width="0.9" />
<line x1="525.6" y1="173" x2="530.4" y2="173" stroke="#333" stroke-width="0.9" />
<circle cx="528" cy="165.8" r="1.8" fill="#000"/>
<circle cx="525.2" cy="153" r="1.0" fill="#ffa500" fill-opacity="0.8"/>
<circle cx="528.5" cy="168" r="1.0" fill="#ffa500" fill-opacity="0.8"/>
<circle cx="529" cy="170" r="1.0" fill="#ffa500" fill-opacity="0.8"/>
<circle cx="528" cy="172" r="1.0" fill="#ffa500" fill-opacity="0.8"/>
<line x1="551" y1="164.5" x2="551" y2="181.3" stroke="#333" stroke-width="0.9" />
<line x1="548.6" y1="164.5" x2="553.4" y2="164.5" stroke="#333" stroke-width="0.9" />
<line x1="548.6" y1="181.3" x2="553.4" y2="181.3" stroke="#333" stroke-width="0.9" />
<circle cx="551" cy="172.8" r="1.8" fill="#000"/>
<circle cx="549.2" cy="164.6" r="1.0" fill="#0000ff" fill-opacity="0.8"/>
<circle cx="552.6" cy="164.2" r="1.0" fill="#0000ff" fill-opacity="0.8"/>
<circle cx="553" cy="181.5" r="1.0" fill="#0000ff" fill-opacity="0.8"/>
<circle cx="552" cy="180" r="1.0" fill="#0000ff" fill-opacity="0.8"/>
<line x1="590" y1="172.2" x2="590" y2="181.5" stroke="#333" stroke-width="0.9" />
<line x1="587.6" y1="172.2" x2="592.4" y2="172.2" stroke="#333" stroke-width="0.9" />
<line x1="587.6" y1="181.5" x2="592.4" y2="181.5" stroke="#333" stroke-width="0.9" />
<circle cx="590" cy="177" r="1.8" fill="#000"/>
<circle cx="592" cy="171.5" r="1.0" fill="#008000" fill-opacity="0.8"/>
<circle cx="587" cy="176" r="1.0" fill="#008000" fill-opacity="0.8"/>
<circle cx="592" cy="183" r="1.0" fill="#008000" fill-opacity="0.8"/>
<line x1="663.6" y1="177.5" x2="663.6" y2="190.5" stroke="#333" stroke-width="0.9" />
<line x1="661.2" y1="177.5" x2="666" y2="177.5" stroke="#333" stroke-width="0.9" />
<line x1="661.2" y1="190.5" x2="666" y2="190.5" stroke="#333" stroke-width="0.9" />
<circle cx="663.6" cy="184.3" r="1.8" fill="#000"/>
<circle cx="662.3" cy="177.5" r="1.0" fill="#800080" fill-opacity="0.8"/>
<circle cx="662" cy="180" r="1.0" fill="#800080" fill-opacity="0.8"/>
<circle cx="666.5" cy="186.5" r="1.0" fill="#800080" fill-opacity="0.8"/>
<circle cx="666" cy="192" r="1.0" fill="#800080" fill-opacity="0.8"/>
</svg></div>
</body></html>
